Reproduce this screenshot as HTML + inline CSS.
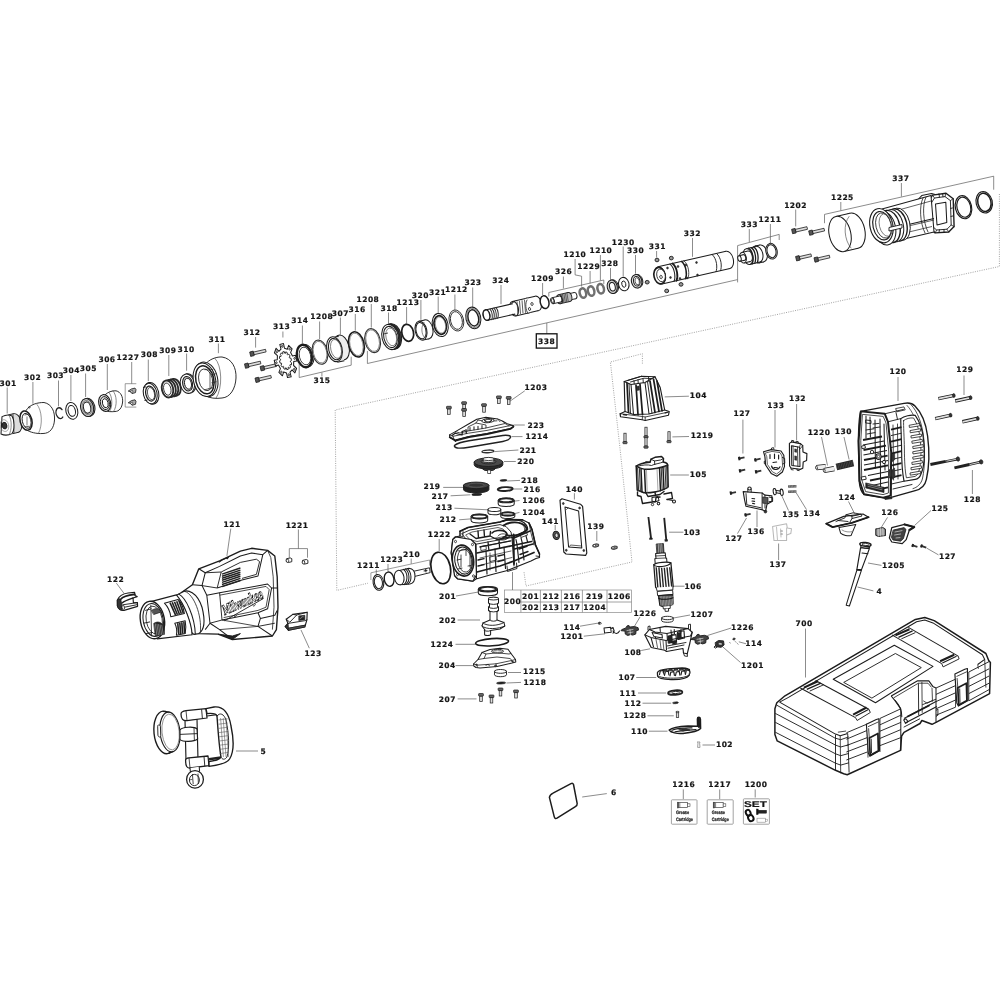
<!DOCTYPE html>
<html><head><meta charset="utf-8"><title>Exploded parts diagram</title>
<style>
html,body{margin:0;padding:0;background:#fff}
svg{display:block;filter:blur(0.3px)}
text{font-family:"DejaVu Sans","Liberation Sans",sans-serif;font-weight:bold;fill:#151515;letter-spacing:0.5px;text-rendering:geometricPrecision;stroke:#151515;stroke-width:0.2px}
</style></head><body>
<svg width="1000" height="1000" viewBox="0 0 1000 1000">
<rect width="1000" height="1000" fill="#fff"/>
<polyline points="999.4,194 999.4,266.5 335.2,410 336.8,590.4 368,583.2" fill="none" stroke="#8c8c8c" stroke-width="0.8" stroke-linejoin="round" stroke-dasharray="1 1.3"/>
<polyline points="642.4,363.6 642.4,353.7 610.4,362 620,448.4 632,562 526,586 524,572" fill="none" stroke="#8c8c8c" stroke-width="0.8" stroke-linejoin="round" stroke-dasharray="1 1.3"/>
<text x="536" y="389.5" text-anchor="middle" font-size="7.5">1203</text>
<polyline points="524.8,390.8 508.8,402" fill="none" stroke="#5a5a5a" stroke-width="0.7" stroke-linejoin="round"/>
<text x="536" y="427.5" text-anchor="middle" font-size="7.5">223</text>
<polyline points="524.8,425 513.6,425" fill="none" stroke="#5a5a5a" stroke-width="0.7" stroke-linejoin="round"/>
<text x="537" y="439.1" text-anchor="middle" font-size="7.5">1214</text>
<polyline points="522.5,436.6 512,436.6" fill="none" stroke="#5a5a5a" stroke-width="0.7" stroke-linejoin="round"/>
<text x="528" y="452.5" text-anchor="middle" font-size="7.5">221</text>
<polyline points="518.4,450 494.4,451.6" fill="none" stroke="#5a5a5a" stroke-width="0.7" stroke-linejoin="round"/>
<text x="525.8" y="464" text-anchor="middle" font-size="7.5">220</text>
<polyline points="515.8,461.5 504,461.5" fill="none" stroke="#5a5a5a" stroke-width="0.7" stroke-linejoin="round"/>
<text x="529.6" y="482.9" text-anchor="middle" font-size="7.5">218</text>
<polyline points="520,480.4 507.2,481" fill="none" stroke="#5a5a5a" stroke-width="0.7" stroke-linejoin="round"/>
<text x="532.2" y="491.5" text-anchor="middle" font-size="7.5">216</text>
<polyline points="522.2,489 512,489" fill="none" stroke="#5a5a5a" stroke-width="0.7" stroke-linejoin="round"/>
<text x="533.8" y="503" text-anchor="middle" font-size="7.5">1206</text>
<polyline points="519.5,500.5 513,501.3" fill="none" stroke="#5a5a5a" stroke-width="0.7" stroke-linejoin="round"/>
<text x="533.8" y="514.9" text-anchor="middle" font-size="7.5">1204</text>
<polyline points="519.5,512.4 513,514" fill="none" stroke="#5a5a5a" stroke-width="0.7" stroke-linejoin="round"/>
<text x="432" y="489.3" text-anchor="middle" font-size="7.5">219</text>
<polyline points="443.2,487.4 464,487.4" fill="none" stroke="#5a5a5a" stroke-width="0.7" stroke-linejoin="round"/>
<text x="440" y="498.9" text-anchor="middle" font-size="7.5">217</text>
<polyline points="450.6,495.8 470.4,494.8" fill="none" stroke="#5a5a5a" stroke-width="0.7" stroke-linejoin="round"/>
<text x="444.2" y="510.1" text-anchor="middle" font-size="7.5">213</text>
<polyline points="454.4,508.2 488,509.8" fill="none" stroke="#5a5a5a" stroke-width="0.7" stroke-linejoin="round"/>
<text x="448" y="522.3" text-anchor="middle" font-size="7.5">212</text>
<polyline points="459.2,519.8 472,518.8" fill="none" stroke="#5a5a5a" stroke-width="0.7" stroke-linejoin="round"/>
<text x="439.2" y="537.1" text-anchor="middle" font-size="7.5">1222</text>
<polyline points="439.2,539 439.2,551.2" fill="none" stroke="#5a5a5a" stroke-width="0.7" stroke-linejoin="round"/>
<text x="411.6" y="556.5" text-anchor="middle" font-size="7.5">210</text>
<polyline points="411.2,558.5 411.2,563.8" fill="none" stroke="#5a5a5a" stroke-width="0.7" stroke-linejoin="round"/>
<text x="391.8" y="562.3" text-anchor="middle" font-size="7.5">1223</text>
<polyline points="388,564 388,571.2" fill="none" stroke="#5a5a5a" stroke-width="0.7" stroke-linejoin="round"/>
<text x="368.5" y="567.5" text-anchor="middle" font-size="7.5">1211</text>
<polyline points="376.3,569.5 376.3,574.4" fill="none" stroke="#5a5a5a" stroke-width="0.7" stroke-linejoin="round"/>
<text x="447.6" y="598.9" text-anchor="middle" font-size="7.5">201</text>
<polyline points="456,596 478.4,592" fill="none" stroke="#5a5a5a" stroke-width="0.7" stroke-linejoin="round"/>
<text x="447.7" y="622.5" text-anchor="middle" font-size="7.5">202</text>
<polyline points="457.6,620 480,620" fill="none" stroke="#5a5a5a" stroke-width="0.7" stroke-linejoin="round"/>
<text x="442" y="646.8" text-anchor="middle" font-size="7.5">1224</text>
<polyline points="455.5,644.3 475,644.3" fill="none" stroke="#5a5a5a" stroke-width="0.7" stroke-linejoin="round"/>
<text x="447.1" y="668.1" text-anchor="middle" font-size="7.5">204</text>
<polyline points="455.5,665.6 473.5,665.6" fill="none" stroke="#5a5a5a" stroke-width="0.7" stroke-linejoin="round"/>
<text x="534.4" y="674.4" text-anchor="middle" font-size="7.5">1215</text>
<polyline points="521,672.5 508,672.5" fill="none" stroke="#5a5a5a" stroke-width="0.7" stroke-linejoin="round"/>
<text x="535" y="684.9" text-anchor="middle" font-size="7.5">1218</text>
<polyline points="521,682.4 506.5,683" fill="none" stroke="#5a5a5a" stroke-width="0.7" stroke-linejoin="round"/>
<text x="447.4" y="702" text-anchor="middle" font-size="7.5">207</text>
<polyline points="457.6,698.9 476.5,698.9" fill="none" stroke="#5a5a5a" stroke-width="0.7" stroke-linejoin="round"/>
<text x="574.4" y="491.5" text-anchor="middle" font-size="7.5">140</text>
<polyline points="574.4,493.2 574.4,499.5" fill="none" stroke="#5a5a5a" stroke-width="0.7" stroke-linejoin="round"/>
<text x="550.4" y="523.5" text-anchor="middle" font-size="7.5">141</text>
<polyline points="555.2,525 555.2,530" fill="none" stroke="#5a5a5a" stroke-width="0.7" stroke-linejoin="round"/>
<text x="595.8" y="529.3" text-anchor="middle" font-size="7.5">139</text>
<polyline points="596.8,531 596.8,541" fill="none" stroke="#5a5a5a" stroke-width="0.7" stroke-linejoin="round"/>
<text x="698.4" y="398.3" text-anchor="middle" font-size="7.5">104</text>
<polyline points="688.9,396.2 664.7,396.9" fill="none" stroke="#5a5a5a" stroke-width="0.7" stroke-linejoin="round"/>
<text x="702.1" y="438.3" text-anchor="middle" font-size="7.5">1219</text>
<polyline points="689,436.5 672.4,436.9" fill="none" stroke="#5a5a5a" stroke-width="0.7" stroke-linejoin="round"/>
<text x="698.4" y="477.2" text-anchor="middle" font-size="7.5">105</text>
<polyline points="688.9,475 670.2,475" fill="none" stroke="#5a5a5a" stroke-width="0.7" stroke-linejoin="round"/>
<text x="692.2" y="534.7" text-anchor="middle" font-size="7.5">103</text>
<polyline points="683.4,532.2 669.1,532.2" fill="none" stroke="#5a5a5a" stroke-width="0.7" stroke-linejoin="round"/>
<text x="693.2" y="588.7" text-anchor="middle" font-size="7.5">106</text>
<polyline points="684.5,586.2 673.8,586.2" fill="none" stroke="#5a5a5a" stroke-width="0.7" stroke-linejoin="round"/>
<text x="702" y="616.7" text-anchor="middle" font-size="7.5">1207</text>
<polyline points="690,615 672.5,618.2" fill="none" stroke="#5a5a5a" stroke-width="0.7" stroke-linejoin="round"/>
<text x="645" y="615.5" text-anchor="middle" font-size="7.5">1226</text>
<polyline points="640,617 634.5,626.2" fill="none" stroke="#5a5a5a" stroke-width="0.7" stroke-linejoin="round"/>
<text x="742.5" y="630" text-anchor="middle" font-size="7.5">1226</text>
<polyline points="731.2,628 707.5,635.5" fill="none" stroke="#5a5a5a" stroke-width="0.7" stroke-linejoin="round"/>
<text x="572" y="630" text-anchor="middle" font-size="7.5">114</text>
<polyline points="580,626.2 597.5,623.2" fill="none" stroke="#5a5a5a" stroke-width="0.7" stroke-linejoin="round"/>
<text x="572" y="638.8" text-anchor="middle" font-size="7.5">1201</text>
<polyline points="583.8,636.2 605,633.8" fill="none" stroke="#5a5a5a" stroke-width="0.7" stroke-linejoin="round"/>
<text x="633" y="655" text-anchor="middle" font-size="7.5">108</text>
<polyline points="641.2,650.5 650,648.8" fill="none" stroke="#5a5a5a" stroke-width="0.7" stroke-linejoin="round"/>
<text x="752.5" y="668" text-anchor="middle" font-size="7.5">1201</text>
<polyline points="740.5,662.5 722,646.2" fill="none" stroke="#5a5a5a" stroke-width="0.7" stroke-linejoin="round"/>
<text x="753.8" y="646.2" text-anchor="middle" font-size="7.5">114</text>
<polyline points="746.2,643.8 738.8,641.8" fill="none" stroke="#5a5a5a" stroke-width="0.7" stroke-linejoin="round"/>
<text x="627" y="680" text-anchor="middle" font-size="7.5">107</text>
<polyline points="636.2,677.5 656.2,677.5" fill="none" stroke="#5a5a5a" stroke-width="0.7" stroke-linejoin="round"/>
<text x="628" y="695.5" text-anchor="middle" font-size="7.5">111</text>
<polyline points="638,693 666.2,693" fill="none" stroke="#5a5a5a" stroke-width="0.7" stroke-linejoin="round"/>
<text x="633" y="705.8" text-anchor="middle" font-size="7.5">112</text>
<polyline points="642.5,703.2 671.2,703.2" fill="none" stroke="#5a5a5a" stroke-width="0.7" stroke-linejoin="round"/>
<text x="635" y="718.2" text-anchor="middle" font-size="7.5">1228</text>
<polyline points="647.5,715.8 673.8,715.8" fill="none" stroke="#5a5a5a" stroke-width="0.7" stroke-linejoin="round"/>
<text x="639.5" y="733.8" text-anchor="middle" font-size="7.5">110</text>
<polyline points="648.8,731.2 667.5,731.2" fill="none" stroke="#5a5a5a" stroke-width="0.7" stroke-linejoin="round"/>
<text x="724.5" y="747" text-anchor="middle" font-size="7.5">102</text>
<polyline points="715,745 702.5,745" fill="none" stroke="#5a5a5a" stroke-width="0.7" stroke-linejoin="round"/>
<text x="742" y="415.5" text-anchor="middle" font-size="7.5">127</text>
<polyline points="742.9,419.6 742.9,453.5" fill="none" stroke="#5a5a5a" stroke-width="0.7" stroke-linejoin="round"/>
<text x="775.9" y="408" text-anchor="middle" font-size="7.5">133</text>
<polyline points="775,410 775,447.5" fill="none" stroke="#5a5a5a" stroke-width="0.7" stroke-linejoin="round"/>
<text x="797.5" y="401.4" text-anchor="middle" font-size="7.5">132</text>
<polyline points="796.6,404 796.6,440" fill="none" stroke="#5a5a5a" stroke-width="0.7" stroke-linejoin="round"/>
<text x="819.1" y="435" text-anchor="middle" font-size="7.5">1220</text>
<polyline points="821.5,437 827.5,465.5" fill="none" stroke="#5a5a5a" stroke-width="0.7" stroke-linejoin="round"/>
<text x="843.4" y="434.4" text-anchor="middle" font-size="7.5">130</text>
<polyline points="844,437 849.1,459.5" fill="none" stroke="#5a5a5a" stroke-width="0.7" stroke-linejoin="round"/>
<text x="898" y="374.4" text-anchor="middle" font-size="7.5">120</text>
<polyline points="898,377 898,401" fill="none" stroke="#5a5a5a" stroke-width="0.7" stroke-linejoin="round"/>
<text x="964.9" y="372" text-anchor="middle" font-size="7.5">129</text>
<polyline points="964,375.5 964,395" fill="none" stroke="#5a5a5a" stroke-width="0.7" stroke-linejoin="round"/>
<text x="972.4" y="501.6" text-anchor="middle" font-size="7.5">128</text>
<polyline points="972.4,470 972.4,494" fill="none" stroke="#5a5a5a" stroke-width="0.7" stroke-linejoin="round"/>
<text x="847" y="500.1" text-anchor="middle" font-size="7.5">124</text>
<polyline points="848.5,501.5 854.5,513.5" fill="none" stroke="#5a5a5a" stroke-width="0.7" stroke-linejoin="round"/>
<text x="889.9" y="515.4" text-anchor="middle" font-size="7.5">126</text>
<polyline points="887.5,517.4 881.5,527" fill="none" stroke="#5a5a5a" stroke-width="0.7" stroke-linejoin="round"/>
<text x="940" y="510.6" text-anchor="middle" font-size="7.5">125</text>
<polyline points="931,510.5 914.5,525.5" fill="none" stroke="#5a5a5a" stroke-width="0.7" stroke-linejoin="round"/>
<text x="947.5" y="558.9" text-anchor="middle" font-size="7.5">127</text>
<polyline points="938.5,554.9 926.5,548" fill="none" stroke="#5a5a5a" stroke-width="0.7" stroke-linejoin="round"/>
<text x="893.5" y="567.9" text-anchor="middle" font-size="7.5">1205</text>
<polyline points="881.5,565.4 868,563" fill="none" stroke="#5a5a5a" stroke-width="0.7" stroke-linejoin="round"/>
<text x="879.4" y="594" text-anchor="middle" font-size="7.5">4</text>
<polyline points="873.4,590.9 857.5,587" fill="none" stroke="#5a5a5a" stroke-width="0.7" stroke-linejoin="round"/>
<text x="790.9" y="516.9" text-anchor="middle" font-size="7.5">135</text>
<polyline points="788.5,510.5 781,494" fill="none" stroke="#5a5a5a" stroke-width="0.7" stroke-linejoin="round"/>
<text x="811.9" y="516.3" text-anchor="middle" font-size="7.5">134</text>
<polyline points="806.5,509.6 796,492.5" fill="none" stroke="#5a5a5a" stroke-width="0.7" stroke-linejoin="round"/>
<text x="756.1" y="534" text-anchor="middle" font-size="7.5">136</text>
<polyline points="757,527 757,510.5" fill="none" stroke="#5a5a5a" stroke-width="0.7" stroke-linejoin="round"/>
<text x="733.9" y="540.9" text-anchor="middle" font-size="7.5">127</text>
<polyline points="737.5,533.6 746.5,518" fill="none" stroke="#5a5a5a" stroke-width="0.7" stroke-linejoin="round"/>
<text x="778" y="567" text-anchor="middle" font-size="7.5">137</text>
<polyline points="778.6,543.5 778.6,560" fill="none" stroke="#5a5a5a" stroke-width="0.7" stroke-linejoin="round"/>
<text x="804.2" y="626.4" text-anchor="middle" font-size="7.5">700</text>
<polyline points="805.5,628.6 805.5,677.5" fill="none" stroke="#5a5a5a" stroke-width="0.7" stroke-linejoin="round"/>
<text x="232.1" y="526.7" text-anchor="middle" font-size="7.5">121</text>
<polyline points="230.8,528.6 226.9,555.9" fill="none" stroke="#5a5a5a" stroke-width="0.7" stroke-linejoin="round"/>
<text x="297.1" y="527.7" text-anchor="middle" font-size="7.5">1221</text>
<polyline points="298.4,529.4 298.4,548.6" fill="none" stroke="#5a5a5a" stroke-width="0.7" stroke-linejoin="round"/>
<text x="115.6" y="581.8" text-anchor="middle" font-size="7.5">122</text>
<polyline points="116.4,583.2 124.2,593.6" fill="none" stroke="#5a5a5a" stroke-width="0.7" stroke-linejoin="round"/>
<text x="313.2" y="655.9" text-anchor="middle" font-size="7.5">123</text>
<polyline points="309.3,648.2 301,630" fill="none" stroke="#5a5a5a" stroke-width="0.7" stroke-linejoin="round"/>
<text x="263.4" y="753.5" text-anchor="middle" font-size="7.5">5</text>
<polyline points="236,751 258,751" fill="none" stroke="#5a5a5a" stroke-width="0.7" stroke-linejoin="round"/>
<text x="613.8" y="795.3" text-anchor="middle" font-size="7.5">6</text>
<polyline points="606.8,793.6 582.2,797" fill="none" stroke="#5a5a5a" stroke-width="0.7" stroke-linejoin="round"/>
<text x="683.8" y="787.1" text-anchor="middle" font-size="7.5">1216</text>
<polyline points="683.3,789.4 683.3,799.2" fill="none" stroke="#5a5a5a" stroke-width="0.7" stroke-linejoin="round"/>
<text x="719.7" y="787.1" text-anchor="middle" font-size="7.5">1217</text>
<polyline points="719.7,789.4 719.7,799.2" fill="none" stroke="#5a5a5a" stroke-width="0.7" stroke-linejoin="round"/>
<text x="756.1" y="787.1" text-anchor="middle" font-size="7.5">1200</text>
<polyline points="755.2,789.4 755.2,797.5" fill="none" stroke="#5a5a5a" stroke-width="0.7" stroke-linejoin="round"/>
<polyline points="289.3,557.7 289.3,548.6 307.5,548.6 307.5,557.7" fill="none" stroke="#5a5a5a" stroke-width="0.7" stroke-linejoin="round"/>
<polyline points="370.9,580 370.9,572.8 429.6,560 429.6,565.6" fill="none" stroke="#5a5a5a" stroke-width="0.6" stroke-linejoin="round"/>
<rect x="504.4" y="590" width="127.2" height="22.5" rx="0" fill="none" stroke="#8a8a8a" stroke-width="0.7"/>
<line x1="520.9" y1="590" x2="520.9" y2="612.5" stroke="#8a8a8a" stroke-width="0.8"/>
<line x1="540.4" y1="590" x2="540.4" y2="612.5" stroke="#8a8a8a" stroke-width="0.8"/>
<line x1="561.4" y1="590" x2="561.4" y2="612.5" stroke="#8a8a8a" stroke-width="0.8"/>
<line x1="582.4" y1="590" x2="582.4" y2="612.5" stroke="#8a8a8a" stroke-width="0.8"/>
<line x1="607" y1="590" x2="607" y2="612.5" stroke="#8a8a8a" stroke-width="0.8"/>
<line x1="520.9" y1="602" x2="631.6" y2="602" stroke="#8a8a8a" stroke-width="0.8"/>
<text x="512.7" y="603.9" text-anchor="middle" font-size="7.5">200</text>
<text x="530.6" y="599.1" text-anchor="middle" font-size="7.5">201</text>
<text x="551" y="599.1" text-anchor="middle" font-size="7.5">212</text>
<text x="572" y="599.1" text-anchor="middle" font-size="7.5">216</text>
<text x="594.7" y="599.1" text-anchor="middle" font-size="7.5">219</text>
<text x="619.3" y="599.1" text-anchor="middle" font-size="7.5">1206</text>
<text x="530.6" y="610.1" text-anchor="middle" font-size="7.5">202</text>
<text x="551" y="610.1" text-anchor="middle" font-size="7.5">213</text>
<text x="572" y="610.1" text-anchor="middle" font-size="7.5">217</text>
<text x="594.7" y="610.1" text-anchor="middle" font-size="7.5">1204</text>
<line x1="512.5" y1="590" x2="512.5" y2="572" stroke="#5a5a5a" stroke-width="0.7"/>
<text x="8.1" y="385.5" text-anchor="middle" font-size="7.5">301</text>
<line x1="7.2" y1="387.5" x2="7.2" y2="413.5" stroke="#5a5a5a" stroke-width="0.7"/>
<text x="32.6" y="380.3" text-anchor="middle" font-size="7.5">302</text>
<line x1="32.9" y1="382" x2="32.9" y2="403.7" stroke="#5a5a5a" stroke-width="0.7"/>
<text x="55.5" y="378.4" text-anchor="middle" font-size="7.5">303</text>
<line x1="58.5" y1="380.5" x2="58.5" y2="406.3" stroke="#5a5a5a" stroke-width="0.7"/>
<text x="71.3" y="372.9" text-anchor="middle" font-size="7.5">304</text>
<line x1="70.9" y1="375" x2="70.9" y2="401" stroke="#5a5a5a" stroke-width="0.7"/>
<text x="88.3" y="371.3" text-anchor="middle" font-size="7.5">305</text>
<line x1="85.6" y1="373.5" x2="85.6" y2="397" stroke="#5a5a5a" stroke-width="0.7"/>
<text x="107" y="362.1" text-anchor="middle" font-size="7.5">306</text>
<line x1="107.3" y1="364" x2="107.3" y2="390" stroke="#5a5a5a" stroke-width="0.7"/>
<text x="128" y="359.8" text-anchor="middle" font-size="7.5">1227</text>
<line x1="131.7" y1="362" x2="131.7" y2="383.7" stroke="#5a5a5a" stroke-width="0.7"/>
<text x="149.3" y="357.3" text-anchor="middle" font-size="7.5">308</text>
<line x1="148.3" y1="359.5" x2="148.3" y2="381.1" stroke="#5a5a5a" stroke-width="0.7"/>
<text x="167.9" y="353.1" text-anchor="middle" font-size="7.5">309</text>
<line x1="168.8" y1="355" x2="168.8" y2="376" stroke="#5a5a5a" stroke-width="0.7"/>
<text x="186.1" y="351.5" text-anchor="middle" font-size="7.5">310</text>
<line x1="186.6" y1="353.5" x2="186.6" y2="370.7" stroke="#5a5a5a" stroke-width="0.7"/>
<text x="217" y="341.5" text-anchor="middle" font-size="7.5">311</text>
<line x1="218.4" y1="343.5" x2="218.4" y2="353.2" stroke="#5a5a5a" stroke-width="0.7"/>
<text x="252" y="334.8" text-anchor="middle" font-size="7.5">312</text>
<line x1="255.6" y1="337" x2="255.6" y2="347.6" stroke="#5a5a5a" stroke-width="0.7"/>
<text x="281.6" y="329.4" text-anchor="middle" font-size="7.5">313</text>
<line x1="282.9" y1="331.5" x2="282.9" y2="337.5" stroke="#5a5a5a" stroke-width="0.7"/>
<text x="299.8" y="323.3" text-anchor="middle" font-size="7.5">314</text>
<line x1="302.4" y1="325.5" x2="302.4" y2="343.7" stroke="#5a5a5a" stroke-width="0.7"/>
<text x="321.7" y="319.4" text-anchor="middle" font-size="7.5">1208</text>
<line x1="319.6" y1="321.5" x2="319.6" y2="339.2" stroke="#5a5a5a" stroke-width="0.7"/>
<text x="340.3" y="315.5" text-anchor="middle" font-size="7.5">307</text>
<line x1="340.4" y1="317.5" x2="340.4" y2="334.6" stroke="#5a5a5a" stroke-width="0.7"/>
<text x="357.2" y="311.7" text-anchor="middle" font-size="7.5">316</text>
<line x1="355.3" y1="314" x2="355.3" y2="330.7" stroke="#5a5a5a" stroke-width="0.7"/>
<text x="367.9" y="301.8" text-anchor="middle" font-size="7.5">1208</text>
<line x1="371.3" y1="304" x2="371.3" y2="327.6" stroke="#5a5a5a" stroke-width="0.7"/>
<text x="389.1" y="310.6" text-anchor="middle" font-size="7.5">318</text>
<line x1="388.5" y1="312.5" x2="388.5" y2="323.7" stroke="#5a5a5a" stroke-width="0.7"/>
<text x="408" y="305.1" text-anchor="middle" font-size="7.5">1213</text>
<line x1="406.6" y1="307" x2="406.6" y2="323.7" stroke="#5a5a5a" stroke-width="0.7"/>
<text x="420.4" y="297.8" text-anchor="middle" font-size="7.5">320</text>
<line x1="420.9" y1="300" x2="420.9" y2="319.8" stroke="#5a5a5a" stroke-width="0.7"/>
<text x="437.6" y="294.5" text-anchor="middle" font-size="7.5">321</text>
<line x1="438.2" y1="296.5" x2="438.2" y2="313.3" stroke="#5a5a5a" stroke-width="0.7"/>
<text x="456.4" y="292.3" text-anchor="middle" font-size="7.5">1212</text>
<line x1="454.9" y1="294.5" x2="454.9" y2="310" stroke="#5a5a5a" stroke-width="0.7"/>
<text x="473" y="285.3" text-anchor="middle" font-size="7.5">323</text>
<line x1="472.7" y1="287.5" x2="472.7" y2="307.5" stroke="#5a5a5a" stroke-width="0.7"/>
<text x="500.9" y="283.1" text-anchor="middle" font-size="7.5">324</text>
<line x1="501" y1="285" x2="501" y2="304.1" stroke="#5a5a5a" stroke-width="0.7"/>
<text x="542.5" y="280.6" text-anchor="middle" font-size="7.5">1209</text>
<line x1="542.6" y1="283" x2="542.6" y2="295" stroke="#5a5a5a" stroke-width="0.7"/>
<text x="563.6" y="274.2" text-anchor="middle" font-size="7.5">326</text>
<line x1="563.4" y1="276.5" x2="563.4" y2="288.5" stroke="#5a5a5a" stroke-width="0.7"/>
<text x="588.8" y="268.8" text-anchor="middle" font-size="7.5">1229</text>
<line x1="590.1" y1="271" x2="590.1" y2="283.5" stroke="#5a5a5a" stroke-width="0.7"/>
<text x="600.9" y="252.9" text-anchor="middle" font-size="7.5">1210</text>
<line x1="600.4" y1="255" x2="600.4" y2="280.5" stroke="#5a5a5a" stroke-width="0.7"/>
<text x="609.8" y="265.7" text-anchor="middle" font-size="7.5">328</text>
<line x1="610.5" y1="268" x2="610.5" y2="280.9" stroke="#5a5a5a" stroke-width="0.7"/>
<text x="623.2" y="244.5" text-anchor="middle" font-size="7.5">1230</text>
<line x1="623.2" y1="246.5" x2="623.2" y2="276.3" stroke="#5a5a5a" stroke-width="0.7"/>
<text x="635.6" y="253" text-anchor="middle" font-size="7.5">330</text>
<line x1="635.5" y1="255" x2="635.5" y2="273.7" stroke="#5a5a5a" stroke-width="0.7"/>
<text x="657.4" y="248.8" text-anchor="middle" font-size="7.5">331</text>
<line x1="656.6" y1="251" x2="656.6" y2="257.5" stroke="#5a5a5a" stroke-width="0.7"/>
<text x="692.3" y="235.8" text-anchor="middle" font-size="7.5">332</text>
<line x1="692.5" y1="238" x2="692.5" y2="256.8" stroke="#5a5a5a" stroke-width="0.7"/>
<text x="749.4" y="226.9" text-anchor="middle" font-size="7.5">333</text>
<line x1="749.3" y1="229" x2="749.3" y2="242" stroke="#5a5a5a" stroke-width="0.7"/>
<text x="770" y="222.1" text-anchor="middle" font-size="7.5">1211</text>
<line x1="770.4" y1="224" x2="770.4" y2="243.2" stroke="#5a5a5a" stroke-width="0.7"/>
<text x="795.6" y="207.5" text-anchor="middle" font-size="7.5">1202</text>
<line x1="795.7" y1="209.5" x2="795.7" y2="226.4" stroke="#5a5a5a" stroke-width="0.7"/>
<text x="842.4" y="200" text-anchor="middle" font-size="7.5">1225</text>
<line x1="840.8" y1="202" x2="840.8" y2="210.5" stroke="#5a5a5a" stroke-width="0.7"/>
<text x="900.8" y="181.2" text-anchor="middle" font-size="7.5">337</text>
<line x1="901.4" y1="183" x2="901.4" y2="196.6" stroke="#5a5a5a" stroke-width="0.7"/>
<text x="574.9" y="257.3" text-anchor="middle" font-size="7.5">1210</text>
<polyline points="575.1,259 575.1,274.9 581.6,276.2 581.6,286.5" fill="none" stroke="#5a5a5a" stroke-width="0.7" stroke-linejoin="round"/>
<text x="322" y="383" text-anchor="middle" font-size="7.5">315</text>
<polyline points="299.2,363.2 299.2,377.5 351.2,365.2 351.2,356.7" fill="none" stroke="#5a5a5a" stroke-width="0.7" stroke-linejoin="round"/>
<line x1="321.9" y1="372.5" x2="321.9" y2="376.5" stroke="#5a5a5a" stroke-width="0.7"/>
<polyline points="367.4,351 367.4,363.5 737.6,279.6 737.6,245.6 779.2,234.4 779.2,240" fill="none" stroke="#5a5a5a" stroke-width="0.7" stroke-linejoin="round"/>
<line x1="737.6" y1="279.6" x2="737.6" y2="282.4" stroke="#5a5a5a" stroke-width="0.7"/>
<line x1="546.8" y1="323" x2="546.8" y2="333.8" stroke="#5a5a5a" stroke-width="0.7"/>
<rect x="536.3" y="333.8" width="20.7" height="14.3" rx="0" fill="#fff" stroke="#111" stroke-width="1.3"/>
<text x="546.7" y="343.5" text-anchor="middle" font-size="7.5">338</text>
<polyline points="548.8,296.5 548.8,292.5 603.8,280 603.8,284" fill="none" stroke="#5a5a5a" stroke-width="0.7" stroke-linejoin="round"/>
<polyline points="824.5,223.2 824.5,214.4 993.7,176.2 993.7,189.7" fill="none" stroke="#5a5a5a" stroke-width="0.7" stroke-linejoin="round"/>
<polyline points="136.3,383.7 125.2,383.7 125.2,407.1 136.3,407.1" fill="none" stroke="#5a5a5a" stroke-width="0.6" stroke-linejoin="round"/>
<ellipse cx="15.8" cy="423.1" rx="5.8" ry="9.6" fill="#ddd" stroke="#1c1c1c" stroke-width="0.92" transform="rotate(-13.034363392234964 15.8 423.1)"/>
<polygon points="8.3,414.9 13.6,413.7 18,432.4 12.7,433.7" fill="#ddd" stroke="none" stroke-width="0.0" stroke-linejoin="round"/>
<line x1="8.3" y1="414.9" x2="13.6" y2="413.7" stroke="#1c1c1c" stroke-width="0.92"/>
<line x1="12.7" y1="433.7" x2="18" y2="432.4" stroke="#1c1c1c" stroke-width="0.92"/>
<line x1="13" y1="414.3" x2="14" y2="433.1" stroke="#1c1c1c" stroke-width="0.69"/>
<path d="M2,416.6 C6,414.6 10,415 12,416 C14.5,420 14.8,430 12,433.6 C8,435.6 4,435.4 1,434 Z" fill="#fff" stroke="#1c1c1c" stroke-width="1.03" stroke-linejoin="round" stroke-linecap="round" />
<path d="M9,415.2 C12,420 12,430 9,434.8" fill="none" stroke="#555" stroke-width="0.69" stroke-linejoin="round" stroke-linecap="round" />
<ellipse cx="4.5" cy="425.6" rx="2.4" ry="3.4" fill="#333" stroke="#1c1c1c" stroke-width="0.92" transform="rotate(-13 4.5 425.6)"/>
<ellipse cx="4.5" cy="425.6" rx="4.2" ry="6" fill="none" stroke="#777" stroke-width="0.57" transform="rotate(-13 4.5 425.6)"/>
<path d="M26,410.5 C30,404 38,402.5 44,402.5 C52,404 55,412 54.5,420 C54,428 50,433.5 43,433.5 C36,434 30,432 27.5,430.5" fill="#fff" stroke="#1c1c1c" stroke-width="0.92" stroke-linejoin="round" stroke-linecap="round" />
<path d="M37,404.5 C42,410 43,425 38.5,433.3" fill="none" stroke="#666" stroke-width="0.69" stroke-linejoin="round" stroke-linecap="round" />
<ellipse cx="26" cy="420.6" rx="5.9" ry="9.8" fill="#fff" stroke="#1c1c1c" stroke-width="1.49" transform="rotate(-13 26 420.6)"/>
<ellipse cx="26.6" cy="420.8" rx="4.3" ry="7.6" fill="#fff" stroke="#1c1c1c" stroke-width="0.92" transform="rotate(-13 26.6 420.8)"/>
<line x1="24.5" y1="415" x2="29.5" y2="414" stroke="#1c1c1c" stroke-width="0.69"/>
<line x1="24.5" y1="427" x2="29.5" y2="426.2" stroke="#1c1c1c" stroke-width="0.69"/>
<line x1="27" y1="416.5" x2="27" y2="425.5" stroke="#1c1c1c" stroke-width="0.57"/>
<ellipse cx="29.3" cy="407.3" rx="0.9" ry="0.7" fill="none" stroke="#1c1c1c" stroke-width="0.69" transform="rotate(-13 29.3 407.3)"/>
<path d="M62,409.6 A3.6,5.5 -13 1 0 62.8,417" fill="none" stroke="#222" stroke-width="1.38" stroke-linejoin="round" stroke-linecap="round" />
<ellipse cx="71.8" cy="410.9" rx="5.9" ry="8.5" fill="#fff" stroke="#1c1c1c" stroke-width="1.03" transform="rotate(-13 71.8 410.9)"/>
<ellipse cx="71.8" cy="410.9" rx="3.6" ry="5.5" fill="#fff" stroke="#1c1c1c" stroke-width="1.03" transform="rotate(-13 71.8 410.9)"/>
<ellipse cx="88.5" cy="407.3" rx="6.4" ry="9.1" fill="#bbb" stroke="#1c1c1c" stroke-width="1.03" transform="rotate(-13 88.5 407.3)"/>
<ellipse cx="87.1" cy="407.6" rx="6.4" ry="9.1" fill="#ccc" stroke="#1c1c1c" stroke-width="1.03" transform="rotate(-13 87.1 407.6)"/>
<ellipse cx="87.1" cy="407.6" rx="3.6" ry="5.6" fill="#fff" stroke="#1c1c1c" stroke-width="1.03" transform="rotate(-13 87.1 407.6)"/>
<ellipse cx="87.1" cy="407.6" rx="4.8" ry="7.2" fill="none" stroke="#555" stroke-width="0.57" transform="rotate(-13 87.1 407.6)"/>
<path d="M105,394.8 C108,392 112,390.5 116,390.8 C121,392 123,397 122.6,402 C122,408 119,411.5 115,411.5 C111,412 108,411.5 106,411" fill="#fff" stroke="#1c1c1c" stroke-width="0.92" stroke-linejoin="round" stroke-linecap="round" />
<path d="M113,391 C117,395 117.5,406 113.5,411.6" fill="none" stroke="#555" stroke-width="0.69" stroke-linejoin="round" stroke-linecap="round" />
<path d="M109,392.5 C112.5,396 113,407 109.5,411.5" fill="none" stroke="#555" stroke-width="0.69" stroke-linejoin="round" stroke-linecap="round" />
<ellipse cx="104.7" cy="403" rx="5.9" ry="8.5" fill="#fff" stroke="#1c1c1c" stroke-width="1.15" transform="rotate(-13 104.7 403)"/>
<ellipse cx="104.9" cy="403.1" rx="4.5" ry="6.6" fill="#ddd" stroke="#1c1c1c" stroke-width="0.92" transform="rotate(-13 104.9 403.1)"/>
<ellipse cx="105.3" cy="403.2" rx="2.8" ry="4.6" fill="#fff" stroke="#1c1c1c" stroke-width="0.92" transform="rotate(-13 105.3 403.2)"/>
<path d="M128.5,390.9 l3,-2 l3.5,-0.8 l1,1.5 l-0.5,3 l-3.5,1 l-1,-1.6 z" fill="#aaa" stroke="#1c1c1c" stroke-width="0.8" stroke-linejoin="round" stroke-linecap="round" />
<path d="M130.5,391.4 l2,-1 l0.5,1.5 l-1.5,0.8z" fill="#fff" stroke="#1c1c1c" stroke-width="0.57" stroke-linejoin="round" stroke-linecap="round" />
<path d="M128.5,402.6 l3,-2 l3.5,-0.8 l1,1.5 l-0.5,3 l-3.5,1 l-1,-1.6 z" fill="#aaa" stroke="#1c1c1c" stroke-width="0.8" stroke-linejoin="round" stroke-linecap="round" />
<path d="M130.5,403.1 l2,-1 l0.5,1.5 l-1.5,0.8z" fill="#fff" stroke="#1c1c1c" stroke-width="0.57" stroke-linejoin="round" stroke-linecap="round" />
<ellipse cx="151.5" cy="393.3" rx="7.2" ry="11" fill="#fff" stroke="#1c1c1c" stroke-width="1.03" transform="rotate(-13 151.5 393.3)"/>
<ellipse cx="150.2" cy="393.6" rx="6.8" ry="10.4" fill="#fff" stroke="#1c1c1c" stroke-width="1.03" transform="rotate(-13 150.2 393.6)"/>
<ellipse cx="150.4" cy="393.6" rx="4.6" ry="7.6" fill="#fff" stroke="#1c1c1c" stroke-width="1.26" transform="rotate(-13 150.4 393.6)"/>
<ellipse cx="151" cy="393.6" rx="3.4" ry="6.2" fill="#fff" stroke="#1c1c1c" stroke-width="0.69" transform="rotate(-13 151 393.6)"/>
<line x1="143" y1="387.5" x2="146" y2="386.8" stroke="#1c1c1c" stroke-width="0.92"/>
<line x1="144.5" y1="400.5" x2="147.5" y2="400" stroke="#1c1c1c" stroke-width="0.92"/>
<ellipse cx="175" cy="387.3" rx="5.6" ry="8.6" fill="#fff" stroke="#2a2a2a" stroke-width="1.84" transform="rotate(-13 175 387.3)"/>
<ellipse cx="172.5" cy="387.9" rx="5.6" ry="8.6" fill="#fff" stroke="#2a2a2a" stroke-width="1.84" transform="rotate(-13 172.5 387.9)"/>
<ellipse cx="170" cy="388.5" rx="5.6" ry="8.6" fill="#fff" stroke="#2a2a2a" stroke-width="1.84" transform="rotate(-13 170 388.5)"/>
<ellipse cx="167.5" cy="389" rx="5.6" ry="8.6" fill="#fff" stroke="#2a2a2a" stroke-width="1.84" transform="rotate(-13 167.5 389)"/>
<ellipse cx="167.3" cy="389.1" rx="3.6" ry="6.2" fill="#fff" stroke="#1c1c1c" stroke-width="0.8" transform="rotate(-13 167.3 389.1)"/>
<ellipse cx="188.8" cy="383.4" rx="7" ry="9.8" fill="#fff" stroke="#1c1c1c" stroke-width="1.03" transform="rotate(-13 188.8 383.4)"/>
<ellipse cx="187.4" cy="383.7" rx="7" ry="9.8" fill="#fff" stroke="#1c1c1c" stroke-width="1.03" transform="rotate(-13 187.4 383.7)"/>
<ellipse cx="187.6" cy="383.7" rx="4.9" ry="7.3" fill="#ccc" stroke="#1c1c1c" stroke-width="1.03" transform="rotate(-13 187.6 383.7)"/>
<ellipse cx="188" cy="383.7" rx="3.4" ry="5.6" fill="#fff" stroke="#1c1c1c" stroke-width="0.92" transform="rotate(-13 188 383.7)"/>
<path d="M207,362.5 C211,358.5 217,356.8 222,357 C232,358.5 236.5,368 236,378 C235.5,389 230,397.5 222,398 C215,399 210,398 206,396" fill="#fff" stroke="#1c1c1c" stroke-width="0.92" stroke-linejoin="round" stroke-linecap="round" />
<path d="M215,358.5 C222,365 223,388 216,398.3" fill="none" stroke="#555" stroke-width="0.69" stroke-linejoin="round" stroke-linecap="round" />
<ellipse cx="206" cy="379.4" rx="11.6" ry="17.6" fill="#fff" stroke="#1c1c1c" stroke-width="1.03" transform="rotate(-13 206 379.4)"/>
<ellipse cx="204.5" cy="379.8" rx="11" ry="17" fill="#fff" stroke="#1c1c1c" stroke-width="1.03" transform="rotate(-13 204.5 379.8)"/>
<ellipse cx="204.8" cy="379.8" rx="9" ry="14.2" fill="#fff" stroke="#1c1c1c" stroke-width="1.49" transform="rotate(-13 204.8 379.8)"/>
<ellipse cx="205.6" cy="379.8" rx="6.8" ry="11" fill="#fff" stroke="#1c1c1c" stroke-width="0.8" transform="rotate(-13 205.6 379.8)"/>
<line x1="204.7" y1="369.8" x2="209.7" y2="368.7" stroke="#1c1c1c" stroke-width="0.69"/>
<line x1="208.3" y1="370.3" x2="213.3" y2="369.2" stroke="#1c1c1c" stroke-width="0.69"/>
<line x1="211" y1="374.8" x2="216" y2="373.7" stroke="#1c1c1c" stroke-width="0.69"/>
<line x1="211.4" y1="382.8" x2="216.4" y2="381.7" stroke="#1c1c1c" stroke-width="0.69"/>
<line x1="208.3" y1="388.8" x2="213.3" y2="387.7" stroke="#1c1c1c" stroke-width="0.69"/>
<line x1="204.2" y1="389.8" x2="209.2" y2="388.7" stroke="#1c1c1c" stroke-width="0.69"/>
<line x1="210" y1="372" x2="210" y2="388" stroke="#1c1c1c" stroke-width="0.69"/>
<line x1="213" y1="371.5" x2="213" y2="386" stroke="#1c1c1c" stroke-width="0.57"/>
<polygon points="254,354.7 266.1,351.9 265.5,349.3 253.4,352.1" fill="#ddd" stroke="#1c1c1c" stroke-width="0.8" stroke-linejoin="round"/>
<polygon points="250.7,356.4 254.2,355.6 253.2,351.1 249.7,352" fill="#555" stroke="#1c1c1c" stroke-width="0.8" stroke-linejoin="round"/>
<polygon points="248.8,366.6 260.9,363.8 260.3,361.2 248.2,364" fill="#ddd" stroke="#1c1c1c" stroke-width="0.8" stroke-linejoin="round"/>
<polygon points="245.5,368.3 249,367.5 248,363 244.5,363.9" fill="#555" stroke="#1c1c1c" stroke-width="0.8" stroke-linejoin="round"/>
<polygon points="264.4,369.2 276.5,366.4 275.9,363.8 263.8,366.6" fill="#ddd" stroke="#1c1c1c" stroke-width="0.8" stroke-linejoin="round"/>
<polygon points="261.1,370.9 264.6,370.1 263.6,365.6 260.1,366.5" fill="#555" stroke="#1c1c1c" stroke-width="0.8" stroke-linejoin="round"/>
<polygon points="259.3,380.8 271.4,378 270.8,375.4 258.7,378.2" fill="#ddd" stroke="#1c1c1c" stroke-width="0.8" stroke-linejoin="round"/>
<polygon points="256,382.5 259.5,381.7 258.5,377.2 255,378.1" fill="#555" stroke="#1c1c1c" stroke-width="0.8" stroke-linejoin="round"/>
<polygon points="295.5,355.3 296.8,361 293.7,361.5 293.6,365.5 296.6,368.3 294.9,372.9 292.1,369.9 290,372.1 291.2,376.8 287.5,377.6 286.5,372.9 283.7,371.9 282.4,375.8 278.9,372.4 280.4,368.6 278.5,365.1 275.5,365.9 274.2,360.2 277.3,359.7 277.4,355.7 274.4,352.9 276.1,348.3 278.9,351.3 281,349.1 279.8,344.4 283.5,343.6 284.5,348.3 287.3,349.3 288.6,345.4 292.1,348.8 290.6,352.6 292.5,356.1" fill="#fff" stroke="#1c1c1c" stroke-width="1.03" stroke-linejoin="round"/>
<polygon points="290.9,358.1 291.5,360.4 290.4,361 290.4,361.9 291.6,362.8 291.3,365 290.1,364.6 289.8,365.3 290.6,366.9 289.6,368.4 288.5,367.1 288.1,367.4 288.3,369.3 286.8,369.7 286.2,367.9 285.6,367.8 285.2,369.4 283.7,368.5 283.7,366.7 283.2,366.2 282.2,367.1 281,365.3 281.7,363.9 281.3,363.1 280.1,363.1 279.5,360.8 280.6,360.2 280.6,359.3 279.4,358.4 279.7,356.2 280.9,356.6 281.2,355.9 280.4,354.3 281.4,352.8 282.5,354.1 282.9,353.8 282.7,351.9 284.2,351.5 284.8,353.3 285.4,353.4 285.8,351.8 287.3,352.7 287.3,354.5 287.8,355 288.8,354.1 290,355.9 289.3,357.3 289.7,358.1" fill="#fff" stroke="#1c1c1c" stroke-width="0.92" stroke-linejoin="round"/>
<ellipse cx="294.6" cy="358.5" rx="0.7" ry="1" fill="none" stroke="#1c1c1c" stroke-width="0.8" transform="rotate(-13 294.6 358.5)"/>
<ellipse cx="294.3" cy="369.2" rx="0.7" ry="1" fill="none" stroke="#1c1c1c" stroke-width="0.8" transform="rotate(-13 294.3 369.2)"/>
<ellipse cx="288.8" cy="374.8" rx="0.7" ry="1" fill="none" stroke="#1c1c1c" stroke-width="0.8" transform="rotate(-13 288.8 374.8)"/>
<ellipse cx="281.4" cy="372.1" rx="0.7" ry="1" fill="none" stroke="#1c1c1c" stroke-width="0.8" transform="rotate(-13 281.4 372.1)"/>
<ellipse cx="276.4" cy="362.7" rx="0.7" ry="1" fill="none" stroke="#1c1c1c" stroke-width="0.8" transform="rotate(-13 276.4 362.7)"/>
<ellipse cx="276.7" cy="352" rx="0.7" ry="1" fill="none" stroke="#1c1c1c" stroke-width="0.8" transform="rotate(-13 276.7 352)"/>
<ellipse cx="282.2" cy="346.4" rx="0.7" ry="1" fill="none" stroke="#1c1c1c" stroke-width="0.8" transform="rotate(-13 282.2 346.4)"/>
<ellipse cx="289.6" cy="349.1" rx="0.7" ry="1" fill="none" stroke="#1c1c1c" stroke-width="0.8" transform="rotate(-13 289.6 349.1)"/>
<ellipse cx="306.2" cy="355.7" rx="7.6" ry="11.5" fill="#fff" stroke="#1c1c1c" stroke-width="0.92" transform="rotate(-13 306.2 355.7)"/>
<ellipse cx="304.4" cy="356" rx="7.4" ry="11.4" fill="#fff" stroke="#1c1c1c" stroke-width="2.3" transform="rotate(-13 304.4 356)"/>
<ellipse cx="305" cy="356" rx="5.6" ry="9" fill="#fff" stroke="#1c1c1c" stroke-width="0.8" transform="rotate(-13 305 356)"/>
<ellipse cx="320" cy="352.2" rx="7.6" ry="12.2" fill="#fff" stroke="#333" stroke-width="1.15" transform="rotate(-13 320 352.2)"/>
<ellipse cx="320" cy="352.2" rx="6.6" ry="11" fill="#fff" stroke="#555" stroke-width="0.69" transform="rotate(-13 320 352.2)"/>
<ellipse cx="341.5" cy="347.5" rx="7.6" ry="12.6" fill="#eee" stroke="#1c1c1c" stroke-width="1.03" transform="rotate(-13 341.5 347.5)"/>
<polygon points="331.7,337.8 338.7,336.2 344.3,360.7 337.3,362.3" fill="#e8e8e8" stroke="none" stroke-width="0.0" stroke-linejoin="round"/>
<line x1="331.7" y1="337.8" x2="338.7" y2="336.2" stroke="#1c1c1c" stroke-width="1.03"/>
<line x1="337.3" y1="362.3" x2="344.3" y2="360.7" stroke="#1c1c1c" stroke-width="1.03"/>
<ellipse cx="334.5" cy="349.2" rx="7.6" ry="12.6" fill="#fff" stroke="#1c1c1c" stroke-width="1.03" transform="rotate(-13 334.5 349.2)"/>
<ellipse cx="335" cy="349.1" rx="6.3" ry="10.8" fill="#fff" stroke="#1c1c1c" stroke-width="1.03" transform="rotate(-13 335 349.1)"/>
<ellipse cx="336" cy="348.9" rx="5.2" ry="9.6" fill="#fff" stroke="#555" stroke-width="0.69" transform="rotate(-13 336 348.9)"/>
<ellipse cx="356.4" cy="344.4" rx="7.6" ry="12.8" fill="#fff" stroke="#1c1c1c" stroke-width="1.61" transform="rotate(-13 356.4 344.4)"/>
<ellipse cx="356.4" cy="344.4" rx="6.4" ry="11.4" fill="#fff" stroke="#555" stroke-width="0.57" transform="rotate(-13 356.4 344.4)"/>
<ellipse cx="372.6" cy="340.6" rx="7.6" ry="12.2" fill="#fff" stroke="#333" stroke-width="1.15" transform="rotate(-13 372.6 340.6)"/>
<ellipse cx="372.6" cy="340.6" rx="6.6" ry="11" fill="#fff" stroke="#555" stroke-width="0.69" transform="rotate(-13 372.6 340.6)"/>
<ellipse cx="393.2" cy="336.3" rx="8.2" ry="12.8" fill="#444" stroke="#1c1c1c" stroke-width="1.03" transform="rotate(-13 393.2 336.3)"/>
<ellipse cx="391.6" cy="336.7" rx="8.2" ry="12.8" fill="#444" stroke="#1c1c1c" stroke-width="1.03" transform="rotate(-13 391.6 336.7)"/>
<ellipse cx="390.2" cy="337" rx="8.2" ry="12.8" fill="#fff" stroke="#1c1c1c" stroke-width="1.03" transform="rotate(-13 390.2 337)"/>
<ellipse cx="390.4" cy="337" rx="6.6" ry="10.8" fill="#fff" stroke="#1c1c1c" stroke-width="1.03" transform="rotate(-13 390.4 337)"/>
<ellipse cx="391.2" cy="336.9" rx="5.2" ry="9" fill="#fff" stroke="#555" stroke-width="0.69" transform="rotate(-13 391.2 336.9)"/>
<line x1="383.5" y1="334" x2="388" y2="333" stroke="#1c1c1c" stroke-width="0.8"/>
<ellipse cx="407.7" cy="332.8" rx="5.8" ry="8.6" fill="#fff" stroke="#1c1c1c" stroke-width="1.72" transform="rotate(-13 407.7 332.8)"/>
<ellipse cx="427" cy="329.3" rx="5.8" ry="9.6" fill="#fff" stroke="#1c1c1c" stroke-width="1.03" transform="rotate(-13.034363392234964 427 329.3)"/>
<polygon points="418.8,321.3 424.8,320 429.2,338.7 423.2,340.1" fill="#fff" stroke="none" stroke-width="0.0" stroke-linejoin="round"/>
<line x1="418.8" y1="321.3" x2="424.8" y2="320" stroke="#1c1c1c" stroke-width="1.03"/>
<line x1="423.2" y1="340.1" x2="429.2" y2="338.7" stroke="#1c1c1c" stroke-width="1.03"/>
<ellipse cx="421" cy="330.7" rx="5.8" ry="9.6" fill="#fff" stroke="#1c1c1c" stroke-width="1.03" transform="rotate(-13.034363392234964 421 330.7)"/>
<ellipse cx="421" cy="330.7" rx="4.9" ry="8.3" fill="#fff" stroke="#1c1c1c" stroke-width="1.03" transform="rotate(-13 421 330.7)"/>
<path d="M424,322.5 C421,326 421,334 424.5,337.5" fill="none" stroke="#555" stroke-width="0.69" stroke-linejoin="round" stroke-linecap="round" />
<ellipse cx="440.2" cy="325" rx="7.8" ry="11.7" fill="#fff" stroke="#1c1c1c" stroke-width="1.03" transform="rotate(-13 440.2 325)"/>
<ellipse cx="440.2" cy="325" rx="6" ry="9.4" fill="#fff" stroke="#1c1c1c" stroke-width="1.72" transform="rotate(-13 440.2 325)"/>
<ellipse cx="440.5" cy="325" rx="5" ry="8.2" fill="#fff" stroke="#555" stroke-width="0.57" transform="rotate(-13 440.5 325)"/>
<ellipse cx="456.4" cy="320.5" rx="7.2" ry="10.7" fill="#fff" stroke="#333" stroke-width="0.92" transform="rotate(-13 456.4 320.5)"/>
<ellipse cx="456.4" cy="320.5" rx="5.8" ry="9" fill="#fff" stroke="#333" stroke-width="0.92" transform="rotate(-13 456.4 320.5)"/>
<ellipse cx="473.3" cy="317.9" rx="7.4" ry="10.9" fill="#fff" stroke="#1c1c1c" stroke-width="1.03" transform="rotate(-13 473.3 317.9)"/>
<ellipse cx="473.3" cy="317.9" rx="6.4" ry="9.8" fill="#fff" stroke="#555" stroke-width="0.69" transform="rotate(-13 473.3 317.9)"/>
<ellipse cx="473.3" cy="317.9" rx="5.2" ry="8.2" fill="#fff" stroke="#1c1c1c" stroke-width="1.38" transform="rotate(-13 473.3 317.9)"/>
<ellipse cx="537" cy="303.4" rx="4.4" ry="7.4" fill="#fff" stroke="#1c1c1c" stroke-width="1.03" transform="rotate(-13.034363392234964 537 303.4)"/>
<polygon points="512.3,301.4 535.3,296.2 538.7,310.6 515.7,315.9" fill="#fff" stroke="none" stroke-width="0.0" stroke-linejoin="round"/>
<line x1="512.3" y1="301.4" x2="535.3" y2="296.2" stroke="#1c1c1c" stroke-width="1.03"/>
<line x1="515.7" y1="315.9" x2="538.7" y2="310.6" stroke="#1c1c1c" stroke-width="1.03"/>
<ellipse cx="514" cy="308.7" rx="4.4" ry="7.4" fill="#fff" stroke="#1c1c1c" stroke-width="1.03" transform="rotate(-13.034363392234964 514 308.7)"/>
<line x1="517" y1="301.5" x2="518" y2="314.5" stroke="#333" stroke-width="0.8"/>
<line x1="519.5" y1="300.9" x2="520.5" y2="313.9" stroke="#333" stroke-width="0.8"/>
<line x1="522" y1="300.3" x2="523" y2="313.3" stroke="#333" stroke-width="0.8"/>
<line x1="524.5" y1="299.8" x2="525.5" y2="312.8" stroke="#333" stroke-width="0.8"/>
<polygon points="525.3,298.5 527.3,298 530.7,312.4 528.7,312.9" fill="#fff" stroke="none" stroke-width="0.0" stroke-linejoin="round"/>
<line x1="525.3" y1="298.5" x2="527.3" y2="298" stroke="#1c1c1c" stroke-width="0.8"/>
<line x1="528.7" y1="312.9" x2="530.7" y2="312.4" stroke="#1c1c1c" stroke-width="0.8"/>
<path d="M527,300 C525,303 525.5,310 528,313.5" fill="none" stroke="#1c1c1c" stroke-width="0.8" stroke-linejoin="round" stroke-linecap="round" />
<ellipse cx="532" cy="304" rx="1.1" ry="1.5" fill="none" stroke="#1c1c1c" stroke-width="0.8" transform="rotate(-13 532 304)"/>
<ellipse cx="529.5" cy="309" rx="1.1" ry="1.5" fill="none" stroke="#1c1c1c" stroke-width="0.8" transform="rotate(-13 529.5 309)"/>
<polygon points="485.3,310 512.8,303.7 515.2,314 487.7,320.3" fill="#fff" stroke="none" stroke-width="0.0" stroke-linejoin="round"/>
<line x1="485.3" y1="310" x2="512.8" y2="303.7" stroke="#1c1c1c" stroke-width="1.03"/>
<line x1="487.7" y1="320.3" x2="515.2" y2="314" stroke="#1c1c1c" stroke-width="1.03"/>
<ellipse cx="486.5" cy="315.1" rx="3.2" ry="5.3" fill="#fff" stroke="#1c1c1c" stroke-width="1.03" transform="rotate(-13.034363392234964 486.5 315.1)"/>
<path d="M511,303.5 l4,-2.3 M512.5,314.3 l3,1" fill="none" stroke="#1c1c1c" stroke-width="0.92" stroke-linejoin="round" stroke-linecap="round" />
<path d="M490,309.035 C492.6,311.735 492.8,317.735 491.6,319.63500000000005" fill="none" stroke="#333" stroke-width="1.03" stroke-linejoin="round" stroke-linecap="round" />
<path d="M492,308.578 C494.6,311.27799999999996 494.8,317.27799999999996 493.6,319.178" fill="none" stroke="#333" stroke-width="1.03" stroke-linejoin="round" stroke-linecap="round" />
<path d="M494,308.121 C496.6,310.82099999999997 496.8,316.82099999999997 495.6,318.721" fill="none" stroke="#333" stroke-width="1.03" stroke-linejoin="round" stroke-linecap="round" />
<path d="M496,307.664 C498.6,310.364 498.8,316.364 497.6,318.264" fill="none" stroke="#333" stroke-width="1.03" stroke-linejoin="round" stroke-linecap="round" />
<ellipse cx="486.5" cy="315.1" rx="3.3" ry="5.3" fill="#fff" stroke="#1c1c1c" stroke-width="1.49" transform="rotate(-13 486.5 315.1)"/>
<ellipse cx="544.6" cy="302.2" rx="4.3" ry="6.5" fill="#fff" stroke="#1c1c1c" stroke-width="1.49" transform="rotate(-13 544.6 302.2)"/>
<ellipse cx="575" cy="295.6" rx="1.9" ry="3.2" fill="#fff" stroke="#1c1c1c" stroke-width="0.92" transform="rotate(-13.034363392234964 575 295.6)"/>
<polygon points="567.3,294.1 574.3,292.5 575.7,298.7 568.7,300.3" fill="#fff" stroke="none" stroke-width="0.0" stroke-linejoin="round"/>
<line x1="567.3" y1="294.1" x2="574.3" y2="292.5" stroke="#1c1c1c" stroke-width="0.92"/>
<line x1="568.7" y1="300.3" x2="575.7" y2="298.7" stroke="#1c1c1c" stroke-width="0.92"/>
<ellipse cx="568" cy="297.2" rx="1.9" ry="3.2" fill="#fff" stroke="#1c1c1c" stroke-width="0.92" transform="rotate(-13.034363392234964 568 297.2)"/>
<ellipse cx="569" cy="297" rx="2.8" ry="4.6" fill="#bbb" stroke="#1c1c1c" stroke-width="0.92" transform="rotate(-13.034363392234964 569 297)"/>
<polygon points="558.5,294.7 568,292.5 570,301.5 560.5,303.6" fill="#bbb" stroke="none" stroke-width="0.0" stroke-linejoin="round"/>
<line x1="558.5" y1="294.7" x2="568" y2="292.5" stroke="#1c1c1c" stroke-width="0.92"/>
<line x1="560.5" y1="303.6" x2="570" y2="301.5" stroke="#1c1c1c" stroke-width="0.92"/>
<ellipse cx="559.5" cy="299.2" rx="2.8" ry="4.6" fill="#bbb" stroke="#1c1c1c" stroke-width="0.92" transform="rotate(-13.034363392234964 559.5 299.2)"/>
<line x1="560.9" y1="294.3" x2="562.3" y2="303.1" stroke="#333" stroke-width="0.69"/>
<line x1="562.4" y1="294" x2="563.8" y2="302.8" stroke="#333" stroke-width="0.69"/>
<line x1="563.9" y1="293.6" x2="565.3" y2="302.4" stroke="#333" stroke-width="0.69"/>
<line x1="565.4" y1="293.3" x2="566.8" y2="302.1" stroke="#333" stroke-width="0.69"/>
<line x1="566.9" y1="292.9" x2="568.3" y2="301.7" stroke="#333" stroke-width="0.69"/>
<ellipse cx="560" cy="299" rx="1.8" ry="3" fill="#fff" stroke="#1c1c1c" stroke-width="0.92" transform="rotate(-13.034363392234964 560 299)"/>
<polygon points="551.8,297.8 559.3,296.1 560.7,302 553.2,303.7" fill="#fff" stroke="none" stroke-width="0.0" stroke-linejoin="round"/>
<line x1="551.8" y1="297.8" x2="559.3" y2="296.1" stroke="#1c1c1c" stroke-width="0.92"/>
<line x1="553.2" y1="303.7" x2="560.7" y2="302" stroke="#1c1c1c" stroke-width="0.92"/>
<ellipse cx="552.5" cy="300.8" rx="1.8" ry="3" fill="#fff" stroke="#1c1c1c" stroke-width="0.92" transform="rotate(-13.034363392234964 552.5 300.8)"/>
<ellipse cx="552.7" cy="300.7" rx="1.2" ry="2" fill="none" stroke="#1c1c1c" stroke-width="0.69" transform="rotate(-13 552.7 300.7)"/>
<ellipse cx="582.9" cy="293.1" rx="3.2" ry="4.8" fill="#fff" stroke="#707070" stroke-width="2.53" transform="rotate(-13 582.9 293.1)"/>
<ellipse cx="591.1" cy="291.1" rx="3.2" ry="4.8" fill="#fff" stroke="#707070" stroke-width="2.53" transform="rotate(-13 591.1 291.1)"/>
<ellipse cx="600.7" cy="288.7" rx="3.2" ry="4.8" fill="#fff" stroke="#707070" stroke-width="2.53" transform="rotate(-13 600.7 288.7)"/>
<ellipse cx="613.4" cy="286.5" rx="5" ry="6.8" fill="#bbb" stroke="#1c1c1c" stroke-width="0.92" transform="rotate(-13 613.4 286.5)"/>
<ellipse cx="612.2" cy="286.8" rx="5" ry="6.8" fill="#ccc" stroke="#1c1c1c" stroke-width="1.03" transform="rotate(-13 612.2 286.8)"/>
<ellipse cx="612.4" cy="286.8" rx="2.8" ry="4.3" fill="#fff" stroke="#1c1c1c" stroke-width="1.03" transform="rotate(-13 612.4 286.8)"/>
<ellipse cx="623.8" cy="284.1" rx="5.2" ry="6.8" fill="#fff" stroke="#1c1c1c" stroke-width="1.03" transform="rotate(-13 623.8 284.1)"/>
<ellipse cx="623.8" cy="284.1" rx="2" ry="3.2" fill="#fff" stroke="#1c1c1c" stroke-width="0.92" transform="rotate(-13 623.8 284.1)"/>
<ellipse cx="637.6" cy="281.1" rx="5.2" ry="6.8" fill="#ccc" stroke="#1c1c1c" stroke-width="0.92" transform="rotate(-13 637.6 281.1)"/>
<ellipse cx="636.6" cy="281.3" rx="5.2" ry="6.8" fill="#ddd" stroke="#1c1c1c" stroke-width="1.03" transform="rotate(-13 636.6 281.3)"/>
<ellipse cx="636.8" cy="281.3" rx="3.2" ry="4.8" fill="#fff" stroke="#1c1c1c" stroke-width="1.03" transform="rotate(-13 636.8 281.3)"/>
<ellipse cx="637.2" cy="281.3" rx="2.1" ry="3.6" fill="#fff" stroke="#1c1c1c" stroke-width="0.69" transform="rotate(-13 637.2 281.3)"/>
<ellipse cx="657" cy="260" rx="2" ry="1.8" fill="#999" stroke="#1c1c1c" stroke-width="0.92" transform="rotate(0 657 260)"/>
<ellipse cx="671.3" cy="258.1" rx="2" ry="1.8" fill="#999" stroke="#1c1c1c" stroke-width="0.92" transform="rotate(0 671.3 258.1)"/>
<ellipse cx="647.2" cy="282.2" rx="2" ry="1.8" fill="#999" stroke="#1c1c1c" stroke-width="0.92" transform="rotate(0 647.2 282.2)"/>
<ellipse cx="666.7" cy="290.9" rx="2" ry="1.8" fill="#999" stroke="#1c1c1c" stroke-width="0.92" transform="rotate(0 666.7 290.9)"/>
<ellipse cx="681" cy="284.4" rx="2" ry="1.8" fill="#999" stroke="#1c1c1c" stroke-width="0.92" transform="rotate(0 681 284.4)"/>
<ellipse cx="728" cy="259.9" rx="5.3" ry="8.8" fill="#fff" stroke="#1c1c1c" stroke-width="1.03" transform="rotate(-13.034363392234964 728 259.9)"/>
<polygon points="658,266.8 726,251.3 730,268.4 662,284" fill="#fff" stroke="none" stroke-width="0.0" stroke-linejoin="round"/>
<line x1="658" y1="266.8" x2="726" y2="251.3" stroke="#1c1c1c" stroke-width="1.03"/>
<line x1="662" y1="284" x2="730" y2="268.4" stroke="#1c1c1c" stroke-width="1.03"/>
<ellipse cx="660" cy="275.4" rx="5.3" ry="8.8" fill="#fff" stroke="#1c1c1c" stroke-width="1.03" transform="rotate(-13.034363392234964 660 275.4)"/>
<path d="M670,264.048 C675.2,268.148 675.6,278.148 674,281.24800000000005" fill="none" stroke="#1c1c1c" stroke-width="1.03" stroke-linejoin="round" stroke-linecap="round" />
<path d="M672.5,263.4767499999999 C677.7,267.57674999999995 678.1,277.57674999999995 676.5,280.67674999999997" fill="none" stroke="#1c1c1c" stroke-width="1.84" stroke-linejoin="round" stroke-linecap="round" />
<path d="M681.5,261.42024999999995 C686.7,265.52025 687.1,275.52025 685.5,278.62025" fill="none" stroke="#1c1c1c" stroke-width="1.49" stroke-linejoin="round" stroke-linecap="round" />
<path d="M684,260.84899999999993 C689.2,264.94899999999996 689.6,274.94899999999996 688,278.049" fill="none" stroke="#1c1c1c" stroke-width="0.8" stroke-linejoin="round" stroke-linecap="round" />
<path d="M712,254.451 C717.2,258.551 717.6,268.551 716,271.651" fill="none" stroke="#1c1c1c" stroke-width="0.92" stroke-linejoin="round" stroke-linecap="round" />
<path d="M716.5,253.42274999999998 C721.7,257.52275 722.1,267.52275 720.5,270.62275" fill="none" stroke="#1c1c1c" stroke-width="0.92" stroke-linejoin="round" stroke-linecap="round" />
<ellipse cx="659.6" cy="275.7" rx="5.6" ry="8.3" fill="#fff" stroke="#1c1c1c" stroke-width="1.61" transform="rotate(-13 659.6 275.7)"/>
<ellipse cx="661" cy="275.4" rx="4.2" ry="6.4" fill="#fff" stroke="#1c1c1c" stroke-width="0.8" transform="rotate(-13 661 275.4)"/>
<ellipse cx="667.5" cy="268" rx="0.9" ry="1" fill="#333" stroke="#1c1c1c" stroke-width="0.57" transform="rotate(0 667.5 268)"/>
<ellipse cx="670.5" cy="277.5" rx="0.9" ry="1" fill="#333" stroke="#1c1c1c" stroke-width="0.57" transform="rotate(0 670.5 277.5)"/>
<ellipse cx="678" cy="266.5" rx="0.9" ry="1" fill="#333" stroke="#1c1c1c" stroke-width="0.57" transform="rotate(0 678 266.5)"/>
<ellipse cx="686" cy="265" rx="0.9" ry="1" fill="#333" stroke="#1c1c1c" stroke-width="0.57" transform="rotate(0 686 265)"/>
<ellipse cx="696.5" cy="262.5" rx="0.9" ry="1" fill="#333" stroke="#1c1c1c" stroke-width="0.57" transform="rotate(0 696.5 262.5)"/>
<ellipse cx="680" cy="278.5" rx="0.9" ry="1" fill="#333" stroke="#1c1c1c" stroke-width="0.57" transform="rotate(0 680 278.5)"/>
<ellipse cx="687" cy="278" rx="0.9" ry="1" fill="#333" stroke="#1c1c1c" stroke-width="0.57" transform="rotate(0 687 278)"/>
<ellipse cx="697.5" cy="275" rx="0.9" ry="1" fill="#333" stroke="#1c1c1c" stroke-width="0.57" transform="rotate(0 697.5 275)"/>
<ellipse cx="661" cy="277" rx="1.2" ry="1.7" fill="none" stroke="#1c1c1c" stroke-width="0.8" transform="rotate(-13 661 277)"/>
<ellipse cx="762" cy="253.4" rx="5.2" ry="8.6" fill="#fff" stroke="#1c1c1c" stroke-width="1.03" transform="rotate(-13.034363392234964 762 253.4)"/>
<polygon points="755.1,246.1 760.1,245 763.9,261.8 758.9,262.9" fill="#fff" stroke="none" stroke-width="0.0" stroke-linejoin="round"/>
<line x1="755.1" y1="246.1" x2="760.1" y2="245" stroke="#1c1c1c" stroke-width="1.03"/>
<line x1="758.9" y1="262.9" x2="763.9" y2="261.8" stroke="#1c1c1c" stroke-width="1.03"/>
<ellipse cx="757" cy="254.5" rx="5.2" ry="8.6" fill="#fff" stroke="#1c1c1c" stroke-width="1.03" transform="rotate(-13.034363392234964 757 254.5)"/>
<ellipse cx="758" cy="254.3" rx="4.8" ry="8" fill="#fff" stroke="#1c1c1c" stroke-width="1.03" transform="rotate(-13.034363392234964 758 254.3)"/>
<polygon points="746.2,248.8 756.2,246.5 759.8,262.1 749.8,264.4" fill="#fff" stroke="none" stroke-width="0.0" stroke-linejoin="round"/>
<line x1="746.2" y1="248.8" x2="756.2" y2="246.5" stroke="#1c1c1c" stroke-width="1.03"/>
<line x1="749.8" y1="264.4" x2="759.8" y2="262.1" stroke="#1c1c1c" stroke-width="1.03"/>
<ellipse cx="748" cy="256.6" rx="4.8" ry="8" fill="#fff" stroke="#1c1c1c" stroke-width="1.03" transform="rotate(-13.034363392234964 748 256.6)"/>
<path d="M748.7,248.21074999999996 C753.5,251.21075 753.7,260.21074999999996 752.3,263.81075" fill="none" stroke="#1c1c1c" stroke-width="1.26" stroke-linejoin="round" stroke-linecap="round" />
<path d="M751.2,247.63949999999997 C756,250.63949999999997 756.2,259.6395 754.8,263.23949999999996" fill="none" stroke="#1c1c1c" stroke-width="1.26" stroke-linejoin="round" stroke-linecap="round" />
<path d="M753.7,247.06824999999998 C758.5,250.06824999999998 758.7,259.06825 757.3,262.66825" fill="none" stroke="#1c1c1c" stroke-width="1.26" stroke-linejoin="round" stroke-linecap="round" />
<ellipse cx="749" cy="256.4" rx="3.2" ry="5.4" fill="#fff" stroke="#1c1c1c" stroke-width="1.03" transform="rotate(-13.034363392234964 749 256.4)"/>
<polygon points="741.8,252.5 747.8,251.1 750.2,261.6 744.2,263" fill="#fff" stroke="none" stroke-width="0.0" stroke-linejoin="round"/>
<line x1="741.8" y1="252.5" x2="747.8" y2="251.1" stroke="#1c1c1c" stroke-width="1.03"/>
<line x1="744.2" y1="263" x2="750.2" y2="261.6" stroke="#1c1c1c" stroke-width="1.03"/>
<ellipse cx="743" cy="257.7" rx="3.2" ry="5.4" fill="#fff" stroke="#1c1c1c" stroke-width="1.03" transform="rotate(-13.034363392234964 743 257.7)"/>
<ellipse cx="744" cy="257.5" rx="1.7" ry="2.9" fill="#fff" stroke="#1c1c1c" stroke-width="1.03" transform="rotate(-13.034363392234964 744 257.5)"/>
<polygon points="738.8,255.7 743.3,254.7 744.7,260.3 740.2,261.3" fill="#fff" stroke="none" stroke-width="0.0" stroke-linejoin="round"/>
<line x1="738.8" y1="255.7" x2="743.3" y2="254.7" stroke="#1c1c1c" stroke-width="1.03"/>
<line x1="740.2" y1="261.3" x2="744.7" y2="260.3" stroke="#1c1c1c" stroke-width="1.03"/>
<ellipse cx="739.5" cy="258.5" rx="1.7" ry="2.9" fill="#fff" stroke="#1c1c1c" stroke-width="1.03" transform="rotate(-13.034363392234964 739.5 258.5)"/>
<ellipse cx="771.5" cy="251.2" rx="5.6" ry="8" fill="#fff" stroke="#1c1c1c" stroke-width="1.03" transform="rotate(-13 771.5 251.2)"/>
<ellipse cx="771.5" cy="251.2" rx="4.4" ry="6.6" fill="#fff" stroke="#1c1c1c" stroke-width="1.03" transform="rotate(-13 771.5 251.2)"/>
<polygon points="795.9,232 807.5,229.3 806.9,226.7 795.3,229.4" fill="#ddd" stroke="#1c1c1c" stroke-width="0.8" stroke-linejoin="round"/>
<polygon points="792.6,233.7 796.1,232.9 795.1,228.4 791.6,229.3" fill="#555" stroke="#1c1c1c" stroke-width="0.8" stroke-linejoin="round"/>
<polygon points="813,233.6 824.6,230.9 824,228.3 812.4,231" fill="#ddd" stroke="#1c1c1c" stroke-width="0.8" stroke-linejoin="round"/>
<polygon points="809.7,235.3 813.2,234.5 812.2,230 808.7,230.9" fill="#555" stroke="#1c1c1c" stroke-width="0.8" stroke-linejoin="round"/>
<polygon points="799.9,259.2 811.5,256.5 810.9,253.9 799.3,256.6" fill="#ddd" stroke="#1c1c1c" stroke-width="0.8" stroke-linejoin="round"/>
<polygon points="796.6,260.9 800.1,260.1 799.1,255.6 795.6,256.5" fill="#555" stroke="#1c1c1c" stroke-width="0.8" stroke-linejoin="round"/>
<polygon points="818.3,260.5 829.9,257.8 829.3,255.2 817.7,257.9" fill="#ddd" stroke="#1c1c1c" stroke-width="0.8" stroke-linejoin="round"/>
<polygon points="815,262.2 818.5,261.4 817.5,256.9 814,257.8" fill="#555" stroke="#1c1c1c" stroke-width="0.8" stroke-linejoin="round"/>
<ellipse cx="854" cy="230.8" rx="10.8" ry="18" fill="#fff" stroke="#1c1c1c" stroke-width="1.03" transform="rotate(-13.034363392234964 854 230.8)"/>
<polygon points="835.9,216.4 849.9,213.2 858.1,248.3 844.1,251.5" fill="#fff" stroke="none" stroke-width="0.0" stroke-linejoin="round"/>
<line x1="835.9" y1="216.4" x2="849.9" y2="213.2" stroke="#1c1c1c" stroke-width="1.03"/>
<line x1="844.1" y1="251.5" x2="858.1" y2="248.3" stroke="#1c1c1c" stroke-width="1.03"/>
<ellipse cx="840" cy="234" rx="10.8" ry="18" fill="#fff" stroke="#1c1c1c" stroke-width="1.03" transform="rotate(-13.034363392234964 840 234)"/>
<path d="M849,216.5 C843,224 844,240 851,248" fill="none" stroke="#555" stroke-width="0.69" stroke-linejoin="round" stroke-linecap="round" />
<path d="M918.1,199.5 L921.7,195.6 L931.6,193.6 L935.2,194.4 L932,198" fill="#fff" stroke="#1c1c1c" stroke-width="1.03" stroke-linejoin="round" stroke-linecap="round" />
<path d="M928,202.3 L932.5,195.1 L946,193.3 L953.2,198.7 L954.1,226.6 L948.7,232 L935.2,232.9 L930.7,229.3 Z" fill="#fff" stroke="#1c1c1c" stroke-width="1.38" stroke-linejoin="round" stroke-linecap="round" />
<path d="M931,203.5 L934.5,198 L945,196.6 L950.4,200.6 L951.2,225 L947,229.2 L936.6,230 L933.2,227 Z" fill="#fff" stroke="#1c1c1c" stroke-width="0.92" stroke-linejoin="round" stroke-linecap="round" />
<path d="M935.5,204 L945.8,202.2 L946.8,222.6 L937,225 Z" fill="#fff" stroke="#1c1c1c" stroke-width="1.03" stroke-linejoin="round" stroke-linecap="round" />
<path d="M928,202.3 L931,203.5 M932.5,195.1 L934.5,198 M946,193.3 L945,196.6 M953.2,198.7 L950.4,200.6 M954.1,226.6 L951.2,225 M948.7,232 L947,229.2 M935.2,232.9 L936.6,230 M930.7,229.3 L933.2,227" fill="none" stroke="#1c1c1c" stroke-width="0.8" stroke-linejoin="round" stroke-linecap="round" />
<path d="M939,193.8 L939.4,197.2 M942.6,193.5 L943,196.8 M952.4,208 L950.7,208.4 M952.8,216 L951,216.4 M939,232.6 L939.4,229.8 M944,232.2 L944,229.4" fill="none" stroke="#1c1c1c" stroke-width="0.92" stroke-linejoin="round" stroke-linecap="round" />
<polygon points="882,209 931,195.5 934,232 890,242.3" fill="#fff" stroke="#1c1c1c" stroke-width="1.03" stroke-linejoin="round"/>
<line x1="886" y1="213.5" x2="931" y2="201" stroke="#1c1c1c" stroke-width="0.69"/>
<line x1="892" y1="236" x2="932" y2="226.5" stroke="#1c1c1c" stroke-width="0.69"/>
<line x1="900" y1="226.5" x2="934" y2="218.5" stroke="#1c1c1c" stroke-width="1.15"/>
<line x1="900" y1="228" x2="934" y2="220" stroke="#1c1c1c" stroke-width="0.69"/>
<path d="M926,197 C922,205 923,222 928,232" fill="none" stroke="#1c1c1c" stroke-width="0.8" stroke-linejoin="round" stroke-linecap="round" />
<path d="M923,198 C919,206 920,223 925,233" fill="none" stroke="#1c1c1c" stroke-width="0.8" stroke-linejoin="round" stroke-linecap="round" />
<ellipse cx="900" cy="224.2" rx="9.8" ry="16.4" fill="#fff" stroke="#1c1c1c" stroke-width="0.92" transform="rotate(-13 900 224.2)"/>
<ellipse cx="897" cy="224.9" rx="9.8" ry="16.4" fill="#fff" stroke="#1c1c1c" stroke-width="1.38" transform="rotate(-13 897 224.9)"/>
<ellipse cx="893.5" cy="225.7" rx="9.8" ry="16.4" fill="#fff" stroke="#1c1c1c" stroke-width="1.03" transform="rotate(-13 893.5 225.7)"/>
<ellipse cx="890" cy="226.5" rx="9.8" ry="16.4" fill="#fff" stroke="#1c1c1c" stroke-width="1.38" transform="rotate(-13 890 226.5)"/>
<ellipse cx="884.5" cy="228" rx="11" ry="17.2" fill="#fff" stroke="#1c1c1c" stroke-width="1.03" transform="rotate(-13 884.5 228)"/>
<ellipse cx="881.4" cy="225.7" rx="11.4" ry="17.4" fill="#fff" stroke="#1c1c1c" stroke-width="1.15" transform="rotate(-13 881.4 225.7)"/>
<ellipse cx="882" cy="225.7" rx="9" ry="14.4" fill="#fff" stroke="#1c1c1c" stroke-width="1.15" transform="rotate(-13 882 225.7)"/>
<ellipse cx="883.5" cy="225.5" rx="7.6" ry="12.8" fill="#fff" stroke="#1c1c1c" stroke-width="0.8" transform="rotate(-13 883.5 225.5)"/>
<ellipse cx="886" cy="225" rx="6.6" ry="11.4" fill="none" stroke="#555" stroke-width="0.69" transform="rotate(-13 886 225)"/>
<polygon points="889,227.5 902,224.5 902,228 889,231" fill="#fff" stroke="#1c1c1c" stroke-width="0.92" stroke-linejoin="round"/>
<ellipse cx="963.5" cy="207.2" rx="8.1" ry="11.7" fill="#fff" stroke="#1c1c1c" stroke-width="1.15" transform="rotate(-13 963.5 207.2)"/>
<ellipse cx="963.8" cy="207.2" rx="6.8" ry="10.2" fill="#fff" stroke="#1c1c1c" stroke-width="1.15" transform="rotate(-13 963.8 207.2)"/>
<ellipse cx="984.2" cy="202.3" rx="8.1" ry="10.8" fill="#fff" stroke="#1c1c1c" stroke-width="1.15" transform="rotate(-13 984.2 202.3)"/>
<ellipse cx="984.4" cy="202.3" rx="6.6" ry="9.2" fill="#fff" stroke="#1c1c1c" stroke-width="1.49" transform="rotate(-13 984.4 202.3)"/>
<rect x="447.6" y="408.9" width="2.6" height="5.4" rx="0" fill="#ddd" stroke="#1c1c1c" stroke-width="0.7"/>
<rect x="446.5" y="406.3" width="4.8" height="2.6" rx="0.6" fill="#666" stroke="#1c1c1c" stroke-width="0.7"/>
<rect x="462.8" y="404.3" width="2.6" height="4.4" rx="0" fill="#ddd" stroke="#1c1c1c" stroke-width="0.7"/>
<rect x="461.7" y="401.7" width="4.8" height="2.6" rx="0.6" fill="#666" stroke="#1c1c1c" stroke-width="0.7"/>
<rect x="462.8" y="411.1" width="2.6" height="5.4" rx="0" fill="#ddd" stroke="#1c1c1c" stroke-width="0.7"/>
<rect x="461.7" y="408.5" width="4.8" height="2.6" rx="0.6" fill="#666" stroke="#1c1c1c" stroke-width="0.7"/>
<rect x="482.7" y="406.3" width="2.6" height="5.9" rx="0" fill="#ddd" stroke="#1c1c1c" stroke-width="0.7"/>
<rect x="481.6" y="403.7" width="4.8" height="2.6" rx="0.6" fill="#666" stroke="#1c1c1c" stroke-width="0.7"/>
<rect x="497.6" y="398.5" width="2.6" height="4.9" rx="0" fill="#ddd" stroke="#1c1c1c" stroke-width="0.7"/>
<rect x="496.5" y="395.9" width="4.8" height="2.6" rx="0.6" fill="#666" stroke="#1c1c1c" stroke-width="0.7"/>
<rect x="507.4" y="399.1" width="2.6" height="5.4" rx="0" fill="#ddd" stroke="#1c1c1c" stroke-width="0.7"/>
<rect x="506.3" y="396.5" width="4.8" height="2.6" rx="0.6" fill="#666" stroke="#1c1c1c" stroke-width="0.7"/>
<path d="M449.5,434.9 L455.4,431.6 L467.7,424.5 L476.8,419.3 L485.9,417.3 L497.6,418.9 L502.8,421.2 L508,424.1 L513.2,425.4 L513.4,427 L510.6,428.5 L487.2,433.6 L469,436.5 L456,439.8 L455.5,441.5 L454,439.6 L449.8,437.6 Z" fill="#fff" stroke="#1c1c1c" stroke-width="1.03" stroke-linejoin="round" stroke-linecap="round" />
<path d="M449.5,434.9 L453,436.3 L468.5,433.2 L487,430.4 L510,425.6 L513.2,425.4 M453,436.3 L454,439.6" fill="none" stroke="#1c1c1c" stroke-width="0.8" stroke-linejoin="round" stroke-linecap="round" />
<path d="M455.4,431.6 L460,433 L468,431 L468,427 L476,423 L478,420 M468,431 L486,428 L486,425 L476,423 M486,428 L505,423.5 L502.8,421.2 M478,420 L486,421.5 L497,420.8" fill="none" stroke="#1c1c1c" stroke-width="0.8" stroke-linejoin="round" stroke-linecap="round" />
<ellipse cx="488" cy="420.6" rx="6.2" ry="2.1" fill="#fff" stroke="#1c1c1c" stroke-width="0.92" transform="rotate(-5 488 420.6)"/>
<ellipse cx="488" cy="420.6" rx="3.6" ry="1.2" fill="#fff" stroke="#1c1c1c" stroke-width="0.8" transform="rotate(-5 488 420.6)"/>
<path d="M470,427.5 l0,3 M474,426.8 l0,3 M478,426.2 l0,3 M482,425.6 l0,3" fill="none" stroke="#1c1c1c" stroke-width="1.03" stroke-linejoin="round" stroke-linecap="round" />
<path d="M462,431.5 l3,-1 M484,419.5 l2,2 M492,419.3 l-1.5,2.2" fill="none" stroke="#1c1c1c" stroke-width="1.03" stroke-linejoin="round" stroke-linecap="round" />
<path d="M505,423.5 L509,426 M497.6,418.9 L500,421.8" fill="none" stroke="#1c1c1c" stroke-width="0.69" stroke-linejoin="round" stroke-linecap="round" />
<path d="M449.8,437.2 L455.6,440.6 L469,437 L487.2,434 L510.6,428.8 L513.4,426.6" fill="none" stroke="#1c1c1c" stroke-width="1.84" stroke-linejoin="round" stroke-linecap="round" />
<path d="M456,433.5 L462,435 L462.4,431.6 M466,429.6 L466.3,433.4 M452,435.4 L455.5,433" fill="none" stroke="#1c1c1c" stroke-width="1.26" stroke-linejoin="round" stroke-linecap="round" />
<path d="M454.7,445.3 C458,442.5 464,441.5 469,440.7 L502.8,435.5 C507,435 511,435.6 510.6,437.1 C510,439.5 506,440.8 502.8,441.4 L469,447.2 C464,448 459,448.3 457.3,447.9 C455,447.4 454,446.5 454.7,445.3 Z" fill="none" stroke="#222" stroke-width="1.49" stroke-linejoin="round" stroke-linecap="round" />
<ellipse cx="487.9" cy="451.4" rx="5.9" ry="1.3" fill="none" stroke="#333" stroke-width="1.38" transform="rotate(-3 487.9 451.4)"/>
<path d="M482.7,463 L482.7,469 A6.2,2 0 0 0 495,469 L495,463 Z" fill="#444" stroke="#1c1c1c" stroke-width="0.92" stroke-linejoin="round" stroke-linecap="round" />
<rect x="487.7" y="470" width="3" height="3.6" rx="0" fill="#fff" stroke="#1c1c1c" stroke-width="0.7"/>
<path d="M474.2,462.2 L474.2,464.8 A14.3,4.3 0 0 0 502.8,464.8 L502.8,462.2 Z" fill="#2a2a2a" stroke="#1c1c1c" stroke-width="0.92" stroke-linejoin="round" stroke-linecap="round" />
<ellipse cx="488.5" cy="462.2" rx="14.3" ry="4.3" fill="#4a4a4a" stroke="#1c1c1c" stroke-width="0.92" transform="rotate(0 488.5 462.2)"/>
<ellipse cx="488.5" cy="461.6" rx="7.5" ry="2.3" fill="#555" stroke="#1c1c1c" stroke-width="0.69" transform="rotate(0 488.5 461.6)"/>
<path d="M483.3,459 L483.3,461 A5.2,1.6 0 0 0 493.7,461 L493.7,459 Z" fill="#ddd" stroke="#1c1c1c" stroke-width="0.8" stroke-linejoin="round" stroke-linecap="round" />
<ellipse cx="488.5" cy="459" rx="5.2" ry="1.6" fill="#fff" stroke="#1c1c1c" stroke-width="0.8" transform="rotate(0 488.5 459)"/>
<ellipse cx="503.5" cy="480.4" rx="3.6" ry="0.8" fill="#222" stroke="#1c1c1c" stroke-width="0.69" transform="rotate(-3 503.5 480.4)"/>
<ellipse cx="505.2" cy="489.1" rx="7.5" ry="1.9" fill="none" stroke="#222" stroke-width="1.84" transform="rotate(-3 505.2 489.1)"/>
<path d="M463.5,485.4 L463.5,489.6 A12.7,3.3 0 0 0 488.9,489.6 L488.9,485.4 Z" fill="#222" stroke="#1c1c1c" stroke-width="0.92" stroke-linejoin="round" stroke-linecap="round" />
<ellipse cx="476.2" cy="485.4" rx="12.7" ry="3.3" fill="#444" stroke="#1c1c1c" stroke-width="0.92" transform="rotate(0 476.2 485.4)"/>
<ellipse cx="476.2" cy="485.2" rx="8" ry="2" fill="#333" stroke="#666" stroke-width="0.57" transform="rotate(0 476.2 485.2)"/>
<ellipse cx="476.8" cy="494.4" rx="5" ry="1.1" fill="#222" stroke="#1c1c1c" stroke-width="0.69" transform="rotate(-3 476.8 494.4)"/>
<path d="M498.2,500.4 L498.2,504 A8,2.4 0 0 0 514.2,504 L514.2,500.4 Z" fill="#fff" stroke="#1c1c1c" stroke-width="1.03" stroke-linejoin="round" stroke-linecap="round" />
<ellipse cx="506.2" cy="500.4" rx="8" ry="2.4" fill="#fff" stroke="#1c1c1c" stroke-width="1.03" transform="rotate(0 506.2 500.4)"/>
<ellipse cx="506.2" cy="500.3" rx="7" ry="1.9" fill="#fff" stroke="#222" stroke-width="1.72" transform="rotate(0 506.2 500.3)"/>
<path d="M500.8,514 L500.8,516.6 A7,2 0 0 0 514.8,516.6 L514.8,514 Z" fill="#fff" stroke="#1c1c1c" stroke-width="1.03" stroke-linejoin="round" stroke-linecap="round" />
<ellipse cx="507.8" cy="514" rx="7" ry="2" fill="#fff" stroke="#1c1c1c" stroke-width="1.03" transform="rotate(0 507.8 514)"/>
<ellipse cx="507.8" cy="513.9" rx="6" ry="1.5" fill="#fff" stroke="#222" stroke-width="1.61" transform="rotate(0 507.8 513.9)"/>
<path d="M488,509.6 L488,512.8 A6.4,2 0 0 0 500.8,512.8 L500.8,509.6 Z" fill="#fff" stroke="#1c1c1c" stroke-width="1.03" stroke-linejoin="round" stroke-linecap="round" />
<ellipse cx="494.4" cy="509.6" rx="6.4" ry="2" fill="#fff" stroke="#1c1c1c" stroke-width="1.03" transform="rotate(0 494.4 509.6)"/>
<path d="M471.1,516.6 L471.1,520.4 A8.3,2.5 0 0 0 487.7,520.4 L487.7,516.6 Z" fill="#fff" stroke="#1c1c1c" stroke-width="1.03" stroke-linejoin="round" stroke-linecap="round" />
<ellipse cx="479.4" cy="516.6" rx="8.3" ry="2.5" fill="#fff" stroke="#1c1c1c" stroke-width="1.03" transform="rotate(0 479.4 516.6)"/>
<ellipse cx="479.4" cy="516.5" rx="7.2" ry="1.9" fill="#fff" stroke="#222" stroke-width="1.61" transform="rotate(0 479.4 516.5)"/>
<path d="M460,531.2 L468,527.5 L500,522 L507,519.5 L522.4,519.8 L529,523 L532,529.6 L535.5,545 L539.5,554 L539.5,557.5 L536,558.5 L531,561 L506.4,570.8 L490,575 L476,579 L472.8,581.2 L457.6,578.8 L455,576 L451.2,553 L452.8,539.4 L455,537 L460,536 Z" fill="#fff" stroke="#1c1c1c" stroke-width="1.15" stroke-linejoin="round" stroke-linecap="round" />
<path d="M462,533.5 L470,530 L500,524.6 L506,526.5 L511,532 L512,537.5 L476,544.2 L468,541 Z" fill="none" stroke="#1c1c1c" stroke-width="0.92" stroke-linejoin="round" stroke-linecap="round" />
<path d="M466,534.8 L472,532 L498,527.5 L503,529 L507,533.5 L507.5,536 L477,541.5 L470,539.5 Z" fill="none" stroke="#1c1c1c" stroke-width="0.69" stroke-linejoin="round" stroke-linecap="round" />
<path d="M503,521.5 C506,519.5 516,519.2 521,521 C526,523 528,527 527.5,530 L512,537.5" fill="none" stroke="#1c1c1c" stroke-width="1.26" stroke-linejoin="round" stroke-linecap="round" />
<path d="M506,523.5 C510,521.5 517,521.6 520.5,523.2 C524,525 525,528 524.5,530.5" fill="none" stroke="#1c1c1c" stroke-width="0.8" stroke-linejoin="round" stroke-linecap="round" />
<path d="M460,531.2 L460,536 M463,531.5 L463,536.8 L460,536" fill="none" stroke="#1c1c1c" stroke-width="0.8" stroke-linejoin="round" stroke-linecap="round" />
<path d="M476,544.2 L476.5,578.5 M512,537.5 L514,566 M475.2,544 L452.8,539.4" fill="none" stroke="#1c1c1c" stroke-width="1.03" stroke-linejoin="round" stroke-linecap="round" />
<path d="M477,553 L513,545.5 L531.5,541.5" fill="none" stroke="#1c1c1c" stroke-width="1.72" stroke-linejoin="round" stroke-linecap="round" />
<path d="M477,572 L500,566 L514,561 L534,552.5" fill="none" stroke="#1c1c1c" stroke-width="1.72" stroke-linejoin="round" stroke-linecap="round" />
<path d="M486,551 L487,574 M495,549 L496,571.5 M504,547.3 L505.5,568.5 M522,543.5 L524,560 M517,544.5 L519,562.5" fill="none" stroke="#1c1c1c" stroke-width="1.15" stroke-linejoin="round" stroke-linecap="round" />
<path d="M514,538 L530,531 M514.5,549 L533,544 M513,537.5 L513.5,546" fill="none" stroke="#1c1c1c" stroke-width="1.61" stroke-linejoin="round" stroke-linecap="round" />
<path d="M480,547 L510,541 M480,558 L511,551 M481,565 L512,557.5 M490,553 L490,570" fill="none" stroke="#1c1c1c" stroke-width="0.69" stroke-linejoin="round" stroke-linecap="round" />
<path d="M498,536 C500,533 506,533 508,536 M496,538 C499,541 507,541 509,537" fill="none" stroke="#1c1c1c" stroke-width="0.8" stroke-linejoin="round" stroke-linecap="round" />
<path d="M481,546.5 l5,-1 l0.3,4 l-5,1z M490,557 l6,-1.4 l0.4,4.5 l-6,1.4z M520,533.5 l6,-2.4 l1.5,4 l-6,2.2z" fill="none" stroke="#1c1c1c" stroke-width="0.8" stroke-linejoin="round" stroke-linecap="round" />
<path d="M507,566 L507.5,571.5 L517,568.5 L516.5,563 M536,556 l3.5,0.5" fill="none" stroke="#1c1c1c" stroke-width="0.92" stroke-linejoin="round" stroke-linecap="round" />
<path d="M529,523 L531,533 L534,545" fill="none" stroke="#1c1c1c" stroke-width="0.8" stroke-linejoin="round" stroke-linecap="round" />
<path d="M460,531.2 L468,527.5 L500,522 L507,519.5 L522.4,519.8" fill="none" stroke="#1c1c1c" stroke-width="1.72" stroke-linejoin="round" stroke-linecap="round" />
<path d="M470,534 L476,538.5 L490,536 L490.5,531.5 M490,536 L497,539.5 L510,537 M478,531 L478.5,538 M484,530 L484.5,537" fill="none" stroke="#1c1c1c" stroke-width="1.38" stroke-linejoin="round" stroke-linecap="round" />
<path d="M492,533 C494,530.5 501,529.5 505,531.5 C508,533.5 507,536.5 503,537.5" fill="none" stroke="#1c1c1c" stroke-width="1.61" stroke-linejoin="round" stroke-linecap="round" />
<path d="M513.6,534.4 L514,564" fill="none" stroke="#1c1c1c" stroke-width="1.84" stroke-linejoin="round" stroke-linecap="round" />
<path d="M503.5,525.5 C507,522.5 516,521.6 521.5,523.6 C526.5,525.6 527.5,529 525,531.6 C521,535 512,536.6 507,535" fill="none" stroke="#1c1c1c" stroke-width="1.72" stroke-linejoin="round" stroke-linecap="round" />
<path d="M529,523 L532,529.6 L535.5,545 L539.5,554" fill="none" stroke="#1c1c1c" stroke-width="1.61" stroke-linejoin="round" stroke-linecap="round" />
<path d="M488,541.8 L488.8,549.5 M499,539.6 L499.6,547.6 M480,546.8 L511,540.8" fill="none" stroke="#1c1c1c" stroke-width="1.26" stroke-linejoin="round" stroke-linecap="round" />
<path d="M516,539.5 L517,544.4 M521,537.8 L522.4,543.4 M526,535.8 L527.6,542" fill="none" stroke="#1c1c1c" stroke-width="1.15" stroke-linejoin="round" stroke-linecap="round" />
<path d="M478,560 l6,-1.4 M478,566 l6,-1.4 M498,556 l6,-1.4 M498,561.5 l6,-1.4 M519,549 l8,-2.6 M520,554.5 l8,-3" fill="none" stroke="#1c1c1c" stroke-width="1.38" stroke-linejoin="round" stroke-linecap="round" />
<path d="M452.8,539.4 L456,536.8 L471,539.5 L475.5,543.8 L476.5,575 L472.8,581.2 L457.6,578.8 L454.5,575.5 L451.2,553 Z" fill="#fff" stroke="#1c1c1c" stroke-width="1.26" stroke-linejoin="round" stroke-linecap="round" />
<ellipse cx="463" cy="560.6" rx="10.6" ry="15.6" fill="#fff" stroke="#1c1c1c" stroke-width="1.61" transform="rotate(-8 463 560.6)"/>
<ellipse cx="463.6" cy="560.6" rx="8.8" ry="13.6" fill="#fff" stroke="#1c1c1c" stroke-width="1.03" transform="rotate(-8 463.6 560.6)"/>
<ellipse cx="464.6" cy="560.6" rx="7" ry="11.6" fill="#fff" stroke="#1c1c1c" stroke-width="0.8" transform="rotate(-8 464.6 560.6)"/>
<path d="M458,551 l8,-1.5 M457,560 l4,-0.8 M458,569 l4,-0.8 M466,548.5 l0,7 M468,566 l3,-0.5 M461,555 l0,12 M470,553 l0,14" fill="none" stroke="#1c1c1c" stroke-width="0.8" stroke-linejoin="round" stroke-linecap="round" />
<ellipse cx="455.5" cy="541.5" rx="1" ry="1.2" fill="none" stroke="#1c1c1c" stroke-width="0.8" transform="rotate(0 455.5 541.5)"/>
<ellipse cx="472.5" cy="544.5" rx="1" ry="1.2" fill="none" stroke="#1c1c1c" stroke-width="0.8" transform="rotate(0 472.5 544.5)"/>
<ellipse cx="473.5" cy="576" rx="1" ry="1.2" fill="none" stroke="#1c1c1c" stroke-width="0.8" transform="rotate(0 473.5 576)"/>
<ellipse cx="457.5" cy="574.5" rx="1" ry="1.2" fill="none" stroke="#1c1c1c" stroke-width="0.8" transform="rotate(0 457.5 574.5)"/>
<ellipse cx="440.8" cy="568" rx="9.6" ry="16" fill="none" stroke="#1a1a1a" stroke-width="1.61" transform="rotate(-12 440.8 568)"/>
<path d="M413,571.4 L429.5,567.8 L430.2,572.6 L414,576.6 Z" fill="#fff" stroke="#1c1c1c" stroke-width="0.92" stroke-linejoin="round" stroke-linecap="round" />
<path d="M424,571 l3,-0.7 M425.6,569.4 l0.4,2.6" fill="none" stroke="#1c1c1c" stroke-width="1.03" stroke-linejoin="round" stroke-linecap="round" />
<path d="M399.5,570.4 L409,568.2 C413,568.6 415,572 415,576 C415,580 413,583.4 410,584 L400,584.8" fill="#fff" stroke="#1c1c1c" stroke-width="1.03" stroke-linejoin="round" stroke-linecap="round" />
<path d="M403.5,569.4 C408.0,573 408.0,581 404.1,584.6" fill="none" stroke="#1c1c1c" stroke-width="1.03" stroke-linejoin="round" stroke-linecap="round" />
<path d="M405.5,568.9599999999999 C410.0,573 410.0,581 406.1,584.4" fill="none" stroke="#1c1c1c" stroke-width="1.03" stroke-linejoin="round" stroke-linecap="round" />
<path d="M407.5,568.52 C412.0,573 412.0,581 408.1,584.2" fill="none" stroke="#1c1c1c" stroke-width="1.03" stroke-linejoin="round" stroke-linecap="round" />
<ellipse cx="399.2" cy="577.6" rx="4.8" ry="7.3" fill="#fff" stroke="#1c1c1c" stroke-width="1.03" transform="rotate(-10 399.2 577.6)"/>
<ellipse cx="389.1" cy="579.2" rx="4.8" ry="7.2" fill="none" stroke="#1c1c1c" stroke-width="1.38" transform="rotate(-10 389.1 579.2)"/>
<ellipse cx="378.4" cy="582.4" rx="5.3" ry="7.9" fill="none" stroke="#1c1c1c" stroke-width="1.03" transform="rotate(-10 378.4 582.4)"/>
<ellipse cx="378.4" cy="582.4" rx="4" ry="6.3" fill="none" stroke="#1c1c1c" stroke-width="1.03" transform="rotate(-10 378.4 582.4)"/>
<path d="M478.3,589.2 L478.3,593 A9.6,2.8 0 0 0 497.5,593 L497.5,589.2 Z" fill="#fff" stroke="#1c1c1c" stroke-width="1.03" stroke-linejoin="round" stroke-linecap="round" />
<ellipse cx="487.9" cy="589.2" rx="9.6" ry="2.8" fill="#fff" stroke="#1c1c1c" stroke-width="1.03" transform="rotate(0 487.9 589.2)"/>
<ellipse cx="487.9" cy="589.1" rx="8.4" ry="2.1" fill="#fff" stroke="#222" stroke-width="1.72" transform="rotate(0 487.9 589.1)"/>
<path d="M488.5,598.6 L488.5,603 L489.5,603.6 L489.5,606.5 L488.5,607 L488.5,610.5 L490,611.5 L490,620 L483,623 L482,626 L484.6,629.5 L484.6,634.5 A3,1 0 0 0 490.6,634.5 L490.6,630.6 L500,629 L504.8,626 L504,622.5 L497,620 L497,611.5 L498.5,610.5 L498.5,607 L497.5,606.5 L497.5,603.6 L498.5,603 L498.5,598.6 A5,1.4 0 0 0 488.5,598.6 Z" fill="#fff" stroke="#1c1c1c" stroke-width="1.03" stroke-linejoin="round" stroke-linecap="round" />
<ellipse cx="493.5" cy="598.6" rx="5" ry="1.4" fill="#fff" stroke="#1c1c1c" stroke-width="0.92" transform="rotate(0 493.5 598.6)"/>
<path d="M488.5,603 A5,1.4 0 0 0 498.5,603 M488.5,607 A5,1.4 0 0 0 498.5,607 M488.5,610.5 A5,1.4 0 0 0 498.5,610.5 M490,620 A3.5,1.2 0 0 0 497,620 M482,626 C486,630 499,629 504.8,626 M483,623 C487,626.5 498,626 504,622.5 M484.6,629.5 A3,1 0 0 0 490.6,630.6" fill="none" stroke="#1c1c1c" stroke-width="0.92" stroke-linejoin="round" stroke-linecap="round" />
<ellipse cx="492.1" cy="642.2" rx="16.5" ry="3.6" fill="none" stroke="#1a1a1a" stroke-width="1.61" transform="rotate(-4 492.1 642.2)"/>
<path d="M473.5,664 L478,659.5 L482,652.5 L490,649.5 L500,648.2 L508,649.2 L511,653.5 L515.5,659.5 L515.8,662 L512,663 L497,666.5 L480,668 L476,667.5 L473.8,666 Z" fill="#fff" stroke="#1c1c1c" stroke-width="1.03" stroke-linejoin="round" stroke-linecap="round" />
<path d="M473.5,664 L477,665.2 L496,663.8 L512,660.4 L515.5,659.5 M478,659.5 L484,658.5 L486,654 L482,652.5 M486,654 L497,652.8 L509,654 L511,653.5 M484,658.5 L497,657 L510,658.5 L512,660.4" fill="none" stroke="#1c1c1c" stroke-width="0.8" stroke-linejoin="round" stroke-linecap="round" />
<ellipse cx="497.5" cy="651.2" rx="6" ry="1.9" fill="#fff" stroke="#1c1c1c" stroke-width="0.92" transform="rotate(0 497.5 651.2)"/>
<ellipse cx="497.5" cy="651.2" rx="4" ry="1.2" fill="#fff" stroke="#1c1c1c" stroke-width="0.69" transform="rotate(0 497.5 651.2)"/>
<path d="M477,665.2 l0.3,2 M496,663.8 l0.3,2.6 M486,665.6 l0.8,-1 l2,0 l0.5,1.2" fill="none" stroke="#1c1c1c" stroke-width="0.8" stroke-linejoin="round" stroke-linecap="round" />
<ellipse cx="476.5" cy="664.6" rx="0.9" ry="0.6" fill="#333" stroke="#1c1c1c" stroke-width="0.57" transform="rotate(0 476.5 664.6)"/>
<ellipse cx="512.5" cy="661.6" rx="0.9" ry="0.6" fill="#333" stroke="#1c1c1c" stroke-width="0.57" transform="rotate(0 512.5 661.6)"/>
<ellipse cx="495.5" cy="666" rx="1.2" ry="0.7" fill="#333" stroke="#1c1c1c" stroke-width="0.57" transform="rotate(0 495.5 666)"/>
<path d="M494.5,671.4 L494.5,674.8 A6,1.9 0 0 0 506.5,674.8 L506.5,671.4 Z" fill="#fff" stroke="#1c1c1c" stroke-width="0.92" stroke-linejoin="round" stroke-linecap="round" />
<ellipse cx="500.5" cy="671.4" rx="6" ry="1.9" fill="#fff" stroke="#1c1c1c" stroke-width="0.92" transform="rotate(0 500.5 671.4)"/>
<ellipse cx="501.1" cy="683" rx="4.5" ry="1" fill="#222" stroke="#1c1c1c" stroke-width="0.69" transform="rotate(-3 501.1 683)"/>
<rect x="479.7" y="696.1" width="2.6" height="5.4" rx="0" fill="#ddd" stroke="#1c1c1c" stroke-width="0.7"/>
<rect x="478.6" y="693.5" width="4.8" height="2.6" rx="0.6" fill="#666" stroke="#1c1c1c" stroke-width="0.7"/>
<rect x="490.2" y="697.6" width="2.6" height="5.4" rx="0" fill="#ddd" stroke="#1c1c1c" stroke-width="0.7"/>
<rect x="489.1" y="695" width="4.8" height="2.6" rx="0.6" fill="#666" stroke="#1c1c1c" stroke-width="0.7"/>
<rect x="499.2" y="690.6" width="2.6" height="5.4" rx="0" fill="#ddd" stroke="#1c1c1c" stroke-width="0.7"/>
<rect x="498.1" y="688" width="4.8" height="2.6" rx="0.6" fill="#666" stroke="#1c1c1c" stroke-width="0.7"/>
<rect x="514.7" y="692.6" width="2.6" height="5.4" rx="0" fill="#ddd" stroke="#1c1c1c" stroke-width="0.7"/>
<rect x="513.6" y="690" width="4.8" height="2.6" rx="0.6" fill="#666" stroke="#1c1c1c" stroke-width="0.7"/>
<path d="M560,500.3 L562,498.8 L580.5,504.2 L582.6,506.4 L586.8,553 L585.6,555.4 L566,554 L563.8,552 Z" fill="#fff" stroke="#1c1c1c" stroke-width="1.15" stroke-linejoin="round" stroke-linecap="round" />
<path d="M565,507 L578.6,511 L581.8,548 L568.6,547 Z" fill="#fff" stroke="#1c1c1c" stroke-width="1.03" stroke-linejoin="round" stroke-linecap="round" />
<path d="M566.5,509.5 L568,508 M569.5,546.8 L570.5,545 L581.6,546" fill="none" stroke="#1c1c1c" stroke-width="0.69" stroke-linejoin="round" stroke-linecap="round" />
<ellipse cx="563.3" cy="503.5" rx="0.9" ry="1" fill="#444" stroke="#1c1c1c" stroke-width="0.69" transform="rotate(0 563.3 503.5)"/>
<ellipse cx="579.6" cy="508" rx="0.9" ry="1" fill="#444" stroke="#1c1c1c" stroke-width="0.69" transform="rotate(0 579.6 508)"/>
<ellipse cx="583.8" cy="550.5" rx="0.9" ry="1" fill="#444" stroke="#1c1c1c" stroke-width="0.69" transform="rotate(0 583.8 550.5)"/>
<ellipse cx="566.3" cy="550.3" rx="0.9" ry="1" fill="#444" stroke="#1c1c1c" stroke-width="0.69" transform="rotate(0 566.3 550.3)"/>
<ellipse cx="556.2" cy="535.4" rx="3.2" ry="4.2" fill="#555" stroke="#1c1c1c" stroke-width="1.03" transform="rotate(-10 556.2 535.4)"/>
<ellipse cx="556.6" cy="535.4" rx="1.6" ry="2.3" fill="#ddd" stroke="#1c1c1c" stroke-width="0.8" transform="rotate(-10 556.6 535.4)"/>
<path d="M593.1999999999999,544.8 l3,-1 l2.4,0.4 l0,2 l-3,1 l-2.4,-0.4z" fill="#888" stroke="#1c1c1c" stroke-width="0.8" stroke-linejoin="round" stroke-linecap="round" />
<ellipse cx="594.4" cy="545.6" rx="1.1" ry="1.2" fill="#fff" stroke="#1c1c1c" stroke-width="0.69" transform="rotate(0 594.4 545.6)"/>
<path d="M611.8,547.0 l3,-1 l2.4,0.4 l0,2 l-3,1 l-2.4,-0.4z" fill="#888" stroke="#1c1c1c" stroke-width="0.8" stroke-linejoin="round" stroke-linecap="round" />
<ellipse cx="613" cy="547.8" rx="1.1" ry="1.2" fill="#fff" stroke="#1c1c1c" stroke-width="0.69" transform="rotate(0 613 547.8)"/>
<path d="M624.2,381.5 L641.5,376.2 L655,376.7 L660.2,387.5 L664.7,410 L669.2,411.5 L668.5,415.2 L645.2,420.5 L642.2,419.7 L620.5,416.7 L620.2,413.7 L625,411.5 Z" fill="#fff" stroke="#1c1c1c" stroke-width="1.15" stroke-linejoin="round" stroke-linecap="round" />
<path d="M624.2,381.5 L631,384.5 L645,382.5 L655,376.7 M631,384.5 L633.5,414.5 M645,382.5 L649,414 M625,411.5 L633.5,414.5 L649,414 L664.7,410" fill="none" stroke="#1c1c1c" stroke-width="1.03" stroke-linejoin="round" stroke-linecap="round" />
<path d="M627,383.2 L628.5,412.5 M636,385 L638,414.8 M640,384.2 L642.5,414.6 M650,381 L655,412.5 M653.5,379 L659,411.5 M657,381 L662,410.8" fill="none" stroke="#1c1c1c" stroke-width="1.72" stroke-linejoin="round" stroke-linecap="round" />
<path d="M629,383.8 L630.5,413.2 M647.5,381.6 L652,413.2" fill="none" stroke="#1c1c1c" stroke-width="0.92" stroke-linejoin="round" stroke-linecap="round" />
<path d="M634,380.5 L634.2,384 M638,379.6 L638.2,383.4 M643,378.8 L643.3,382.8 M648.5,377.5 L648.8,381.5 M628,380.3 L641.5,376.2 M630.5,382 L644,378.2 L652,378.6" fill="none" stroke="#1c1c1c" stroke-width="0.92" stroke-linejoin="round" stroke-linecap="round" />
<path d="M636.5,386.5 l2.6,-0.4 l0.3,4 l-2.6,0.4z" fill="#333" stroke="#1c1c1c" stroke-width="0.57" stroke-linejoin="round" stroke-linecap="round" />
<path d="M620.5,416.7 L620.2,413.7 M642.2,419.7 L642.5,416.5 L620.2,413.7 M642.5,416.5 L645.2,417 L668.8,412 M645.2,420.5 L645.2,417" fill="none" stroke="#1c1c1c" stroke-width="0.8" stroke-linejoin="round" stroke-linecap="round" />
<path d="M623.5,414.6 l3,0.4 M665.2,412.9 l2,-0.5" fill="none" stroke="#1c1c1c" stroke-width="1.38" stroke-linejoin="round" stroke-linecap="round" />
<rect x="623.9" y="433.2" width="2.2" height="8.3" rx="0" fill="#ddd" stroke="#1c1c1c" stroke-width="0.7"/>
<rect x="622.9" y="441.5" width="4.2" height="2.2" rx="0.6" fill="#666" stroke="#1c1c1c" stroke-width="0.7"/>
<rect x="644.9" y="427.2" width="2.2" height="8.6" rx="0" fill="#ddd" stroke="#1c1c1c" stroke-width="0.7"/>
<rect x="643.9" y="435.8" width="4.2" height="2.2" rx="0.6" fill="#666" stroke="#1c1c1c" stroke-width="0.7"/>
<rect x="644.9" y="437.7" width="2.2" height="8.3" rx="0" fill="#ddd" stroke="#1c1c1c" stroke-width="0.7"/>
<rect x="643.9" y="446" width="4.2" height="2.2" rx="0.6" fill="#666" stroke="#1c1c1c" stroke-width="0.7"/>
<rect x="667.9" y="431.7" width="2.2" height="8.8" rx="0" fill="#ddd" stroke="#1c1c1c" stroke-width="0.7"/>
<rect x="666.9" y="440.5" width="4.2" height="2.2" rx="0.6" fill="#666" stroke="#1c1c1c" stroke-width="0.7"/>
<path d="M636.2,466 C640,463.5 646,462.5 650,462.2 L651,459.2 L655,457.3 L661.5,456.4 L663.5,458.5 L663.2,462 C666,462.5 667.5,463.5 667.7,465 L668.2,487 C662,491.5 650,493 644,492.8 L637.2,490 Z" fill="#fff" stroke="#1c1c1c" stroke-width="1.49" stroke-linejoin="round" stroke-linecap="round" />
<path d="M636.2,466 C640,469 647,469.6 652,469 C658,468.3 664,467 667.7,465 M641,468.8 L642,491.8 M644.5,469.4 L645.5,492.8 M659.5,468 L660.5,490.8 M663,467.2 L664,489.6" fill="none" stroke="#1c1c1c" stroke-width="1.49" stroke-linejoin="round" stroke-linecap="round" />
<path d="M638,466.2 C642,464.8 648,464.5 651.5,465.5 C654,464 660,463.5 663.2,462 M651,459.2 L654.5,461 L660.5,460 L663.5,458.5 M654.5,461 L654.8,464.6 M643,463.4 L646,461.6 L650.5,462" fill="none" stroke="#1c1c1c" stroke-width="0.92" stroke-linejoin="round" stroke-linecap="round" />
<path d="M646.5,470 L647.2,492.6 M657,468.6 L658,491.4" fill="none" stroke="#666" stroke-width="0.57" stroke-linejoin="round" stroke-linecap="round" />
<path d="M637.6,468 L638.6,490.2 M639.4,468.4 L640.4,491 M661.2,467.6 L662.2,490.2 M665,466.4 L666,488.6 M666.6,465.8 L667.4,487.8" fill="none" stroke="#333" stroke-width="1.03" stroke-linejoin="round" stroke-linecap="round" />
<path d="M637.5,492 L637.5,495.5 L641,496.5 L642.5,503.5 L655.5,501.5 L656,497.5 L660,497 M646,493 L648,496.5 L660,494.5 L664,491.5 M664,494 L671.5,492.5 L672.5,498.5 L667,499.5 M655,492.5 L655.5,495" fill="none" stroke="#1c1c1c" stroke-width="1.38" stroke-linejoin="round" stroke-linecap="round" />
<path d="M652,497.5 l6,-1 l1,4 l-4,1.5 l-3,-1z" fill="none" stroke="#1c1c1c" stroke-width="1.03" stroke-linejoin="round" stroke-linecap="round" />
<ellipse cx="674" cy="501.5" rx="1.5" ry="1.5" fill="none" stroke="#1c1c1c" stroke-width="1.03" transform="rotate(0 674 501.5)"/>
<ellipse cx="658.5" cy="503.6" rx="1.3" ry="1.3" fill="none" stroke="#1c1c1c" stroke-width="1.03" transform="rotate(0 658.5 503.6)"/>
<ellipse cx="652.5" cy="504.5" rx="1.2" ry="1.2" fill="none" stroke="#1c1c1c" stroke-width="0.92" transform="rotate(0 652.5 504.5)"/>
<path d="M667,499.5 L672.8,500.6" fill="none" stroke="#1c1c1c" stroke-width="0.92" stroke-linejoin="round" stroke-linecap="round" />
<line x1="648.4" y1="517" x2="651" y2="538.2" stroke="#222" stroke-width="1.84"/>
<rect x="649.6" y="538" width="2.8" height="1.5" rx="0" fill="#222" stroke="#1c1c1c" stroke-width="0.4"/>
<line x1="664.2" y1="517.9" x2="666.3" y2="540" stroke="#222" stroke-width="1.84"/>
<rect x="664.9" y="539.8" width="2.8" height="1.5" rx="0" fill="#222" stroke="#1c1c1c" stroke-width="0.4"/>
<path d="M656.6,544 L663.4,543.6 L664,553 L657.2,553.4 Z" fill="#444" stroke="#1c1c1c" stroke-width="0.8" stroke-linejoin="round" stroke-linecap="round" />
<path d="M658.3,544 L658.8,553.2 M660,543.9 L660.5,553.2 M661.7,543.8 L662.2,553" fill="none" stroke="#ddd" stroke-width="0.57" stroke-linejoin="round" stroke-linecap="round" />
<path d="M655.6,553.4 L665.2,552.8 L665.8,558 L666.6,558.2 L667,562.6 L655.2,563.4 L654.8,558.8 L656,558.4 Z" fill="#fff" stroke="#1c1c1c" stroke-width="1.03" stroke-linejoin="round" stroke-linecap="round" />
<path d="M656,558.4 L665.8,558 M655.4,556 L665.6,555.5" fill="none" stroke="#1c1c1c" stroke-width="0.8" stroke-linejoin="round" stroke-linecap="round" />
<path d="M653.8,564.7 C656,562.2 668,561.4 670.9,562.9 L673.2,586.3 C671,589.4 658,590.4 655.6,587.2 Z" fill="#fff" stroke="#1c1c1c" stroke-width="1.26" stroke-linejoin="round" stroke-linecap="round" />
<path d="M653.8,564.7 C656,567.8 668,567 670.9,562.9" fill="none" stroke="#1c1c1c" stroke-width="1.03" stroke-linejoin="round" stroke-linecap="round" />
<line x1="656.2" y1="567.2" x2="657.9" y2="588.4" stroke="#222" stroke-width="1.38"/>
<line x1="658.9" y1="567.4" x2="660.7" y2="588.6" stroke="#222" stroke-width="1.38"/>
<line x1="661.6" y1="567.7" x2="663.5" y2="588.7" stroke="#222" stroke-width="1.38"/>
<line x1="664.3" y1="567.7" x2="666.3" y2="588.7" stroke="#222" stroke-width="1.38"/>
<line x1="667" y1="567.4" x2="669.1" y2="588.6" stroke="#222" stroke-width="1.38"/>
<line x1="669.7" y1="567.2" x2="671.9" y2="588.4" stroke="#222" stroke-width="1.38"/>
<path d="M656,587.4 L657.2,591.2 L672.8,590 L673,586.6" fill="#fff" stroke="#1c1c1c" stroke-width="0.92" stroke-linejoin="round" stroke-linecap="round" />
<path d="M657.6,591.4 L672.6,590.2 L673,594.4 L658,595.6 Z" fill="#fff" stroke="#1c1c1c" stroke-width="0.92" stroke-linejoin="round" stroke-linecap="round" />
<path d="M658.4,595.8 L672.8,594.6 L673.2,604 C671,606.6 662,607.4 659.8,605.4 Z" fill="#4a4a4a" stroke="#1c1c1c" stroke-width="1.03" stroke-linejoin="round" stroke-linecap="round" />
<line x1="660.2" y1="596.2" x2="661" y2="605.6" stroke="#ddd" stroke-width="0.52"/>
<line x1="661.7" y1="596.2" x2="662.5" y2="605.6" stroke="#ddd" stroke-width="0.52"/>
<line x1="663.2" y1="596.2" x2="664" y2="605.6" stroke="#ddd" stroke-width="0.52"/>
<line x1="664.7" y1="596.2" x2="665.5" y2="605.6" stroke="#ddd" stroke-width="0.52"/>
<line x1="666.2" y1="596.2" x2="667" y2="605.6" stroke="#ddd" stroke-width="0.52"/>
<line x1="667.7" y1="596.2" x2="668.5" y2="605.6" stroke="#ddd" stroke-width="0.52"/>
<line x1="669.2" y1="596.2" x2="670" y2="605.6" stroke="#ddd" stroke-width="0.52"/>
<line x1="670.7" y1="596.2" x2="671.5" y2="605.6" stroke="#ddd" stroke-width="0.52"/>
<line x1="672.2" y1="596.2" x2="673" y2="605.6" stroke="#ddd" stroke-width="0.52"/>
<path d="M658.8,598.4 C663,600 670,599.4 673,597.8" fill="none" stroke="#111" stroke-width="1.03" stroke-linejoin="round" stroke-linecap="round" />
<path d="M663,606.6 L663.4,609 L670.2,608.4 L670.2,606" fill="#fff" stroke="#1c1c1c" stroke-width="0.92" stroke-linejoin="round" stroke-linecap="round" />
<path d="M665,608.9 L665.2,611.4 L668.6,611.2 L668.5,608.6" fill="#fff" stroke="#1c1c1c" stroke-width="0.92" stroke-linejoin="round" stroke-linecap="round" />
<path d="M661.6,618 L661.6,620.6 A5.8,1.7 0 0 0 673.2,620.6 L673.2,618 Z" fill="#fff" stroke="#1c1c1c" stroke-width="0.92" stroke-linejoin="round" stroke-linecap="round" />
<ellipse cx="667.4" cy="618" rx="5.8" ry="1.7" fill="#fff" stroke="#1c1c1c" stroke-width="0.92" transform="rotate(0 667.4 618)"/>
<path d="M644.9,634.9 L649.4,629.5 L665.6,626.4 L688.1,628.6 L692.2,632.2 L689.9,643 L687.2,653.8 L683.5,653 L683,648.5 L666.5,651.5 L664.7,650.2 L651.2,647.5 Z" fill="#fff" stroke="#1c1c1c" stroke-width="1.15" stroke-linejoin="round" stroke-linecap="round" />
<path d="M644.9,634.9 L651,637.5 L666,640.5 L690.5,636 L692.2,632.2 M651,637.5 L653.5,646.8 M666,640.5 L666.5,650 M649.4,629.5 L655,632 L667,633.5 L688.1,628.6 M655,632 L655.5,637.8 M667,633.5 L667.4,640" fill="none" stroke="#1c1c1c" stroke-width="1.03" stroke-linejoin="round" stroke-linecap="round" />
<path d="M656,639.5 L657.5,647.5 M660,640.3 L661,648.5 M663,640.8 L663.8,649.2" fill="none" stroke="#1c1c1c" stroke-width="0.69" stroke-linejoin="round" stroke-linecap="round" />
<path d="M668.5,636 L676,634.6 L676.5,641.5 L669,643 Z M677.5,632 L684,630.8 L684.5,638 L678,639.4 Z" fill="none" stroke="#1c1c1c" stroke-width="1.15" stroke-linejoin="round" stroke-linecap="round" />
<path d="M668,636.4 L672,635.6 L672.4,642.4 L668.6,643.2 Z M677.5,633 L681,632.4 L681.4,638.6 L678,639.4 Z M672.5,641 l4,-0.8 l0.2,3.4 l-4,0.8z" fill="#222" stroke="#1c1c1c" stroke-width="0.69" stroke-linejoin="round" stroke-linecap="round" />
<path d="M652,632.4 L662,634.4 L662.4,638 L654,636.6 Z" fill="#fff" stroke="#1c1c1c" stroke-width="1.03" stroke-linejoin="round" stroke-linecap="round" />
<path d="M671,630 L671.3,634.5 L674.5,634 L674.2,629.4 M660,628 L660.3,631.5 M681,629.5 L681,633" fill="none" stroke="#1c1c1c" stroke-width="1.03" stroke-linejoin="round" stroke-linecap="round" />
<path d="M667,646 L686,642.5 M668,648.2 L684,645" fill="none" stroke="#1c1c1c" stroke-width="0.92" stroke-linejoin="round" stroke-linecap="round" />
<path d="M648,630 L648,626.5 L650,626 L650,629.2 M688.5,628.5 L688.5,624.5 L690.5,624.2 L690.5,630.6" fill="none" stroke="#1c1c1c" stroke-width="0.92" stroke-linejoin="round" stroke-linecap="round" />
<path d="M683.5,653 L684.5,656 L687.5,656.4 L687.2,653.8" fill="none" stroke="#1c1c1c" stroke-width="0.92" stroke-linejoin="round" stroke-linecap="round" />
<path d="M622,629.5 l4,-1.6 l1,-2 l2,-0.4 l0.5,1.6 l5,-0.6 l3.6,1.2 l0.4,2.4 l-2.4,0.6 l-0.4,3.4 l-3,1 l-2,-0.6 l-3,1 l-2.4,-1.4 l-0.3,-3 l-3.6,-0.4z" fill="#444" stroke="#1c1c1c" stroke-width="0.92" stroke-linejoin="round" stroke-linecap="round" />
<path d="M627,630.5 l6,-1 M628,633.0 l5,-1 M630,629.5 l0.4,5" fill="none" stroke="#ddd" stroke-width="0.69" stroke-linejoin="round" stroke-linecap="round" />
<path d="M692,638.3 l4,-1.6 l1,-2 l2,-0.4 l0.5,1.6 l5,-0.6 l3.6,1.2 l0.4,2.4 l-2.4,0.6 l-0.4,3.4 l-3,1 l-2,-0.6 l-3,1 l-2.4,-1.4 l-0.3,-3 l-3.6,-0.4z" fill="#444" stroke="#1c1c1c" stroke-width="0.92" stroke-linejoin="round" stroke-linecap="round" />
<path d="M697,639.3 l6,-1 M698,641.8 l5,-1 M700,638.3 l0.4,5" fill="none" stroke="#ddd" stroke-width="0.69" stroke-linejoin="round" stroke-linecap="round" />
<path d="M604,628 l6.6,-0.8 l0.6,5 l-6.6,0.8z" fill="#fff" stroke="#1c1c1c" stroke-width="1.03" stroke-linejoin="round" stroke-linecap="round" />
<path d="M611,628.5 l2,-1 l1.2,3.4 l-1.2,2.4 M613,631 C615,634.5 618,634 619.5,631" fill="none" stroke="#1c1c1c" stroke-width="1.03" stroke-linejoin="round" stroke-linecap="round" />
<ellipse cx="599.4" cy="623.2" rx="1.3" ry="1" fill="#555" stroke="#1c1c1c" stroke-width="0.69" transform="rotate(-20 599.4 623.2)"/>
<ellipse cx="600.6" cy="623.4" rx="0.8" ry="0.7" fill="#fff" stroke="#1c1c1c" stroke-width="0.57" transform="rotate(0 600.6 623.4)"/>
<path d="M715.5,642.5 l3,-2 l5,0.4 l0.6,4 l-3,2.4 l-5,-0.6z" fill="#333" stroke="#1c1c1c" stroke-width="0.92" stroke-linejoin="round" stroke-linecap="round" />
<path d="M718.5,642.8 l3.4,0.2 l0.2,2 l-3.4,-0.2z" fill="#ddd" stroke="#1c1c1c" stroke-width="0.46" stroke-linejoin="round" stroke-linecap="round" />
<path d="M715.5,645.5 l-1.5,1.6 l1.6,1 l1.4,-1" fill="none" stroke="#1c1c1c" stroke-width="0.92" stroke-linejoin="round" stroke-linecap="round" />
<ellipse cx="734" cy="639" rx="1.2" ry="0.9" fill="#444" stroke="#1c1c1c" stroke-width="0.69" transform="rotate(-20 734 639)"/>
<path d="M729.5,642.5 l1,0.6 M735,641.4 l1.2,0.8 M737.2,643.2 l1,1.2" fill="none" stroke="#777" stroke-width="0.69" stroke-linejoin="round" stroke-linecap="round" />
<path d="M657.4,672.6 C658,670.6 662,669.4 668,668.8 L682,668 C687,668 689.6,669.4 689.6,671.4 L689.2,675.4 C687,678.4 679,679.8 671,679.6 C663,679.4 658,678.2 657.6,676.2 Z" fill="#fff" stroke="#1c1c1c" stroke-width="1.26" stroke-linejoin="round" stroke-linecap="round" />
<path d="M659.5,674.6 l0.8,-3.6 l3,-0.6 l0.6,3.8" fill="#fff" stroke="#1c1c1c" stroke-width="1.15" stroke-linejoin="round" stroke-linecap="round" />
<path d="M664.5,675.4 l0.8,-3.6 l3,-0.6 l0.6,3.8" fill="#fff" stroke="#1c1c1c" stroke-width="1.15" stroke-linejoin="round" stroke-linecap="round" />
<path d="M670,675.8 l0.8,-3.6 l3,-0.6 l0.6,3.8" fill="#fff" stroke="#1c1c1c" stroke-width="1.15" stroke-linejoin="round" stroke-linecap="round" />
<path d="M675.5,675.6 l0.8,-3.6 l3,-0.6 l0.6,3.8" fill="#fff" stroke="#1c1c1c" stroke-width="1.15" stroke-linejoin="round" stroke-linecap="round" />
<path d="M681,674.8 l0.8,-3.6 l3,-0.6 l0.6,3.8" fill="#fff" stroke="#1c1c1c" stroke-width="1.15" stroke-linejoin="round" stroke-linecap="round" />
<path d="M685.6,673.6 l0.8,-3.6 l3,-0.6 l0.6,3.8" fill="#fff" stroke="#1c1c1c" stroke-width="1.15" stroke-linejoin="round" stroke-linecap="round" />
<path d="M663,672.0 l1.2,-2.2 l2.6,-0.2 l0.8,2" fill="#444" stroke="#1c1c1c" stroke-width="0.92" stroke-linejoin="round" stroke-linecap="round" />
<path d="M668,671.4 l1.2,-2.2 l2.6,-0.2 l0.8,2" fill="#444" stroke="#1c1c1c" stroke-width="0.92" stroke-linejoin="round" stroke-linecap="round" />
<path d="M673.5,671.0 l1.2,-2.2 l2.6,-0.2 l0.8,2" fill="#444" stroke="#1c1c1c" stroke-width="0.92" stroke-linejoin="round" stroke-linecap="round" />
<path d="M679,670.8000000000001 l1.2,-2.2 l2.6,-0.2 l0.8,2" fill="#444" stroke="#1c1c1c" stroke-width="0.92" stroke-linejoin="round" stroke-linecap="round" />
<path d="M684,671.2 l1.2,-2.2 l2.6,-0.2 l0.8,2" fill="#444" stroke="#1c1c1c" stroke-width="0.92" stroke-linejoin="round" stroke-linecap="round" />
<path d="M658,676 C662,678.2 672,678.6 680,677.8 C685,677.2 688,676 689.2,675" fill="none" stroke="#1c1c1c" stroke-width="0.92" stroke-linejoin="round" stroke-linecap="round" />
<ellipse cx="675.2" cy="692.6" rx="7.2" ry="2.3" fill="#ccc" stroke="#222" stroke-width="1.72" transform="rotate(-4 675.2 692.6)"/>
<ellipse cx="675.6" cy="692.5" rx="3.8" ry="1.1" fill="#fff" stroke="#1c1c1c" stroke-width="0.92" transform="rotate(-4 675.6 692.5)"/>
<ellipse cx="675.5" cy="702.8" rx="3" ry="0.9" fill="#222" stroke="#1c1c1c" stroke-width="0.57" transform="rotate(-4 675.5 702.8)"/>
<rect x="676.3" y="712" width="2.4" height="5.6" rx="0" fill="#ddd" stroke="#1c1c1c" stroke-width="0.7"/>
<ellipse cx="677.5" cy="712" rx="1.7" ry="0.7" fill="#fff" stroke="#1c1c1c" stroke-width="0.8" transform="rotate(0 677.5 712)"/>
<path d="M669.2,730 C672,727.6 680,726.4 688,726 L697.6,726.2 L697.4,719 C697.4,716.8 700.2,716.8 700.4,719 L700.6,728.6 C698.6,730.8 690,732.8 683,733.4 C677,734 671,732.6 669.2,730 Z" fill="#fff" stroke="#1c1c1c" stroke-width="1.49" stroke-linejoin="round" stroke-linecap="round" />
<path d="M698.9,718.6 L699,727" fill="none" stroke="#1c1c1c" stroke-width="2.07" stroke-linejoin="round" stroke-linecap="round" />
<path d="M672,730.2 C676,728.6 684,727.8 692,727.9 M675,731.8 C680,730.8 688,729.8 696,729.6" fill="none" stroke="#1c1c1c" stroke-width="1.15" stroke-linejoin="round" stroke-linecap="round" />
<path d="M679,729.6 l7,-1 l4,1.4 l-7,1.2z" fill="#333" stroke="#1c1c1c" stroke-width="0.57" stroke-linejoin="round" stroke-linecap="round" />
<path d="M697.6,742 l2.4,0 l-0.4,1.2 l0.4,4.2 l-2.4,0 l0.4,-4.2z" fill="#fff" stroke="#888" stroke-width="0.8" stroke-linejoin="round" stroke-linecap="round" />
<line x1="738.3" y1="458.7" x2="744.5" y2="457.3" stroke="#333" stroke-width="1.84"/>
<line x1="738.3" y1="458.7" x2="740.3" y2="458.3" stroke="#222" stroke-width="3.45"/>
<line x1="754.4" y1="460.1" x2="760.6" y2="458.7" stroke="#333" stroke-width="1.84"/>
<line x1="754.4" y1="460.1" x2="756.4" y2="459.7" stroke="#222" stroke-width="3.45"/>
<line x1="739" y1="471" x2="745.2" y2="469.6" stroke="#333" stroke-width="1.84"/>
<line x1="739" y1="471" x2="741" y2="470.6" stroke="#222" stroke-width="3.45"/>
<line x1="755.1" y1="472" x2="761.3" y2="470.6" stroke="#333" stroke-width="1.84"/>
<line x1="755.1" y1="472" x2="757.1" y2="471.6" stroke="#222" stroke-width="3.45"/>
<path d="M763.5,451.7 L771.2,449.6 L781,451 L783.8,455.2 L784.5,466.4 L782.4,472 L776.8,476.2 L771.2,473.4 L765.6,465 L764.9,456.6 Z" fill="#fff" stroke="#1c1c1c" stroke-width="1.15" stroke-linejoin="round" stroke-linecap="round" />
<path d="M765.5,453 L772,451.4 L780,452.6 L782,456 L782.6,466 L781,470.5 L776.6,474 L772.4,471.8 L767.4,464.4 L766.8,457 Z" fill="none" stroke="#1c1c1c" stroke-width="0.69" stroke-linejoin="round" stroke-linecap="round" />
<path d="M770,454.5 l0,4 M774.5,454 l0,4.5 M778.6,455 l0,4 M773,462.5 l3.6,-0.5 M771.5,466 C772.5,470 778,471 780,466.8 M774,467.5 l3.4,0.3" fill="none" stroke="#1c1c1c" stroke-width="1.15" stroke-linejoin="round" stroke-linecap="round" />
<path d="M782.4,457.5 l2.2,0.8 l0.2,5 l-2,0.6 M771.2,449.6 l0.4,-1.6 l2,-0.3 l0.3,1.6 M765.6,461 l-1.4,0.4 l0.2,2.4 l1.4,0.2" fill="none" stroke="#1c1c1c" stroke-width="0.92" stroke-linejoin="round" stroke-linecap="round" />
<path d="M789.4,443.4 L791.5,441.9 L800.5,443.6 L802.7,445.6 L803,452 L806.9,453.6 L806.6,460.5 L803.2,462 L802.8,468.3 L800.2,469.4 L791,468 L789.6,466 Z" fill="#fff" stroke="#1c1c1c" stroke-width="1.15" stroke-linejoin="round" stroke-linecap="round" />
<path d="M791.4,445.8 L799.6,447.2 L800,466.6 L791.8,465.4 Z" fill="none" stroke="#1c1c1c" stroke-width="1.03" stroke-linejoin="round" stroke-linecap="round" />
<path d="M793,445.9 L793.4,465.6 M797.5,447 L797.9,466.2 M800.5,443.6 L799.6,447.2 M802.7,445.6 L800,449" fill="none" stroke="#1c1c1c" stroke-width="0.8" stroke-linejoin="round" stroke-linecap="round" />
<path d="M791.5,441.9 l0.2,-1.5 l2,0.3 l0,1.6 M796,442.8 l0,-1.6 l2.2,0.4 l0,1.6 M791,468 l0.2,1.6 l2,0.3 M797,469 l0.2,1.4 l2,0.2" fill="none" stroke="#1c1c1c" stroke-width="0.92" stroke-linejoin="round" stroke-linecap="round" />
<path d="M795,449 l1.6,0.3 l0,3 l-1.6,-0.3z M795,456 l1.6,0.3 l0,4 l-1.6,-0.3z" fill="#333" stroke="#1c1c1c" stroke-width="0.57" stroke-linejoin="round" stroke-linecap="round" />
<line x1="816.5" y1="467.7" x2="825.8" y2="466.6" stroke="#1c1c1c" stroke-width="5.29"/>
<line x1="816.5" y1="467.7" x2="825.8" y2="466.6" stroke="#eee" stroke-width="3.68"/>
<ellipse cx="816.5" cy="467.7" rx="0.9" ry="1.7" fill="#fff" stroke="#1c1c1c" stroke-width="0.8" transform="rotate(-8 816.5 467.7)"/>
<line x1="824.2" y1="470.5" x2="834.2" y2="468.6" stroke="#1c1c1c" stroke-width="5.29"/>
<line x1="824.2" y1="470.5" x2="834.2" y2="468.6" stroke="#eee" stroke-width="3.68"/>
<ellipse cx="824.2" cy="470.5" rx="0.9" ry="1.7" fill="#fff" stroke="#1c1c1c" stroke-width="0.8" transform="rotate(-8 824.2 470.5)"/>
<line x1="836.4" y1="467" x2="853.4" y2="463" stroke="#222" stroke-width="6.44"/>
<line x1="836.2" y1="464.3" x2="837.4" y2="469.5" stroke="#777" stroke-width="0.4"/>
<line x1="837.8" y1="463.9" x2="839" y2="469.1" stroke="#777" stroke-width="0.4"/>
<line x1="839.4" y1="463.5" x2="840.6" y2="468.7" stroke="#777" stroke-width="0.4"/>
<line x1="841.1" y1="463.2" x2="842.3" y2="468.4" stroke="#777" stroke-width="0.4"/>
<line x1="842.7" y1="462.8" x2="843.9" y2="468" stroke="#777" stroke-width="0.4"/>
<line x1="844.3" y1="462.4" x2="845.5" y2="467.6" stroke="#777" stroke-width="0.4"/>
<line x1="845.9" y1="462" x2="847.1" y2="467.2" stroke="#777" stroke-width="0.4"/>
<line x1="847.5" y1="461.6" x2="848.7" y2="466.8" stroke="#777" stroke-width="0.4"/>
<line x1="849.2" y1="461.3" x2="850.4" y2="466.5" stroke="#777" stroke-width="0.4"/>
<line x1="850.8" y1="460.9" x2="852" y2="466.1" stroke="#777" stroke-width="0.4"/>
<line x1="852.4" y1="460.5" x2="853.6" y2="465.7" stroke="#777" stroke-width="0.4"/>
<path d="M860.8,411.4 L904,403.4 C908,402.6 912.5,403.4 915,406 C922,413 926,424 927.6,436 C929.4,450 929.4,466 926.4,479.4 C925,486 920,489.5 915.2,490.6 L891.2,497.4 L883.2,497.6 L864,494.2 C861,492 859.6,486 859.2,481 L858.4,441 C858.6,428 859,416 860.8,411.4 Z" fill="#fff" stroke="#1c1c1c" stroke-width="1.38" stroke-linejoin="round" stroke-linecap="round" />
<path d="M911,404.6 C918,412 922,424 923.6,437 C925,451 925,467 922.6,478 C921.4,484 917,487.6 913,488.6" fill="none" stroke="#1c1c1c" stroke-width="0.8" stroke-linejoin="round" stroke-linecap="round" />
<path d="M907,405.4 C913,412 917.6,422 919.4,436" fill="none" stroke="#1c1c1c" stroke-width="0.69" stroke-linejoin="round" stroke-linecap="round" />
<path d="M900.8,418.6 C904,416 911,414.6 915.2,415.4 C920,422 922.6,430 923.6,440 C924.8,452 924.6,466 921,474 C919.6,478 917,479.2 915.2,479.4 L904,481.2 C902.6,474 901.6,460 901.6,449 C901.4,436 900.6,424 900.8,418.6 Z" fill="#fff" stroke="#1c1c1c" stroke-width="1.15" stroke-linejoin="round" stroke-linecap="round" />
<path d="M903.6,420.6 C906,418.6 910,417.6 913.6,418 C917.6,424 919.6,432 920.4,441 C921.4,452 921.2,464 918.6,472 C917.6,475.4 915.6,476.4 914,476.6 L906.4,477.8 C905,471 904.4,460 904.4,449 C904.2,437 903.4,426 903.6,420.6 Z" fill="none" stroke="#1c1c1c" stroke-width="0.8" stroke-linejoin="round" stroke-linecap="round" />
<path d="M909.5,425.2 L919.5,423.4 L919.8,425.8 L909.8,427.4 Z" fill="#fff" stroke="#1c1c1c" stroke-width="0.8" stroke-linejoin="round" stroke-linecap="round" />
<path d="M910.4,430.5 L920.4,428.7 L920.6999999999999,431.1 L910.6999999999999,432.7 Z" fill="#fff" stroke="#1c1c1c" stroke-width="0.8" stroke-linejoin="round" stroke-linecap="round" />
<path d="M911.3,435.8 L921.3,434.0 L921.5999999999999,436.40000000000003 L911.5999999999999,438.0 Z" fill="#fff" stroke="#1c1c1c" stroke-width="0.8" stroke-linejoin="round" stroke-linecap="round" />
<path d="M912.2,441.09999999999997 L922.2,439.29999999999995 L922.5,441.7 L912.5,443.29999999999995 Z" fill="#fff" stroke="#1c1c1c" stroke-width="0.8" stroke-linejoin="round" stroke-linecap="round" />
<path d="M913.1,446.4 L923.1,444.59999999999997 L923.4,447.0 L913.4,448.59999999999997 Z" fill="#fff" stroke="#1c1c1c" stroke-width="0.8" stroke-linejoin="round" stroke-linecap="round" />
<path d="M913.1,451.7 L923.1,449.9 L923.4,452.3 L913.4,453.9 Z" fill="#fff" stroke="#1c1c1c" stroke-width="0.8" stroke-linejoin="round" stroke-linecap="round" />
<path d="M913.1,457.0 L923.1,455.2 L923.4,457.6 L913.4,459.2 Z" fill="#fff" stroke="#1c1c1c" stroke-width="0.8" stroke-linejoin="round" stroke-linecap="round" />
<path d="M912.2,462.3 L922.2,460.5 L922.5,462.90000000000003 L912.5,464.5 Z" fill="#fff" stroke="#1c1c1c" stroke-width="0.8" stroke-linejoin="round" stroke-linecap="round" />
<path d="M911.3000000000001,467.59999999999997 L921.3000000000001,465.79999999999995 L921.6,468.2 L911.6,469.79999999999995 Z" fill="#fff" stroke="#1c1c1c" stroke-width="0.8" stroke-linejoin="round" stroke-linecap="round" />
<path d="M910.4,472.9 L920.4,471.09999999999997 L920.6999999999999,473.5 L910.6999999999999,475.09999999999997 Z" fill="#fff" stroke="#1c1c1c" stroke-width="0.8" stroke-linejoin="round" stroke-linecap="round" />
<path d="M884.8,413.8 L903.5,409.4 M888,421.8 L900.8,418.6 M891.2,497.4 L891.6,452 M904,481.2 L891.4,484 M893,489 L912,484.5 M896,412.5 L897.5,419.4" fill="none" stroke="#1c1c1c" stroke-width="0.92" stroke-linejoin="round" stroke-linecap="round" />
<path d="M896,408.5 l8,-1.6 l1.2,3 l-8,1.8z" fill="none" stroke="#1c1c1c" stroke-width="0.8" stroke-linejoin="round" stroke-linecap="round" />
<line x1="891" y1="429.6" x2="901.5" y2="427.2" stroke="#1c1c1c" stroke-width="1.72"/>
<line x1="891" y1="435.6" x2="901.5" y2="433.2" stroke="#1c1c1c" stroke-width="0.92"/>
<line x1="891" y1="441.6" x2="901.5" y2="439.2" stroke="#1c1c1c" stroke-width="1.72"/>
<line x1="891" y1="447.6" x2="901.5" y2="445.2" stroke="#1c1c1c" stroke-width="0.92"/>
<line x1="891" y1="453.6" x2="901.5" y2="451.2" stroke="#1c1c1c" stroke-width="1.72"/>
<line x1="891" y1="459.6" x2="901.5" y2="457.2" stroke="#1c1c1c" stroke-width="0.92"/>
<line x1="891" y1="465.6" x2="901.5" y2="463.2" stroke="#1c1c1c" stroke-width="1.72"/>
<line x1="891" y1="471.6" x2="901.5" y2="469.2" stroke="#1c1c1c" stroke-width="0.92"/>
<line x1="891" y1="477.6" x2="901.5" y2="475.2" stroke="#1c1c1c" stroke-width="1.72"/>
<path d="M893,425 L893.6,480 M897.5,424 L898,479" fill="none" stroke="#1c1c1c" stroke-width="0.8" stroke-linejoin="round" stroke-linecap="round" />
<path d="M891.5,455 l3,-2.4 l0.3,7 l-3,2.4z M892,470 l2.6,-2 l0.4,9 l-2.8,2.2z" fill="#333" stroke="#1c1c1c" stroke-width="0.57" stroke-linejoin="round" stroke-linecap="round" />
<path d="M860.8,411.4 L884.8,413.8 L888,421.8 L891.2,452.2 L890.6,495.6 L883.2,497.6 L864,494.2 L859.6,481 L858.6,441 Z" fill="#fff" stroke="#1c1c1c" stroke-width="1.95" stroke-linejoin="round" stroke-linecap="round" />
<path d="M862.8,414.4 L883.2,416.4 L886,423 L888.8,452 L888.4,493 L883,494.6 L865.6,491.6 L861.8,480 L860.8,441 Z" fill="none" stroke="#1c1c1c" stroke-width="0.8" stroke-linejoin="round" stroke-linecap="round" />
<line x1="863" y1="440" x2="882" y2="436.5" stroke="#1c1c1c" stroke-width="1.84"/>
<line x1="863" y1="445" x2="884" y2="441" stroke="#1c1c1c" stroke-width="1.03"/>
<line x1="863.5" y1="450" x2="886" y2="445.6" stroke="#1c1c1c" stroke-width="1.84"/>
<line x1="863.5" y1="455" x2="887" y2="450.6" stroke="#1c1c1c" stroke-width="1.03"/>
<line x1="864" y1="460" x2="887.6" y2="455.6" stroke="#1c1c1c" stroke-width="1.84"/>
<line x1="864" y1="465" x2="888" y2="460.4" stroke="#1c1c1c" stroke-width="1.03"/>
<line x1="864" y1="470" x2="888" y2="465.4" stroke="#1c1c1c" stroke-width="1.84"/>
<line x1="868" y1="475.5" x2="888" y2="471.6" stroke="#1c1c1c" stroke-width="1.03"/>
<line x1="870" y1="480.5" x2="888" y2="476.8" stroke="#1c1c1c" stroke-width="1.84"/>
<line x1="872" y1="485.5" x2="888" y2="482" stroke="#1c1c1c" stroke-width="1.03"/>
<line x1="876" y1="490" x2="888" y2="487.4" stroke="#1c1c1c" stroke-width="1.84"/>
<path d="M866,416 L866,438 M870,417 L870.4,437 M875,420 L875.4,468 M880,419 L880.6,488 M884,424 L885,470" fill="none" stroke="#1c1c1c" stroke-width="1.03" stroke-linejoin="round" stroke-linecap="round" />
<path d="M866,420 l5,0.6 l0,3 l-5,-0.6z M873,424 l6,-0.6 M873,428 l7,-1 M866,430 l8,-1.2 M867,434 l8,-1.4" fill="none" stroke="#1c1c1c" stroke-width="0.92" stroke-linejoin="round" stroke-linecap="round" />
<path d="M862,446 l3,-0.6 l0.4,2.6 l-3,0.6z M861.6,477 l4,-0.8 l0.6,3 l-4,0.8z" fill="#fff" stroke="#1c1c1c" stroke-width="0.92" stroke-linejoin="round" stroke-linecap="round" />
<ellipse cx="878.5" cy="456.5" rx="2.6" ry="2.8" fill="#fff" stroke="#1c1c1c" stroke-width="1.15" transform="rotate(0 878.5 456.5)"/>
<ellipse cx="878.5" cy="456.5" rx="1.2" ry="1.3" fill="#fff" stroke="#1c1c1c" stroke-width="0.8" transform="rotate(0 878.5 456.5)"/>
<ellipse cx="872" cy="452" rx="1.6" ry="1.8" fill="#fff" stroke="#1c1c1c" stroke-width="0.92" transform="rotate(0 872 452)"/>
<ellipse cx="884" cy="462" rx="1.5" ry="1.7" fill="#fff" stroke="#1c1c1c" stroke-width="0.92" transform="rotate(0 884 462)"/>
<path d="M866,483 L884,487.4 L884,492.5 L866,488 Z" fill="#222" stroke="#1c1c1c" stroke-width="0.69" stroke-linejoin="round" stroke-linecap="round" />
<path d="M868,484.5 l14,3.5 M868,486.3 l14,3.5" fill="none" stroke="#bbb" stroke-width="0.57" stroke-linejoin="round" stroke-linecap="round" />
<path d="M883.2,497.6 L885,499.4 L892,498.6 L891.2,497.4" fill="#222" stroke="#1c1c1c" stroke-width="0.8" stroke-linejoin="round" stroke-linecap="round" />
<path d="M889,470 l2.6,-2 l0.4,8 l-2.8,2z" fill="#333" stroke="#1c1c1c" stroke-width="0.57" stroke-linejoin="round" stroke-linecap="round" />
<line x1="938.4" y1="398.6" x2="954.4" y2="395.4" stroke="#1c1c1c" stroke-width="3.45"/>
<line x1="938.8" y1="398.6" x2="952.9" y2="395.7" stroke="#ddd" stroke-width="1.72"/>
<ellipse cx="953.8" cy="395.5" rx="1.4" ry="1.9" fill="#333" stroke="#1c1c1c" stroke-width="0.57" transform="rotate(-12 953.8 395.5)"/>
<line x1="955.2" y1="401" x2="971.2" y2="397.5" stroke="#1c1c1c" stroke-width="3.45"/>
<line x1="955.6" y1="401" x2="969.7" y2="397.8" stroke="#ddd" stroke-width="1.72"/>
<ellipse cx="970.6" cy="397.6" rx="1.4" ry="1.9" fill="#333" stroke="#1c1c1c" stroke-width="0.57" transform="rotate(-12 970.6 397.6)"/>
<line x1="935.2" y1="418.6" x2="951.2" y2="415.1" stroke="#1c1c1c" stroke-width="3.45"/>
<line x1="935.6" y1="418.6" x2="949.7" y2="415.4" stroke="#ddd" stroke-width="1.72"/>
<ellipse cx="950.6" cy="415.2" rx="1.4" ry="1.9" fill="#333" stroke="#1c1c1c" stroke-width="0.57" transform="rotate(-12 950.6 415.2)"/>
<line x1="962.4" y1="421.8" x2="978.4" y2="418.3" stroke="#1c1c1c" stroke-width="3.45"/>
<line x1="962.8" y1="421.8" x2="976.9" y2="418.6" stroke="#ddd" stroke-width="1.72"/>
<ellipse cx="977.8" cy="418.4" rx="1.4" ry="1.9" fill="#333" stroke="#1c1c1c" stroke-width="0.57" transform="rotate(-12 977.8 418.4)"/>
<line x1="930.4" y1="464.5" x2="945.8" y2="461.4" stroke="#222" stroke-width="2.99"/>
<line x1="945.8" y1="461.4" x2="958.4" y2="458.9" stroke="#1c1c1c" stroke-width="2.53"/>
<line x1="946.3" y1="461.3" x2="956.4" y2="459.3" stroke="#ccc" stroke-width="1.03"/>
<ellipse cx="958" cy="459" rx="1.7" ry="2.2" fill="#333" stroke="#1c1c1c" stroke-width="0.57" transform="rotate(-12 958 459)"/>
<line x1="954.4" y1="467.9" x2="969.4" y2="464.5" stroke="#222" stroke-width="2.99"/>
<line x1="969.4" y1="464.5" x2="981.6" y2="461.8" stroke="#1c1c1c" stroke-width="2.53"/>
<line x1="969.9" y1="464.4" x2="979.6" y2="462.2" stroke="#ccc" stroke-width="1.03"/>
<ellipse cx="981.2" cy="461.9" rx="1.7" ry="2.2" fill="#333" stroke="#1c1c1c" stroke-width="0.57" transform="rotate(-12 981.2 461.9)"/>
<path d="M743.2,491.6 L762.1,493 L764.9,495.1 L771.9,495.8 L771.9,501.4 L767,504.2 L765.6,511.2 L762.1,509.8 L746,506.3 L744.6,500 Z" fill="#fff" stroke="#1c1c1c" stroke-width="1.15" stroke-linejoin="round" stroke-linecap="round" />
<path d="M762.1,493 L762.1,509.8 M764.9,495.1 L765,508 M746,493.6 L746.8,504.8 L761,507.8" fill="none" stroke="#1c1c1c" stroke-width="0.92" stroke-linejoin="round" stroke-linecap="round" />
<path d="M752,498.5 l2.6,0.3 M752,501 l2.6,0.4 M752.6,503.4 l2,0.4" fill="none" stroke="#1c1c1c" stroke-width="1.15" stroke-linejoin="round" stroke-linecap="round" />
<path d="M763,497 l5,0.6 l0,6 l-5,-0.4z" fill="#555" stroke="#1c1c1c" stroke-width="0.69" stroke-linejoin="round" stroke-linecap="round" />
<path d="M769,497 l3.6,0.8 l0,3.4 l-3.6,0.6" fill="none" stroke="#1c1c1c" stroke-width="1.03" stroke-linejoin="round" stroke-linecap="round" />
<ellipse cx="749.5" cy="488.6" rx="1.7" ry="1.5" fill="#fff" stroke="#1c1c1c" stroke-width="1.03" transform="rotate(0 749.5 488.6)"/>
<path d="M747.8,489 l0,2.8 M751.2,489 l0,3" fill="none" stroke="#1c1c1c" stroke-width="0.92" stroke-linejoin="round" stroke-linecap="round" />
<ellipse cx="765.4" cy="511.6" rx="1.4" ry="1.4" fill="#333" stroke="#1c1c1c" stroke-width="0.69" transform="rotate(0 765.4 511.6)"/>
<line x1="729.9" y1="493.3" x2="736" y2="492.2" stroke="#333" stroke-width="1.84"/>
<line x1="729.9" y1="493.3" x2="731.9" y2="492.9" stroke="#222" stroke-width="3.45"/>
<line x1="744.6" y1="515.1" x2="750.6" y2="513.9" stroke="#333" stroke-width="1.84"/>
<line x1="744.6" y1="515.1" x2="746.6" y2="514.7" stroke="#222" stroke-width="3.45"/>
<ellipse cx="774.7" cy="491.6" rx="1.5" ry="3.2" fill="#fff" stroke="#1c1c1c" stroke-width="1.03" transform="rotate(-8 774.7 491.6)"/>
<ellipse cx="781.7" cy="492.3" rx="1.5" ry="3.2" fill="#fff" stroke="#1c1c1c" stroke-width="1.03" transform="rotate(-8 781.7 492.3)"/>
<path d="M776,490.5 L780.4,491 M776,492.8 L780.4,493.4" fill="none" stroke="#1c1c1c" stroke-width="1.03" stroke-linejoin="round" stroke-linecap="round" />
<line x1="788.2" y1="486.5" x2="796.4" y2="486.3" stroke="#444" stroke-width="2.53"/>
<line x1="789.5" y1="485.4" x2="789.9" y2="487.4" stroke="#eee" stroke-width="0.46"/>
<line x1="791" y1="485.4" x2="791.4" y2="487.4" stroke="#eee" stroke-width="0.46"/>
<line x1="792.5" y1="485.4" x2="792.9" y2="487.4" stroke="#eee" stroke-width="0.46"/>
<line x1="794" y1="485.4" x2="794.4" y2="487.4" stroke="#eee" stroke-width="0.46"/>
<line x1="795.5" y1="485.4" x2="795.9" y2="487.4" stroke="#eee" stroke-width="0.46"/>
<line x1="788.2" y1="491.7" x2="796.4" y2="491.5" stroke="#444" stroke-width="2.53"/>
<line x1="789.5" y1="490.6" x2="789.9" y2="492.6" stroke="#eee" stroke-width="0.46"/>
<line x1="791" y1="490.6" x2="791.4" y2="492.6" stroke="#eee" stroke-width="0.46"/>
<line x1="792.5" y1="490.6" x2="792.9" y2="492.6" stroke="#eee" stroke-width="0.46"/>
<line x1="794" y1="490.6" x2="794.4" y2="492.6" stroke="#eee" stroke-width="0.46"/>
<line x1="795.5" y1="490.6" x2="795.9" y2="492.6" stroke="#eee" stroke-width="0.46"/>
<path d="M772.6,526.6 L786.6,523.8 L787.3,528 L791.5,528.7 L790.8,533.6 L786.6,535 L786.6,540.6 L774,540.6 Z" fill="#fff" stroke="#b8b8b8" stroke-width="1.03" stroke-linejoin="round" stroke-linecap="round" />
<path d="M776.5,527 L777.5,540 M786.6,528 L786.6,535 M780.6,529 l0.4,8" fill="none" stroke="#b8b8b8" stroke-width="0.92" stroke-linejoin="round" stroke-linecap="round" />
<path d="M781,531 l1.4,0 M781,534 l1.4,0" fill="none" stroke="#888" stroke-width="1.03" stroke-linejoin="round" stroke-linecap="round" />
<path d="M839,527.6 L840.6,533.2 C843,535.6 848,536.2 851,535.6 L855.8,524.4 Z" fill="#fff" stroke="#1c1c1c" stroke-width="1.03" stroke-linejoin="round" stroke-linecap="round" />
<path d="M842,530 C845,532 849,532.4 852.4,531.6" fill="none" stroke="#777" stroke-width="0.8" stroke-linejoin="round" stroke-linecap="round" />
<path d="M826.2,523.6 L843.8,516.4 L863,514 L868.6,517.2 L851.8,522.8 L832.6,527.1 Z" fill="#fff" stroke="#1c1c1c" stroke-width="1.15" stroke-linejoin="round" stroke-linecap="round" />
<path d="M826.2,523.6 L832.6,527.1 L851.8,522.8 L868.6,517.2" fill="none" stroke="#1c1c1c" stroke-width="1.84" stroke-linejoin="round" stroke-linecap="round" />
<path d="M836,521.5 L845,517.8 L846,514.8 L853,512.8 L861,514.2 L862,516 L852,518.5 L850,522 M846,514.8 L852,516.2 L852,518.5 M852,516.2 L861,514.2 M838,520.5 L848,521.5" fill="none" stroke="#1c1c1c" stroke-width="0.92" stroke-linejoin="round" stroke-linecap="round" />
<path d="M875.8,529 L883,527.6 L885.4,529.4 L885.4,535.4 L878.4,536.6 L875.8,535 Z" fill="#999" stroke="#1c1c1c" stroke-width="1.03" stroke-linejoin="round" stroke-linecap="round" />
<path d="M878,528.6 l0.3,7.8 M880.4,528.2 l0.3,8 M882.8,527.8 l0.3,8" fill="none" stroke="#eee" stroke-width="0.57" stroke-linejoin="round" stroke-linecap="round" />
<path d="M891.8,527.6 L904.6,524.4 L914.2,527.1 L909.4,530 L906.2,539.6 L902.2,543.6 L891.8,542 L889.4,538 Z" fill="#fff" stroke="#1c1c1c" stroke-width="1.26" stroke-linejoin="round" stroke-linecap="round" />
<path d="M904.6,524.4 L914.2,527.1 L909.4,530" fill="none" stroke="#1c1c1c" stroke-width="2.07" stroke-linejoin="round" stroke-linecap="round" />
<path d="M893.5,530 L904,527.6 L906,529.4 L903.4,538.6 L900.6,541.2 L893,540 L891.6,537.6 Z" fill="#444" stroke="#1c1c1c" stroke-width="0.8" stroke-linejoin="round" stroke-linecap="round" />
<path d="M895,532 l7,-1.4 M894.6,535 l6,-1 M896,538 l4,-0.4" fill="none" stroke="#ddd" stroke-width="0.69" stroke-linejoin="round" stroke-linecap="round" />
<line x1="911.8" y1="545.2" x2="917.4" y2="546.8" stroke="#333" stroke-width="1.84"/>
<line x1="911.8" y1="545.2" x2="913.7" y2="545.7" stroke="#222" stroke-width="3.22"/>
<line x1="920.6" y1="545.7" x2="926.2" y2="547.6" stroke="#333" stroke-width="1.84"/>
<line x1="920.6" y1="545.7" x2="922.5" y2="546.3" stroke="#222" stroke-width="3.22"/>
<path d="M856.9,570 L861.4,570.4 L849.4,606 L846.2,605.2 Z" fill="#fff" stroke="#1c1c1c" stroke-width="1.03" stroke-linejoin="round" stroke-linecap="round" />
<path d="M860.6,547.6 L869.4,548.6 L861.4,569.9 L856.9,569.4 Z" fill="#fff" stroke="#1c1c1c" stroke-width="1.15" stroke-linejoin="round" stroke-linecap="round" />
<path d="M862,553 L868,553.8 M856.9,569.4 L861.4,569.9" fill="none" stroke="#1c1c1c" stroke-width="1.03" stroke-linejoin="round" stroke-linecap="round" />
<ellipse cx="865.2" cy="546.4" rx="4.6" ry="1.6" fill="#fff" stroke="#1c1c1c" stroke-width="1.03" transform="rotate(6 865.2 546.4)"/>
<ellipse cx="865.4" cy="544.4" rx="5.6" ry="1.9" fill="#fff" stroke="#1c1c1c" stroke-width="1.49" transform="rotate(6 865.4 544.4)"/>
<ellipse cx="865.6" cy="544.4" rx="3.6" ry="1.1" fill="#fff" stroke="#1c1c1c" stroke-width="0.8" transform="rotate(6 865.6 544.4)"/>
<polygon points="774.9,708.7 776.8,702.8 785,695.8 915.4,619.4 924.8,617.5 934.2,620.6 985.9,653.5 988.7,660.5 990.4,662.4 989.6,693.6 936,722.4 932,724.3 921.9,720.5 920,723.5 904,732.3 901.6,736 900.5,750.4 847.2,774.7 843.7,773.8 835.5,770.3 777.2,740.9 774.9,734.6" fill="#fff" stroke="#1c1c1c" stroke-width="1.49" stroke-linejoin="round"/>
<polyline points="779.6,702.1 788.5,697.4 916.6,621.8 924.8,620.1 933,622.9 982.4,654.7 984.7,659.4 977.7,664.5" fill="none" stroke="#1c1c1c" stroke-width="1.03" stroke-linejoin="round"/>
<polyline points="779.6,702.1 835.5,734.1 840.2,735.7 847.7,733.4" fill="none" stroke="#1c1c1c" stroke-width="1.03" stroke-linejoin="round"/>
<polyline points="776.8,705.2 835,738.1 840.7,739.7 848.7,736.9" fill="none" stroke="#1c1c1c" stroke-width="0.92" stroke-linejoin="round"/>
<polyline points="835.5,734.6 835.5,770.3" fill="none" stroke="#1c1c1c" stroke-width="0.92" stroke-linejoin="round"/>
<polyline points="840.2,736 840.7,773.3" fill="none" stroke="#1c1c1c" stroke-width="0.8" stroke-linejoin="round"/>
<polyline points="847.7,733.6 849.1,772.6" fill="none" stroke="#1c1c1c" stroke-width="0.92" stroke-linejoin="round"/>
<polyline points="837.9,732.2 846.1,731" fill="none" stroke="#1c1c1c" stroke-width="0.8" stroke-linejoin="round"/>
<polyline points="775.3,713.4 835.5,745.1 840.7,747 848.9,744.7" fill="none" stroke="#1c1c1c" stroke-width="0.92" stroke-linejoin="round"/>
<polyline points="775.3,722.3 835.5,753.8 840.7,755.7 848.9,753.4" fill="none" stroke="#1c1c1c" stroke-width="0.92" stroke-linejoin="round"/>
<polyline points="775.3,732.2 835.5,763.2 840.7,765.1 848.9,762.8" fill="none" stroke="#1c1c1c" stroke-width="0.92" stroke-linejoin="round"/>
<polyline points="846.4,732.8 867.2,724" fill="none" stroke="#1c1c1c" stroke-width="0.92" stroke-linejoin="round"/>
<polyline points="880,718.4 900.8,708.8" fill="none" stroke="#1c1c1c" stroke-width="0.92" stroke-linejoin="round"/>
<polyline points="846.4,739.2 867.2,730.4" fill="none" stroke="#1c1c1c" stroke-width="0.92" stroke-linejoin="round"/>
<polyline points="880,724.8 900.8,715.2" fill="none" stroke="#1c1c1c" stroke-width="0.92" stroke-linejoin="round"/>
<polyline points="846.4,745.6 867.2,737.6" fill="none" stroke="#1c1c1c" stroke-width="0.92" stroke-linejoin="round"/>
<polyline points="880,731.2 900.8,722.4" fill="none" stroke="#1c1c1c" stroke-width="0.92" stroke-linejoin="round"/>
<polyline points="846.4,752 867.2,744" fill="none" stroke="#1c1c1c" stroke-width="0.92" stroke-linejoin="round"/>
<polyline points="880,738.4 900.8,729.6" fill="none" stroke="#1c1c1c" stroke-width="0.92" stroke-linejoin="round"/>
<polyline points="846.4,760 867.2,752" fill="none" stroke="#1c1c1c" stroke-width="0.92" stroke-linejoin="round"/>
<polyline points="880,745.6 900.8,737.6" fill="none" stroke="#1c1c1c" stroke-width="0.92" stroke-linejoin="round"/>
<polyline points="936,688 955.5,679.2" fill="none" stroke="#1c1c1c" stroke-width="0.92" stroke-linejoin="round"/>
<polyline points="968.8,672 989.1,661.6" fill="none" stroke="#1c1c1c" stroke-width="0.92" stroke-linejoin="round"/>
<polyline points="936,694.4 955.5,685.6" fill="none" stroke="#1c1c1c" stroke-width="0.92" stroke-linejoin="round"/>
<polyline points="968.8,679.2 989.1,668.8" fill="none" stroke="#1c1c1c" stroke-width="0.92" stroke-linejoin="round"/>
<polyline points="936,701.6 955.5,692.8" fill="none" stroke="#1c1c1c" stroke-width="0.92" stroke-linejoin="round"/>
<polyline points="968.8,686.4 989.1,676" fill="none" stroke="#1c1c1c" stroke-width="0.92" stroke-linejoin="round"/>
<polyline points="936,708.8 955.5,700" fill="none" stroke="#1c1c1c" stroke-width="0.92" stroke-linejoin="round"/>
<polyline points="968.8,693.6 989.1,683.2" fill="none" stroke="#1c1c1c" stroke-width="0.92" stroke-linejoin="round"/>
<polyline points="936,715.2 955.5,707.2" fill="none" stroke="#1c1c1c" stroke-width="0.92" stroke-linejoin="round"/>
<polyline points="968.8,700.8 989.1,689.6" fill="none" stroke="#1c1c1c" stroke-width="0.92" stroke-linejoin="round"/>
<polyline points="900.8,708.8 900.8,750.4" fill="none" stroke="#1c1c1c" stroke-width="1.03" stroke-linejoin="round"/>
<polyline points="880,718.4 880,752" fill="none" stroke="#1c1c1c" stroke-width="0.8" stroke-linejoin="round"/>
<polyline points="936,688 936,722.4" fill="none" stroke="#1c1c1c" stroke-width="1.03" stroke-linejoin="round"/>
<polyline points="955.5,679.2 955.5,707.2" fill="none" stroke="#1c1c1c" stroke-width="0.8" stroke-linejoin="round"/>
<polyline points="968.8,672 968.8,700.8" fill="none" stroke="#1c1c1c" stroke-width="0.8" stroke-linejoin="round"/>
<polyline points="867.2,724 868,757.6" fill="none" stroke="#1c1c1c" stroke-width="0.8" stroke-linejoin="round"/>
<polyline points="891.2,696 917.6,680.8 928.8,680.8 932.8,686.4 936,688" fill="none" stroke="#1c1c1c" stroke-width="1.15" stroke-linejoin="round"/>
<polyline points="893.6,697.9 918.4,683.2 928,683.2 931.5,687.4" fill="none" stroke="#1c1c1c" stroke-width="0.8" stroke-linejoin="round"/>
<polyline points="891.2,696 895.2,700.8 900.8,708.8" fill="none" stroke="#1c1c1c" stroke-width="1.15" stroke-linejoin="round"/>
<path d="M895.2,700.5 C900,705.6 902.1,710.4 901.8,716.8" fill="none" stroke="#1c1c1c" stroke-width="1.03" stroke-linejoin="round" stroke-linecap="round" />
<polyline points="918.4,683.2 918.7,715.2" fill="none" stroke="#1c1c1c" stroke-width="0.92" stroke-linejoin="round"/>
<polyline points="921.9,681.9 922.2,712.8" fill="none" stroke="#1c1c1c" stroke-width="0.8" stroke-linejoin="round"/>
<polyline points="932,688 932.5,701.6" fill="none" stroke="#1c1c1c" stroke-width="0.8" stroke-linejoin="round"/>
<polyline points="904,718.4 936,701.6" fill="none" stroke="#1c1c1c" stroke-width="1.15" stroke-linejoin="round"/>
<polyline points="904.8,723.2 936.8,706.4" fill="none" stroke="#1c1c1c" stroke-width="1.15" stroke-linejoin="round"/>
<polyline points="903.7,727.2 920,718.7" fill="none" stroke="#1c1c1c" stroke-width="0.92" stroke-linejoin="round"/>
<polyline points="907.2,716.8 929.6,705.3" fill="none" stroke="#1c1c1c" stroke-width="1.84" stroke-linejoin="round"/>
<polygon points="903.7,720 905.9,718.7 908,721.6 905.6,723.2" fill="none" stroke="#1c1c1c" stroke-width="1.03" stroke-linejoin="round"/>
<polyline points="922.2,704.8 936,699.2" fill="none" stroke="#1c1c1c" stroke-width="0.92" stroke-linejoin="round"/>
<polyline points="923.2,700.8 927.2,703.2 932,700.8" fill="none" stroke="#1c1c1c" stroke-width="0.8" stroke-linejoin="round"/>
<polyline points="936,710.4 937.9,709.1 937.9,715.2 936,716.5" fill="none" stroke="#1c1c1c" stroke-width="0.92" stroke-linejoin="round"/>
<polygon points="833.2,679.3 894.3,645.3 933,666.4 875.5,702.8" fill="none" stroke="#1c1c1c" stroke-width="1.03" stroke-linejoin="round"/>
<polygon points="843.7,682.4 895.4,653.5 921.3,667.6 871.9,698.1" fill="none" stroke="#1c1c1c" stroke-width="0.92" stroke-linejoin="round"/>
<polyline points="800.3,688 855.5,717.6" fill="none" stroke="#1c1c1c" stroke-width="1.03" stroke-linejoin="round"/>
<polyline points="815.5,680.5 868.9,709.2" fill="none" stroke="#1c1c1c" stroke-width="1.03" stroke-linejoin="round"/>
<polyline points="891.9,634.9 941.7,663.6" fill="none" stroke="#1c1c1c" stroke-width="1.03" stroke-linejoin="round"/>
<polyline points="908.4,627.4 958.2,656.1" fill="none" stroke="#1c1c1c" stroke-width="1.03" stroke-linejoin="round"/>
<polyline points="855.5,717.6 857.1,720.5 870.3,712.5 868.9,709.2" fill="none" stroke="#1c1c1c" stroke-width="0.92" stroke-linejoin="round"/>
<polyline points="941.7,663.6 943.1,666.9 959.1,658.9 958.2,656.1" fill="none" stroke="#1c1c1c" stroke-width="0.92" stroke-linejoin="round"/>
<polyline points="803.8,687.6 817.9,681.2" fill="none" stroke="#1c1c1c" stroke-width="2.07" stroke-linejoin="round"/>
<polyline points="806.8,689.4 820.9,683.1" fill="none" stroke="#1c1c1c" stroke-width="1.38" stroke-linejoin="round"/>
<polyline points="809.7,691.1 823.8,684.7" fill="none" stroke="#1c1c1c" stroke-width="0.92" stroke-linejoin="round"/>
<polyline points="853.1,714.6 866.5,707.5" fill="none" stroke="#1c1c1c" stroke-width="2.07" stroke-linejoin="round"/>
<polyline points="855.5,716.2 868.4,709.4" fill="none" stroke="#1c1c1c" stroke-width="1.15" stroke-linejoin="round"/>
<polyline points="895.4,635.4 909.5,629.3" fill="none" stroke="#1c1c1c" stroke-width="2.07" stroke-linejoin="round"/>
<polyline points="898.5,637.3 912.6,630.9" fill="none" stroke="#1c1c1c" stroke-width="1.38" stroke-linejoin="round"/>
<polyline points="901.3,638.9 915.4,632.6" fill="none" stroke="#1c1c1c" stroke-width="0.92" stroke-linejoin="round"/>
<polyline points="940.1,661.2 954.2,654.7" fill="none" stroke="#1c1c1c" stroke-width="2.07" stroke-linejoin="round"/>
<polyline points="942.4,663.1 956.5,656.3" fill="none" stroke="#1c1c1c" stroke-width="1.15" stroke-linejoin="round"/>
<polygon points="866.4,724.3 876.3,719.5 878.9,718.7 879.5,750.7 869.9,756.3 868.3,753.1" fill="#fff" stroke="#1c1c1c" stroke-width="1.15" stroke-linejoin="round"/>
<polygon points="869.3,737.9 877.9,733.4 878.4,750.7 870.2,755.2" fill="none" stroke="#1c1c1c" stroke-width="1.72" stroke-linejoin="round"/>
<polyline points="871.2,738.7 871.5,753.1" fill="none" stroke="#1c1c1c" stroke-width="0.92" stroke-linejoin="round"/>
<polyline points="868,726.7 878.4,721.9" fill="none" stroke="#1c1c1c" stroke-width="0.8" stroke-linejoin="round"/>
<polyline points="868.6,728.3 869.3,737.9" fill="none" stroke="#1c1c1c" stroke-width="0.8" stroke-linejoin="round"/>
<polygon points="954.9,674.1 964.8,669.3 967.4,668.5 968,700.5 958.4,706.1 956.8,702.9" fill="#fff" stroke="#1c1c1c" stroke-width="1.15" stroke-linejoin="round"/>
<polygon points="957.8,687.7 966.4,683.2 966.9,700.5 958.7,705" fill="none" stroke="#1c1c1c" stroke-width="1.72" stroke-linejoin="round"/>
<polyline points="959.7,688.5 960,702.9" fill="none" stroke="#1c1c1c" stroke-width="0.92" stroke-linejoin="round"/>
<polyline points="956.5,676.5 966.9,671.7" fill="none" stroke="#1c1c1c" stroke-width="0.8" stroke-linejoin="round"/>
<polyline points="957.1,678.1 957.8,687.7" fill="none" stroke="#1c1c1c" stroke-width="0.8" stroke-linejoin="round"/>
<polyline points="984.7,659.4 985.9,687.6" fill="none" stroke="#1c1c1c" stroke-width="0.8" stroke-linejoin="round"/>
<polyline points="977.7,664.5 978.4,668.8" fill="none" stroke="#1c1c1c" stroke-width="0.8" stroke-linejoin="round"/>
<path d="M181.2,592.8 L192.4,584.8 198.8,568.8 219.6,560.8 240.4,551.2 251.6,548.3 267.6,550.4 274.8,556 277.2,576.8 278,607.2 276.4,629.6 272.4,636 232.4,639.5 218,634.1 198.8,633.6 Z " fill="#fff" stroke="#1c1c1c" stroke-width="1.38" stroke-linejoin="round" stroke-linecap="round" />
<polyline points="198.8,568.8 205.2,572.8 219.6,566.4 240.4,556 251.6,553.1 262.8,554.7 267.6,550.4" fill="none" stroke="#1c1c1c" stroke-width="1.03" stroke-linejoin="round"/>
<polyline points="205.2,572.8 202,585.6 192.4,584.8" fill="none" stroke="#1c1c1c" stroke-width="1.03" stroke-linejoin="round"/>
<polyline points="202,585.6 217.2,588 221.2,572 205.2,572.8" fill="none" stroke="#1c1c1c" stroke-width="0.92" stroke-linejoin="round"/>
<polyline points="217.2,588 242,580 258,576 262.8,554.7" fill="none" stroke="#1c1c1c" stroke-width="1.03" stroke-linejoin="round"/>
<polyline points="221.2,572 240.4,562.4 256.4,559.2 259.6,561.6 256.4,574.4 242,578.4" fill="none" stroke="#1c1c1c" stroke-width="0.92" stroke-linejoin="round"/>
<polyline points="218.8,562.4 222,560 228.4,557.3 226.8,559.2" fill="none" stroke="#1c1c1c" stroke-width="1.03" stroke-linejoin="round"/>
<polyline points="222,574.1 240.4,568" fill="none" stroke="#222" stroke-width="1.49" stroke-linejoin="round"/>
<polyline points="222,576.2 240.4,570.1" fill="none" stroke="#222" stroke-width="1.49" stroke-linejoin="round"/>
<polyline points="222,578.2 240.4,572.2" fill="none" stroke="#222" stroke-width="1.49" stroke-linejoin="round"/>
<polyline points="222,580.3 240.4,574.2" fill="none" stroke="#222" stroke-width="1.49" stroke-linejoin="round"/>
<polyline points="222,582.4 240.4,576.3" fill="none" stroke="#222" stroke-width="1.49" stroke-linejoin="round"/>
<polyline points="222,584.5 240.4,578.4" fill="none" stroke="#222" stroke-width="1.49" stroke-linejoin="round"/>
<polyline points="222,586.6 240.4,580.5" fill="none" stroke="#222" stroke-width="1.49" stroke-linejoin="round"/>
<polyline points="202,585.6 206.8,595.2 219.6,592.8 267.6,584 271.6,588 277.2,588" fill="none" stroke="#1c1c1c" stroke-width="1.03" stroke-linejoin="round"/>
<polyline points="206.8,595.2 210,623.2 205.2,629.6" fill="none" stroke="#1c1c1c" stroke-width="1.03" stroke-linejoin="round"/>
<polyline points="219.6,592.8 222,620 210,623.2" fill="none" stroke="#1c1c1c" stroke-width="0.92" stroke-linejoin="round"/>
<polyline points="222,620 258,612.8 267.6,608.8 271.6,588" fill="none" stroke="#1c1c1c" stroke-width="1.03" stroke-linejoin="round"/>
<polyline points="219.6,595.2 266,586.4 269.2,589.6 266,607.2 258,610.4 223.6,617.6" fill="none" stroke="#1c1c1c" stroke-width="0.8" stroke-linejoin="round"/>
<polyline points="258,612.8 260.4,618.4 274.8,615.2 277.2,610.4" fill="none" stroke="#1c1c1c" stroke-width="1.03" stroke-linejoin="round"/>
<polyline points="260.4,618.4 258,626.4 272.4,636" fill="none" stroke="#1c1c1c" stroke-width="1.03" stroke-linejoin="round"/>
<polyline points="258,626.4 274.8,623.2" fill="none" stroke="#1c1c1c" stroke-width="0.92" stroke-linejoin="round"/>
<polyline points="210,623.2 219.6,629.6 232.4,639.5" fill="none" stroke="#1c1c1c" stroke-width="1.03" stroke-linejoin="round"/>
<polyline points="222,620 258,626.4" fill="none" stroke="#1c1c1c" stroke-width="0.8" stroke-linejoin="round"/>
<polyline points="219.6,629.6 258,626.4" fill="none" stroke="#1c1c1c" stroke-width="0.8" stroke-linejoin="round"/>
<polyline points="218,634.1 232.4,636 240.4,633.6 232.4,639.5" fill="#222" stroke="#1c1c1c" stroke-width="0.92" stroke-linejoin="round"/>
<polyline points="267.6,550.4 270.8,557.6 273.2,576.8 274,607.2 272.4,629.6" fill="none" stroke="#1c1c1c" stroke-width="0.8" stroke-linejoin="round"/>
<text x="243.3" y="606.7" text-anchor="middle" font-size="13.5" font-style="italic" textLength="43" lengthAdjust="spacingAndGlyphs" transform="rotate(-24 243.3 603.7)" style="font-family:'DejaVu Serif','Liberation Serif',serif;font-weight:bold;letter-spacing:-0.6px;fill:#fff;stroke:#111;stroke-width:0.75px">Milwaukee</text>
<polyline points="224.4,620.8 263.6,598.4" fill="none" stroke="#1c1c1c" stroke-width="0.92" stroke-linejoin="round"/>
<polyline points="234,615.2 234.8,617.1 236.9,615.2" fill="none" stroke="#1c1c1c" stroke-width="0.69" stroke-linejoin="round"/>
<polyline points="252.4,604.8 254,606.4 255.6,604" fill="none" stroke="#1c1c1c" stroke-width="0.69" stroke-linejoin="round"/>
<path d="M181.2,592.8 C187.6,588 197.2,592.8 202,607.2 C205.2,620 205.2,629.6 198.8,633.6 L194,634.4 C186,629.6 178,607.2 176.4,595.2 Z " fill="#fff" stroke="#1c1c1c" stroke-width="1.15" stroke-linejoin="round" stroke-linecap="round" />
<path d="M185.2,591.5 C194,594.4 202,615.2 200.4,632 " fill="none" stroke="#1c1c1c" stroke-width="0.8" stroke-linejoin="round" stroke-linecap="round" />
<path d="M178.8,594.1 C186,597.6 194.8,616.8 195.3,634.1 " fill="none" stroke="#1c1c1c" stroke-width="1.03" stroke-linejoin="round" stroke-linecap="round" />
<path d="M175.6,595.7 C182.8,600.8 190.8,620 191.6,634.7 " fill="none" stroke="#1c1c1c" stroke-width="0.8" stroke-linejoin="round" stroke-linecap="round" />
<path d="M150.8,601.6 L176.4,594.9 C184.4,604 191.6,623.2 192.1,634.7 L157.2,638.9 Z " fill="#fff" stroke="#1c1c1c" stroke-width="1.15" stroke-linejoin="round" stroke-linecap="round" />
<path d="M164.4,603.2 L178,599.5 C181.2,602.4 183.6,608.8 184.4,613.6 L170.8,616.8 C170,611.2 167.6,606.4 164.4,603.2 Z " fill="#fff" stroke="#1c1c1c" stroke-width="1.03" stroke-linejoin="round" stroke-linecap="round" />
<polyline points="170,602.7 175.6,615.2" fill="none" stroke="#222" stroke-width="1.61" stroke-linejoin="round"/>
<polyline points="172.2,602.2 177.5,614.7" fill="none" stroke="#222" stroke-width="1.61" stroke-linejoin="round"/>
<polyline points="174.5,601.8 179.4,614.2" fill="none" stroke="#222" stroke-width="1.61" stroke-linejoin="round"/>
<polyline points="176.7,601.3 181.4,613.8" fill="none" stroke="#222" stroke-width="1.61" stroke-linejoin="round"/>
<polyline points="179,600.8 183.3,613.3" fill="none" stroke="#222" stroke-width="1.61" stroke-linejoin="round"/>
<path d="M174.8,623.2 L185.2,620.8 C186,624.8 186,629.6 185.2,633.6 L176.4,635.2 C177.2,631.2 176.4,626.4 174.8,623.2 Z " fill="#fff" stroke="#1c1c1c" stroke-width="1.03" stroke-linejoin="round" stroke-linecap="round" />
<polyline points="177.7,623.2 178.8,634.4" fill="none" stroke="#222" stroke-width="1.61" stroke-linejoin="round"/>
<polyline points="179.8,622.7 180.7,634.1" fill="none" stroke="#222" stroke-width="1.61" stroke-linejoin="round"/>
<polyline points="181.8,622.2 182.6,633.8" fill="none" stroke="#222" stroke-width="1.61" stroke-linejoin="round"/>
<polyline points="183.9,621.8 184.6,633.4" fill="none" stroke="#222" stroke-width="1.61" stroke-linejoin="round"/>
<ellipse cx="152.4" cy="620" rx="12" ry="18.9" fill="#fff" stroke="#1c1c1c" stroke-width="1.38" transform="rotate(-10 152.4 620)"/>
<ellipse cx="153.2" cy="620" rx="10" ry="16.6" fill="#fff" stroke="#1c1c1c" stroke-width="1.03" transform="rotate(-10 153.2 620)"/>
<ellipse cx="154.2" cy="620" rx="8" ry="14" fill="#fff" stroke="#1c1c1c" stroke-width="0.8" transform="rotate(-10 154.2 620)"/>
<polyline points="145.2,610.4 151.6,608.8" fill="none" stroke="#1c1c1c" stroke-width="0.92" stroke-linejoin="round"/>
<polyline points="143.6,623.2 150,621.9" fill="none" stroke="#1c1c1c" stroke-width="0.92" stroke-linejoin="round"/>
<polyline points="146,633.6 152.4,632.5" fill="none" stroke="#1c1c1c" stroke-width="0.92" stroke-linejoin="round"/>
<polyline points="150.8,604.8 151.6,636" fill="none" stroke="#1c1c1c" stroke-width="0.8" stroke-linejoin="round"/>
<path d="M154,623.2 C158.8,620 163.6,623.2 164.4,629.6 L164.4,634.4 L155.6,636 Z " fill="#222" stroke="#1c1c1c" stroke-width="0.69" stroke-linejoin="round" stroke-linecap="round" />
<path d="M151.6,610.4 C155.6,607.2 159.6,608.8 161.2,612 L154,614.4 Z " fill="#555" stroke="#1c1c1c" stroke-width="0.69" stroke-linejoin="round" stroke-linecap="round" />
<polyline points="155.3,623.5 156.9,635.4" fill="none" stroke="#bbb" stroke-width="0.57" stroke-linejoin="round"/>
<polyline points="156.9,623.8 158.5,635.2" fill="none" stroke="#bbb" stroke-width="0.57" stroke-linejoin="round"/>
<polyline points="158.5,624.2 160.1,635" fill="none" stroke="#bbb" stroke-width="0.57" stroke-linejoin="round"/>
<polyline points="160.1,624.5 161.7,634.9" fill="none" stroke="#bbb" stroke-width="0.57" stroke-linejoin="round"/>
<polyline points="161.7,624.8 163.3,634.7" fill="none" stroke="#bbb" stroke-width="0.57" stroke-linejoin="round"/>
<path d="M286.8,558.6999999999999 l3.4,-0.8 l1.6,0.8 l0,3 l-3.4,0.8 l-1.6,-0.8z" fill="#fff" stroke="#1c1c1c" stroke-width="0.92" stroke-linejoin="round" stroke-linecap="round" />
<ellipse cx="287.4" cy="560.7" rx="1.3" ry="1.7" fill="#fff" stroke="#1c1c1c" stroke-width="0.8" transform="rotate(-10 287.4 560.7)"/>
<path d="M302.9,560.3 l3.4,-0.8 l1.6,0.8 l0,3 l-3.4,0.8 l-1.6,-0.8z" fill="#fff" stroke="#1c1c1c" stroke-width="0.92" stroke-linejoin="round" stroke-linecap="round" />
<ellipse cx="303.5" cy="562.3" rx="1.3" ry="1.7" fill="#fff" stroke="#1c1c1c" stroke-width="0.8" transform="rotate(-10 303.5 562.3)"/>
<path d="M117.4,600 C119,596 124,593.6 128,593 L134.6,592.4 L135,595.6 L137.2,596.6 L133,598 L133.4,602.8 L137.4,602.6 L137.6,606.4 L124,610.4 C121,611 118,609 117.4,606 Z" fill="#fff" stroke="#1c1c1c" stroke-width="1.15" stroke-linejoin="round" stroke-linecap="round" />
<path d="M117.4,600 C118.5,598 120.5,598.6 121,600.5 L122.4,609.6 C120,610.8 117.8,608 117.4,606 Z" fill="#333" stroke="#1c1c1c" stroke-width="0.8" stroke-linejoin="round" stroke-linecap="round" />
<path d="M120.5,599.5 C123,596 128,595 134.8,594.4" fill="none" stroke="#1c1c1c" stroke-width="1.72" stroke-linejoin="round" stroke-linecap="round" />
<path d="M122,603 C125,600.4 130,599 133,598" fill="none" stroke="#1c1c1c" stroke-width="1.38" stroke-linejoin="round" stroke-linecap="round" />
<path d="M122.8,604.8 L137.4,602.6 M123.6,607.4 L137.5,604.6" fill="none" stroke="#1c1c1c" stroke-width="0.92" stroke-linejoin="round" stroke-linecap="round" />
<ellipse cx="123.2" cy="607.4" rx="1.2" ry="2.4" fill="#fff" stroke="#1c1c1c" stroke-width="0.8" transform="rotate(-8 123.2 607.4)"/>
<path d="M286.2,619.2 L292.8,614.4 L307.2,612.3 L306.9,619.8 L304.8,627 L288.6,630.3 L285.3,626.4 L288,623.4 Z" fill="#fff" stroke="#1c1c1c" stroke-width="1.15" stroke-linejoin="round" stroke-linecap="round" />
<path d="M292.8,614.4 L296.7,615 L289.8,622.2 L286.2,619.2 M296.7,615 L307.2,612.3 M288,623.4 L304.8,620.7 L306.9,619.8 M288.6,628.2 L305.1,625.2" fill="none" stroke="#1c1c1c" stroke-width="0.92" stroke-linejoin="round" stroke-linecap="round" />
<path d="M285.3,626.4 L288,623.4 L288.6,630.3 Z" fill="#333" stroke="#1c1c1c" stroke-width="0.8" stroke-linejoin="round" stroke-linecap="round" />
<path d="M288.6,630.3 L304.8,627 L305.1,625.2 L288.6,628.2 Z" fill="#555" stroke="#1c1c1c" stroke-width="0.69" stroke-linejoin="round" stroke-linecap="round" />
<path d="M299.1,615.9 L304.8,615.3 L304.8,619.8 L299.1,620.4 Z" fill="#222" stroke="#1c1c1c" stroke-width="0.69" stroke-linejoin="round" stroke-linecap="round" />
<path d="M300.6,618.6 l1.2,-1.8 l1.5,0" fill="none" stroke="#ccc" stroke-width="0.57" stroke-linejoin="round" stroke-linecap="round" />
<ellipse cx="165.2" cy="732.4" rx="11.2" ry="21.4" fill="#fff" stroke="#1c1c1c" stroke-width="1.38" transform="rotate(-6 165.2 732.4)"/>
<ellipse cx="170" cy="732" rx="10" ry="20" fill="#fff" stroke="#1c1c1c" stroke-width="1.15" transform="rotate(-6 170 732)"/>
<ellipse cx="170.6" cy="732" rx="8.6" ry="18" fill="#fff" stroke="#666" stroke-width="0.69" transform="rotate(-6 170.6 732)"/>
<polyline points="162.8,711.6 169.6,712" fill="none" stroke="#1c1c1c" stroke-width="1.03" stroke-linejoin="round"/>
<polyline points="168,753.6 173.6,751.6" fill="none" stroke="#1c1c1c" stroke-width="1.03" stroke-linejoin="round"/>
<path d="M157.6,726.4 C157.2,724.4 160,724.4 160.4,726.4 L160.8,735.6 C160.8,737.6 158.4,737.6 158,735.6 Z " fill="#fff" stroke="#1c1c1c" stroke-width="0.92" stroke-linejoin="round" stroke-linecap="round" />
<path d="M185,720 L197,719 L198,760 L186,761 Z " fill="#fff" stroke="#1c1c1c" stroke-width="1.15" stroke-linejoin="round" stroke-linecap="round" />
<path d="M180,730 C182,727 194,726 197,729 L197.6,739 C194,742 183,742 180,739.6 Z " fill="#fff" stroke="#1c1c1c" stroke-width="1.15" stroke-linejoin="round" stroke-linecap="round" />
<polyline points="180,734.4 197.6,733.6" fill="none" stroke="#1c1c1c" stroke-width="0.92" stroke-linejoin="round"/>
<polyline points="194,727.6 194.4,741" fill="none" stroke="#1c1c1c" stroke-width="0.8" stroke-linejoin="round"/>
<path d="M181,714 C181,711.6 183,711 186,710.6 L206,708.6 L207,718 L187,720.6 C183,721 181,719 181,714 Z " fill="#fff" stroke="#1c1c1c" stroke-width="1.26" stroke-linejoin="round" stroke-linecap="round" />
<polyline points="186,710.6 187,720.6" fill="none" stroke="#1c1c1c" stroke-width="0.8" stroke-linejoin="round"/>
<polyline points="201.6,709.2 202.4,718.6" fill="none" stroke="#1c1c1c" stroke-width="0.92" stroke-linejoin="round"/>
<path d="M185.6,760 C185.6,758.4 187,758 189,757.8 L208,756 L209,765.6 L190,768 C187,768.4 185.6,766.4 185.6,760 Z " fill="#fff" stroke="#1c1c1c" stroke-width="1.26" stroke-linejoin="round" stroke-linecap="round" />
<polyline points="189,757.8 190,768" fill="none" stroke="#1c1c1c" stroke-width="0.8" stroke-linejoin="round"/>
<polyline points="204,756.4 204.8,766.2" fill="none" stroke="#1c1c1c" stroke-width="0.92" stroke-linejoin="round"/>
<polyline points="207,712 219,710.4" fill="none" stroke="#222" stroke-width="2.53" stroke-linejoin="round"/>
<polyline points="207,716 219,714.4" fill="none" stroke="#1c1c1c" stroke-width="1.15" stroke-linejoin="round"/>
<polyline points="209,759.2 221,757.6" fill="none" stroke="#222" stroke-width="2.53" stroke-linejoin="round"/>
<polyline points="209,763.2 221,761.6" fill="none" stroke="#1c1c1c" stroke-width="1.15" stroke-linejoin="round"/>
<path d="M206,708.6 L214,707 C224,706 229,714 231,726 C234,740 234,752 229.6,759 C227,763 220,765 209,766.4 L209,761.6 C216,760.4 220,759.6 221,757 C219,746 218,730 217,716 C216.4,713.6 214,713 207,713.6 Z " fill="#fff" stroke="#1c1c1c" stroke-width="1.38" stroke-linejoin="round" stroke-linecap="round" />
<path d="M217,716 C220,712 224,714 226,720 C229,734 229.6,748 227,757 C225,760 222,760 221,757 " fill="none" stroke="#1c1c1c" stroke-width="0.92" stroke-linejoin="round" stroke-linecap="round" />
<polyline points="218.4,720 227.6,718.8" fill="none" stroke="#555" stroke-width="0.57" stroke-linejoin="round"/>
<polyline points="218.6,724.2 227.8,723" fill="none" stroke="#555" stroke-width="0.57" stroke-linejoin="round"/>
<polyline points="218.7,728.4 228.1,727.2" fill="none" stroke="#555" stroke-width="0.57" stroke-linejoin="round"/>
<polyline points="218.9,732.6 228.3,731.4" fill="none" stroke="#555" stroke-width="0.57" stroke-linejoin="round"/>
<polyline points="219,736.8 228.6,735.6" fill="none" stroke="#555" stroke-width="0.57" stroke-linejoin="round"/>
<polyline points="219.2,741 228.8,739.8" fill="none" stroke="#555" stroke-width="0.57" stroke-linejoin="round"/>
<polyline points="219.4,745.2 229,744" fill="none" stroke="#555" stroke-width="0.57" stroke-linejoin="round"/>
<polyline points="219.5,749.4 228.1,748.2" fill="none" stroke="#555" stroke-width="0.57" stroke-linejoin="round"/>
<polyline points="219.7,753.6 228.3,752.4" fill="none" stroke="#555" stroke-width="0.57" stroke-linejoin="round"/>
<polyline points="220.6,718 223.4,757" fill="none" stroke="#555" stroke-width="0.57" stroke-linejoin="round"/>
<polyline points="223.2,718 226,757" fill="none" stroke="#555" stroke-width="0.57" stroke-linejoin="round"/>
<polyline points="225.8,718 228.6,757" fill="none" stroke="#555" stroke-width="0.57" stroke-linejoin="round"/>
<path d="M190,768 L190.4,772 L199.6,771.2 L199.2,766.8 " fill="#fff" stroke="#1c1c1c" stroke-width="1.03" stroke-linejoin="round" stroke-linecap="round" />
<ellipse cx="195" cy="779.4" rx="8.4" ry="8.8" fill="#fff" stroke="#1c1c1c" stroke-width="1.26" transform="rotate(0 195 779.4)"/>
<ellipse cx="194.4" cy="780" rx="5" ry="5.6" fill="#fff" stroke="#1c1c1c" stroke-width="0.92" transform="rotate(0 194.4 780)"/>
<polyline points="192.4,774 193.2,784" fill="none" stroke="#1c1c1c" stroke-width="0.8" stroke-linejoin="round"/>
<polyline points="198,773.6 198.4,784" fill="none" stroke="#1c1c1c" stroke-width="0.8" stroke-linejoin="round"/>
<polyline points="189,780 192.4,779.4" fill="none" stroke="#1c1c1c" stroke-width="0.69" stroke-linejoin="round"/>
<path d="M549.4,797.4 C549.6,795.4 551,794.2 553,793.2 L571,783.6 C572.6,783 573.4,783.6 573.6,785 L577.2,803.6 C577.4,805.2 576.6,806 575,806.8 L557,818.2 C555.4,819 554.6,818.2 554.2,816.6 Z" fill="#fff" stroke="#1c1c1c" stroke-width="1.49" stroke-linejoin="round" stroke-linecap="round" />
<rect x="671.4" y="799.8" width="25.6" height="24.4" rx="0.8" fill="#fff" stroke="#8a8a8a" stroke-width="0.8"/>
<rect x="678" y="802.6" width="9.4" height="5" rx="0" fill="#fff" stroke="#444" stroke-width="0.7"/>
<rect x="687.4" y="803.8" width="2.6" height="2.6" rx="0" fill="#fff" stroke="#444" stroke-width="0.6"/>
<line x1="679.8" y1="802.6" x2="679.8" y2="807.6" stroke="#444" stroke-width="0.69"/>
<rect x="677.4" y="802.2" width="1.2" height="5.8" rx="0" fill="#444" stroke="#444" stroke-width="0.5"/>
<text x="676" y="814" font-size="4.9" style="font-family:'Liberation Sans',sans-serif;font-weight:bold;letter-spacing:0" textLength="13.2" lengthAdjust="spacingAndGlyphs" stroke="#151515" stroke-width="0.15">Grease</text>
<text x="676" y="820.8" font-size="4.9" style="font-family:'Liberation Sans',sans-serif;font-weight:bold;letter-spacing:0" textLength="17" lengthAdjust="spacingAndGlyphs" stroke="#151515" stroke-width="0.15">Cartridge</text>
<rect x="707.2" y="799.8" width="26" height="24.4" rx="0.8" fill="#fff" stroke="#8a8a8a" stroke-width="0.8"/>
<rect x="713.8" y="802.6" width="9.4" height="5" rx="0" fill="#fff" stroke="#444" stroke-width="0.7"/>
<rect x="723.2" y="803.8" width="2.6" height="2.6" rx="0" fill="#fff" stroke="#444" stroke-width="0.6"/>
<line x1="715.6" y1="802.6" x2="715.6" y2="807.6" stroke="#444" stroke-width="0.69"/>
<rect x="713.2" y="802.2" width="1.2" height="5.8" rx="0" fill="#444" stroke="#444" stroke-width="0.5"/>
<text x="711.8" y="814" font-size="4.9" style="font-family:'Liberation Sans',sans-serif;font-weight:bold;letter-spacing:0" textLength="13.2" lengthAdjust="spacingAndGlyphs" stroke="#151515" stroke-width="0.15">Grease</text>
<text x="711.8" y="820.8" font-size="4.9" style="font-family:'Liberation Sans',sans-serif;font-weight:bold;letter-spacing:0" textLength="17" lengthAdjust="spacingAndGlyphs" stroke="#151515" stroke-width="0.15">Cartridge</text>
<rect x="743.4" y="798.8" width="26" height="25.4" rx="0.8" fill="#fff" stroke="#8a8a8a" stroke-width="0.8"/>
<text x="755.4" y="806.7" text-anchor="middle" font-size="8.4" textLength="22.8" lengthAdjust="spacingAndGlyphs" stroke="#151515" stroke-width="0.3" style="font-family:'Liberation Sans',sans-serif;font-weight:bold;letter-spacing:0">SET</text>
<ellipse cx="748.2" cy="812.8" rx="2.3" ry="3" fill="none" stroke="#111" stroke-width="1.95" transform="rotate(-25 748.2 812.8)"/>
<ellipse cx="750.8" cy="818" rx="2.6" ry="3.3" fill="none" stroke="#111" stroke-width="1.95" transform="rotate(-25 750.8 818)"/>
<rect x="756.4" y="809" width="1.8" height="5.6" rx="0" fill="#111" stroke="#1c1c1c" stroke-width="0.4"/>
<rect x="758" y="810.2" width="8.6" height="3" rx="0" fill="#222" stroke="#1c1c1c" stroke-width="0.4"/>
<rect x="757" y="818.2" width="8.4" height="4" rx="0" fill="#fff" stroke="#888" stroke-width="0.6"/>
<rect x="765.4" y="819.2" width="2" height="2" rx="0" fill="#fff" stroke="#888" stroke-width="0.5"/>
</svg></body></html>
